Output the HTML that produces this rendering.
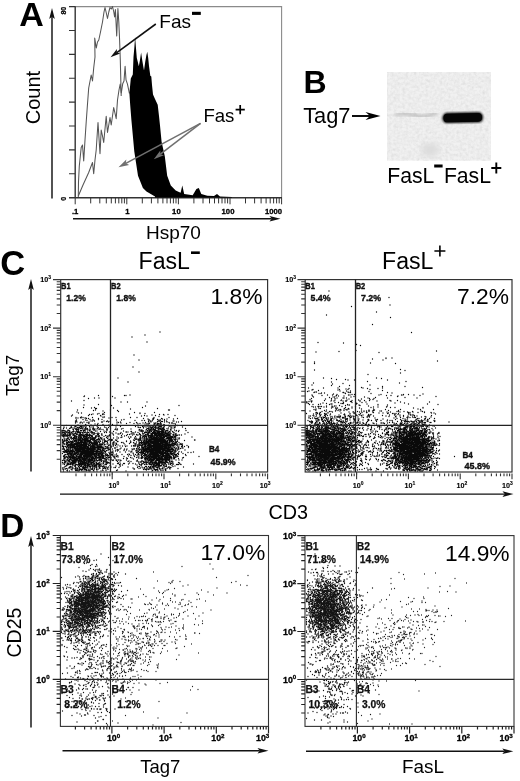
<!DOCTYPE html>
<html><head><meta charset="utf-8"><title>Figure</title>
<style>html,body{margin:0;padding:0;background:#fff;overflow:hidden}svg{display:block}svg,svg text{font-family:"Liberation Sans",Arial,Helvetica,sans-serif}</style></head>
<body>
<svg width="520" height="781" viewBox="0 0 520 781">
<rect width="520" height="781" fill="#fff"/>
<text x="19.2" y="26" font-size="34" font-weight="bold">A</text>
<line x1="52" y1="198.5" x2="52.0" y2="16.8" stroke="#111" stroke-width="1.45"/>
<polygon points="52.00,8.00 54.80,19.00 52.00,16.80 49.20,19.00" fill="#111"/>
<path d="M75 6.6H281.6V197.6" stroke="#8a8a8a" stroke-width="1.1" fill="none"/>
<path d="M75.2 6.2V198.2M69 197.7H282" stroke="#333" stroke-width="1.4" fill="none"/>
<path d="M69 6.6H75M69 30.5H75M69 54.4H75M69 78.2H75M69 102.1H75M69 126.0H75M69 149.9H75M69 173.8H75" stroke="#333" stroke-width="1.1" fill="none"/>
<text x="65.6" y="14.6" font-size="7" font-weight="bold" transform="rotate(-90 65.6 14.6)" stroke="#000" stroke-width=".25">80</text>
<text x="65.6" y="200.8" font-size="7" font-weight="bold" transform="rotate(-90 65.6 200.8)" stroke="#000" stroke-width=".25">0</text>
<path d="M75.2 197.7v6.6M90.7 197.7v5.7M99.8 197.7v5.7M106.3 197.7v5.7M111.3 197.7v5.7M115.4 197.7v5.7M118.8 197.7v5.7M121.8 197.7v5.7M124.4 197.7v5.7M126.8 197.7v6.6M142.3 197.7v5.7M151.4 197.7v5.7M157.9 197.7v5.7M162.9 197.7v5.7M167.0 197.7v5.7M170.4 197.7v5.7M173.4 197.7v5.7M176.0 197.7v5.7M178.4 197.7v6.6M193.9 197.7v5.7M203.0 197.7v5.7M209.5 197.7v5.7M214.5 197.7v5.7M218.6 197.7v5.7M222.0 197.7v5.7M225.0 197.7v5.7M227.6 197.7v5.7M230.0 197.7v6.6M245.5 197.7v5.7M254.6 197.7v5.7M261.1 197.7v5.7M266.1 197.7v5.7M270.2 197.7v5.7M273.6 197.7v5.7M276.6 197.7v5.7M279.2 197.7v5.7M281.6 197.7v6.6" stroke="#333" stroke-width="1" fill="none"/>
<text x="75.2" y="214.2" font-size="7.7" font-weight="bold" text-anchor="middle" stroke="#000" stroke-width=".3">.1</text>
<text x="127.5" y="214.2" font-size="7.7" font-weight="bold" text-anchor="middle" stroke="#000" stroke-width=".3">1</text>
<text x="176.4" y="214.2" font-size="7.7" font-weight="bold" text-anchor="middle" stroke="#000" stroke-width=".3">10</text>
<text x="228.0" y="214.2" font-size="7.7" font-weight="bold" text-anchor="middle" stroke="#000" stroke-width=".3">100</text>
<text x="273.6" y="214.2" font-size="7.7" font-weight="bold" text-anchor="middle" stroke="#000" stroke-width=".3">1000</text>
<line x1="73" y1="218.7" x2="271.7" y2="218.7" stroke="#111" stroke-width="1.45"/>
<polygon points="280.50,218.70 269.50,221.50 271.70,218.70 269.50,215.90" fill="#111"/>
<text x="146" y="239.3" font-size="19">Hsp70</text>
<text x="40.4" y="97.6" font-size="20" text-anchor="middle" transform="rotate(-90 40.4 97.6)">Count</text>
<polyline points="78.3,197 78.5,182 79.3,166 81.2,147.5 82.5,145 83.7,161 85,140 86.2,122 87.5,104 88.7,88 91.2,75 92.5,81 93.7,68 95,57 94.7,38 96.3,48 97.5,42 98.8,40 100.5,32 102.5,22 104,12 105,7.5 106.3,13 107.5,18.5 108.8,12 110,7.5 111.3,9 112.5,6.5 113.8,12 114.6,17 115.4,9.5 116.7,36 117.9,8.5 118.8,22 119.6,40 120.3,60 120.8,80 121.2,96" fill="none" stroke="#555" stroke-width="1.05" stroke-linejoin="round"/>
<polyline points="78.3,196 83,185 88.7,172.5 92.5,162.5 93.7,173.7 95,160 96.2,150 98,122.5 100,153.7 101.2,130 102.5,136 103.7,142.5 106.2,116.2 107.5,132.5 110,117.5 111.2,125 113.7,107.5 116.2,118.7 117.5,100 119,90 120.2,84 121.3,93 122.7,83.8 124,81 125.1,66.3 126,79.8 127.4,83.8 129.4,93.3" fill="none" stroke="#555" stroke-width="1.05" stroke-linejoin="round"/>
<polygon points="129.4,93.3 130.8,78.5 132.8,74.4 133.5,57 134.4,47 135.1,37 135.9,47 136.8,58 137.8,62 138.8,66.3 140,60 141.1,52.5 142.2,60 143.2,66 144,70.4 145.2,62 146.4,55 147.3,51.8 148.2,58 149,66 150.3,75.8 151.3,76.5 152,85 153,94.6 155,99 157.7,104.7 159,116 159.9,124.6 161.6,141.7 164.8,156.3 167.2,175.8 170.8,185.5 175.7,190.4 180.6,192.8 182.3,185.5 184.2,194 192.7,195.2 196.4,189.1 198.8,187.9 201.3,194 207.3,195.7 214,196 217,194 220,196.4 232,197 232,197.6 155,197.6 155,196.4 146.5,191.6 142.9,187.9 138,175.8 134.3,151.4 131.4,120 130.2,105 129.4,93.3" fill="#000"/>
<line x1="155.8" y1="24" x2="116.79" y2="52.59" stroke="#111" stroke-width="1.55"/>
<polygon points="110.50,57.20 116.91,49.03 116.79,52.59 120.22,53.55" fill="#111"/>
<line x1="200.5" y1="123.4" x2="125.82" y2="163.29" stroke="#707070" stroke-width="1.5"/>
<polygon points="118.50,167.20 126.35,159.61 125.82,163.29 129.18,164.90" fill="#707070"/>
<line x1="200.5" y1="123.4" x2="160.39" y2="154.15" stroke="#707070" stroke-width="1.5"/>
<polygon points="153.80,159.20 160.31,150.43 160.39,154.15 163.96,155.19" fill="#707070"/>
<text x="159.3" y="27.5" font-size="19">Fas</text>
<rect x="192" y="11.8" width="8.8" height="3.1" fill="#000"/>
<text x="203.4" y="121.6" font-size="18.6">Fas</text>
<path d="M235.6 109.6h9.2M240.2 105v9.2" stroke="#000" stroke-width="1.7" fill="none"/>
<text x="303.5" y="93" font-size="32" font-weight="bold">B</text>
<text x="303.2" y="122.7" font-size="21.8">Tag7</text>
<line x1="352" y1="116" x2="370.0" y2="116.0" stroke="#000" stroke-width="1.9"/>
<polygon points="380.50,116.00 365.50,120.00 370.00,116.00 365.50,112.00" fill="#000"/>
<defs><filter id="nz" x="0" y="0" width="100%" height="100%"><feTurbulence type="fractalNoise" baseFrequency="0.35" numOctaves="2" seed="3"/><feColorMatrix type="matrix" values="0 0 0 0 0  0 0 0 0 0  0 0 0 0 0  .5 .5 .5 0 -.58"/></filter><filter id="b1"><feGaussianBlur stdDeviation="1.5"/></filter><filter id="b2"><feGaussianBlur stdDeviation="0.9"/></filter><filter id="b3"><feGaussianBlur stdDeviation="3"/></filter></defs>
<rect x="387" y="72" width="104" height="88.6" fill="#f1f1f1"/>
<rect x="387" y="72" width="104" height="88.6" fill="#000" filter="url(#nz)" opacity=".12"/>
<ellipse cx="430" cy="150" rx="9" ry="7" fill="#dcdcdc" filter="url(#b3)"/>
<path d="M397 114.6 C405 112.5 412 114 420 116.5 C426 117.5 432 113.5 436 113.5" stroke="#aaa" stroke-width="4" fill="none" stroke-linecap="round" filter="url(#b1)" opacity=".58"/>
<rect x="442.5" y="112.6" width="40.5" height="10.2" rx="4.6" fill="#000" filter="url(#b2)" transform="rotate(-1.3 463 118)"/>
<rect x="443.5" y="113.4" width="38.5" height="8.6" rx="4" fill="#050505" transform="rotate(-1.3 463 118)"/>
<text x="387.2" y="183.4" font-size="21.2">FasL</text>
<rect x="434.2" y="164.5" width="8.4" height="3" fill="#000"/>
<text x="443.9" y="183.4" font-size="21.2">FasL</text>
<path d="M491.3 168h10M496.3 162.6v10.8" stroke="#000" stroke-width="1.9" fill="none"/>
<text x="0.2" y="275.3" font-size="34.5" font-weight="bold">C</text>
<line x1="31" y1="471.5" x2="31.0" y2="287.8" stroke="#111" stroke-width="1.45"/>
<polygon points="31.00,279.00 33.80,290.00 31.00,287.80 28.20,290.00" fill="#111"/>
<text x="19" y="375.3" font-size="19" text-anchor="middle" transform="rotate(-90 19 375.3)">Tag7</text>
<text x="138.6" y="268.6" font-size="23.1">FasL</text>
<rect x="191" y="251.4" width="8.8" height="2.6" fill="#000"/>
<text x="382.1" y="268.6" font-size="23.1">FasL</text>
<path d="M434.4 251h11M439.9 245.6v10.8" stroke="#000" stroke-width="1.6" fill="none"/>
<path d="M160 332h0M145 335h0M132 337h0M147 342h0M134 355h0M139 360h0M133 367h0M139 372h0M118 378h0M128 382h0M130 395h0M98.5 395.5h0M124.5 395.5h0M126 395.5h0M84.5 396h0M84 396.5h0M112.5 396.5h0M94.5 398h0M99 398h0M115 398h0M88.5 398.5h0M84 400.5h0M71.5 401h0M121 402h0M127.5 402h0M147 402h0M98.5 404.5h0M84 405h0M111.5 405.5h0M179 405.5h0M145.5 406h0M83.5 407.5h0M94.5 407.5h0M142.5 407.5h0M91.5 408h0M113.5 408h0M95.5 408.5h0M96.5 408.5h0M157.5 408.5h0M130.5 409h0M77.5 410h0M95.5 410h0M110.5 410h0M168.5 410h0M169.5 410h0M93.5 410.5h0M117.5 410.5h0M103 411h0M118.5 411.5h0M77 412h0M104.5 412.5h0M134.5 412.5h0M154.5 412.5h0M78.5 413h0M81.5 413h0M140 413h0M99 413.5h0M103 413.5h0M140 413.5h0M145 413.5h0M93 414h0M97.5 414h0M129.5 414h0M89.5 414.5h0M91.5 414.5h0M102.5 414.5h0M104 414.5h0M159.5 414.5h0M163.5 414.5h0M168 414.5h0M72.5 415h0M152 415h0M164 415h0M88.5 415.5h0M100.5 415.5h0M144.5 415.5h0M155.5 415.5h0M175 415.5h0M71.5 416h0M101 416h0M141.5 416h0M147 416h0M159 416.5h0M81.5 417h0M103 417h0M104.5 417h0M76 417.5h0M80.5 417.5h0M83 417.5h0M92.5 417.5h0M103 417.5h0M112 417.5h0M116 417.5h0M130.5 417.5h0M137 417.5h0M154 417.5h0M169 417.5h0M78 418h0M81 418h0M85 418h0M86 418h0M109 418h0M154 418h0M76 418.5h0M86.5 418.5h0M88.5 418.5h0M98.5 418.5h0M143.5 418.5h0M153 418.5h0M161.5 418.5h0M177.5 418.5h0M148 419h0M153.5 419h0M162.5 419h0M167 419h0M173.5 419h0M83 419.5h0M90 419.5h0M93 419.5h0M98.5 419.5h0M102 419.5h0M124 419.5h0M153 419.5h0M157.5 419.5h0M164.5 419.5h0M76.5 420h0M85.5 420h0M116.5 420h0M121.5 420h0M148.5 420h0M149.5 420h0M152.5 420h0M159 420h0M160.5 420h0M87 420.5h0M94 420.5h0M135 420.5h0M142 420.5h0M144.5 420.5h0M164.5 420.5h0M75.5 421h0M76.5 421h0M91 421h0M92.5 421h0M94.5 421h0M104 421h0M107.5 421h0M150.5 421h0M152 421h0M158.5 421h0M159.5 421h0M160 421h0M166.5 421h0M173 421h0M174 421h0M106.5 421.5h0M109 421.5h0M148.5 421.5h0M157.5 421.5h0M161.5 421.5h0M162.5 421.5h0M167 421.5h0M181.5 421.5h0M75.5 422h0M77 422h0M81 422h0M84 422h0M89 422h0M101.5 422h0M102.5 422h0M108.5 422h0M117 422h0M120.5 422h0M149 422h0M151 422h0M164.5 422h0M167 422h0M176.5 422h0M178.5 422h0M81 422.5h0M87 422.5h0M89 422.5h0M118.5 422.5h0M130 422.5h0M136.5 422.5h0M145.5 422.5h0M160.5 422.5h0M169 422.5h0M75.5 423h0M80 423h0M82.5 423h0M88.5 423h0M117 423h0M121 423h0M137 423h0M143 423h0M149 423h0M154 423h0M155.5 423h0M157 423h0M160.5 423h0M169.5 423h0M171.5 423h0M172.5 423h0M89 423.5h0M98 423.5h0M126.5 423.5h0M134 423.5h0M140 423.5h0M147 423.5h0M149.5 423.5h0M155 423.5h0M158 423.5h0M159 423.5h0M174 423.5h0M95 424h0M138 424h0M145 424h0M148.5 424h0M157.5 424h0M158.5 424h0M161 424h0M161.5 424h0M175.5 424h0M85.5 424.5h0M97.5 424.5h0M103 424.5h0M112.5 424.5h0M147 424.5h0M154 424.5h0M157 424.5h0M157.5 424.5h0M160 424.5h0M164 424.5h0M78 425h0M86 425h0M91 425h0M109 425h0M117 425h0M147 425h0M155 425h0M163.5 425h0M164.5 425h0M175.5 425h0M66.5 425.5h0M78.5 425.5h0M81 425.5h0M97.5 425.5h0M151 425.5h0M154.5 425.5h0M156 425.5h0M156.5 425.5h0M159 425.5h0M160 425.5h0M162 425.5h0M164 425.5h0M168.5 425.5h0M177.5 425.5h0M71.5 426h0M74.5 426h0M80 426h0M82 426h0M97 426h0M97.5 426h0M109.5 426h0M146 426h0M149.5 426h0M153.5 426h0M160 426h0M161.5 426h0M164.5 426h0M169 426h0M169.5 426h0M171 426h0M173 426h0M175.5 426h0M75.5 426.5h0M76 426.5h0M80.5 426.5h0M81.5 426.5h0M82 426.5h0M84 426.5h0M86 426.5h0M89.5 426.5h0M120.5 426.5h0M135.5 426.5h0M142.5 426.5h0M144 426.5h0M148 426.5h0M153 426.5h0M155.5 426.5h0M159 426.5h0M160 426.5h0M160.5 426.5h0M161 426.5h0M164 426.5h0M171 426.5h0M64 427h0M71 427h0M81.5 427h0M86 427h0M90 427h0M92 427h0M93.5 427h0M104.5 427h0M116 427h0M138 427h0M146 427h0M150.5 427h0M151 427h0M152.5 427h0M155 427h0M156 427h0M158 427h0M158.5 427h0M161.5 427h0M171 427h0M174.5 427h0M182.5 427h0M64 427.5h0M71.5 427.5h0M77.5 427.5h0M78 427.5h0M79.5 427.5h0M83 427.5h0M85.5 427.5h0M98.5 427.5h0M106 427.5h0M108.5 427.5h0M139 427.5h0M140.5 427.5h0M143.5 427.5h0M150 427.5h0M151.5 427.5h0M152.5 427.5h0M154 427.5h0M163 427.5h0M163.5 427.5h0M164 427.5h0M175 427.5h0M66.5 428h0M70.5 428h0M73 428h0M74.5 428h0M77 428h0M78.5 428h0M81 428h0M85.5 428h0M86 428h0M90 428h0M97.5 428h0M98 428h0M100.5 428h0M143.5 428h0M148.5 428h0M152 428h0M155.5 428h0M156 428h0M156.5 428h0M157.5 428h0M158 428h0M159 428h0M160 428h0M164 428h0M168.5 428h0M171 428h0M172 428h0M174 428h0M63.5 428.5h0M69.5 428.5h0M76 428.5h0M80.5 428.5h0M82 428.5h0M87.5 428.5h0M93 428.5h0M93.5 428.5h0M110.5 428.5h0M123 428.5h0M147 428.5h0M148 428.5h0M149 428.5h0M151 428.5h0M151.5 428.5h0M153.5 428.5h0M158 428.5h0M161 428.5h0M162.5 428.5h0M163 428.5h0M163.5 428.5h0M167 428.5h0M185.5 428.5h0M73 429h0M75.5 429h0M79 429h0M83 429h0M84.5 429h0M85.5 429h0M86.5 429h0M87 429h0M87.5 429h0M90 429h0M92.5 429h0M94 429h0M95 429h0M97 429h0M99.5 429h0M106.5 429h0M107.5 429h0M115.5 429h0M116 429h0M117.5 429h0M121.5 429h0M131 429h0M148.5 429h0M151 429h0M153 429h0M153.5 429h0M154 429h0M155.5 429h0M159.5 429h0M160 429h0M160.5 429h0M161.5 429h0M162 429h0M163.5 429h0M164 429h0M73 429.5h0M73.5 429.5h0M76 429.5h0M76.5 429.5h0M77.5 429.5h0M78.5 429.5h0M99 429.5h0M101 429.5h0M103 429.5h0M115 429.5h0M139.5 429.5h0M146.5 429.5h0M150 429.5h0M150.5 429.5h0M151.5 429.5h0M153.5 429.5h0M154 429.5h0M154.5 429.5h0M158.5 429.5h0M161 429.5h0M161.5 429.5h0M162 429.5h0M163.5 429.5h0M164.5 429.5h0M170.5 429.5h0M171 429.5h0M68 430h0M73.5 430h0M83 430h0M85.5 430h0M87.5 430h0M89 430h0M90.5 430h0M93.5 430h0M94.5 430h0M107 430h0M117 430h0M139 430h0M141 430h0M142 430h0M146 430h0M149 430h0M149.5 430h0M152.5 430h0M154 430h0M154.5 430h0M155.5 430h0M158 430h0M162 430h0M163 430h0M164 430h0M168 430h0M174.5 430h0M63.5 430.5h0M78.5 430.5h0M80.5 430.5h0M81.5 430.5h0M83.5 430.5h0M84.5 430.5h0M89.5 430.5h0M107 430.5h0M141.5 430.5h0M147.5 430.5h0M149.5 430.5h0M150 430.5h0M150.5 430.5h0M154 430.5h0M154.5 430.5h0M155 430.5h0M156.5 430.5h0M158 430.5h0M164 430.5h0M166 430.5h0M167 430.5h0M167.5 430.5h0M171 430.5h0M176.5 430.5h0M179 430.5h0M186 430.5h0M69.5 431h0M76.5 431h0M77 431h0M78.5 431h0M81 431h0M95.5 431h0M97 431h0M104 431h0M123.5 431h0M140 431h0M141 431h0M142.5 431h0M143 431h0M143.5 431h0M147.5 431h0M148 431h0M149.5 431h0M151 431h0M151.5 431h0M154 431h0M155 431h0M155.5 431h0M156.5 431h0M157.5 431h0M158.5 431h0M159.5 431h0M161.5 431h0M162.5 431h0M165.5 431h0M176 431h0M66 431.5h0M73 431.5h0M74 431.5h0M78 431.5h0M78.5 431.5h0M83.5 431.5h0M91.5 431.5h0M92 431.5h0M100.5 431.5h0M106 431.5h0M113.5 431.5h0M131 431.5h0M131.5 431.5h0M142 431.5h0M146 431.5h0M149.5 431.5h0M151.5 431.5h0M153.5 431.5h0M154 431.5h0M154.5 431.5h0M155 431.5h0M157 431.5h0M157.5 431.5h0M159.5 431.5h0M160.5 431.5h0M161 431.5h0M162 431.5h0M162.5 431.5h0M163 431.5h0M163.5 431.5h0M164 431.5h0M165.5 431.5h0M167 431.5h0M169 431.5h0M170 431.5h0M172.5 431.5h0M178.5 431.5h0M66 432h0M72 432h0M73 432h0M75.5 432h0M77 432h0M79.5 432h0M84 432h0M85.5 432h0M87.5 432h0M90 432h0M91 432h0M109.5 432h0M126 432h0M126.5 432h0M128 432h0M135.5 432h0M149 432h0M150 432h0M157 432h0M158 432h0M158.5 432h0M159 432h0M159.5 432h0M160 432h0M161.5 432h0M163.5 432h0M165.5 432h0M173 432h0M67 432.5h0M70 432.5h0M71.5 432.5h0M77.5 432.5h0M78 432.5h0M79 432.5h0M80 432.5h0M81 432.5h0M82.5 432.5h0M84.5 432.5h0M85 432.5h0M88.5 432.5h0M92.5 432.5h0M94 432.5h0M104.5 432.5h0M106.5 432.5h0M121 432.5h0M138 432.5h0M144.5 432.5h0M145 432.5h0M145.5 432.5h0M146.5 432.5h0M148 432.5h0M149 432.5h0M149.5 432.5h0M150 432.5h0M152.5 432.5h0M153 432.5h0M154 432.5h0M154.5 432.5h0M155.5 432.5h0M157.5 432.5h0M158.5 432.5h0M159.5 432.5h0M161.5 432.5h0M162 432.5h0M162.5 432.5h0M163 432.5h0M163.5 432.5h0M165 432.5h0M168.5 432.5h0M174 432.5h0M188 432.5h0M67.5 433h0M69 433h0M77 433h0M83 433h0M86.5 433h0M87 433h0M91.5 433h0M93 433h0M94.5 433h0M98 433h0M112 433h0M116 433h0M132 433h0M133 433h0M134 433h0M142.5 433h0M147.5 433h0M148 433h0M148.5 433h0M150 433h0M153.5 433h0M154.5 433h0M155.5 433h0M156.5 433h0M157 433h0M159 433h0M160 433h0M161.5 433h0M162.5 433h0M163.5 433h0M164.5 433h0M165.5 433h0M166 433h0M166.5 433h0M167.5 433h0M168 433h0M169.5 433h0M170.5 433h0M72 433.5h0M75 433.5h0M75.5 433.5h0M80.5 433.5h0M83 433.5h0M93 433.5h0M95 433.5h0M97 433.5h0M99 433.5h0M120.5 433.5h0M139.5 433.5h0M144 433.5h0M148 433.5h0M151.5 433.5h0M152 433.5h0M152.5 433.5h0M153.5 433.5h0M154 433.5h0M155.5 433.5h0M156 433.5h0M156.5 433.5h0M157.5 433.5h0M158 433.5h0M158.5 433.5h0M159 433.5h0M159.5 433.5h0M160 433.5h0M161 433.5h0M161.5 433.5h0M162.5 433.5h0M165 433.5h0M165.5 433.5h0M166.5 433.5h0M168 433.5h0M171 433.5h0M176 433.5h0M64 434h0M64.5 434h0M65 434h0M70.5 434h0M72 434h0M73 434h0M74 434h0M76.5 434h0M77 434h0M79.5 434h0M80 434h0M87.5 434h0M89.5 434h0M93 434h0M101.5 434h0M102 434h0M113 434h0M118 434h0M119 434h0M122.5 434h0M131 434h0M143 434h0M148 434h0M148.5 434h0M151 434h0M152 434h0M152.5 434h0M154.5 434h0M155 434h0M156 434h0M156.5 434h0M157 434h0M158 434h0M158.5 434h0M159 434h0M160 434h0M161.5 434h0M162 434h0M163 434h0M166.5 434h0M167 434h0M168 434h0M169 434h0M174 434h0M175.5 434h0M185 434h0M63.5 434.5h0M69.5 434.5h0M73.5 434.5h0M74 434.5h0M76.5 434.5h0M78 434.5h0M80.5 434.5h0M81 434.5h0M82 434.5h0M85.5 434.5h0M86 434.5h0M87 434.5h0M87.5 434.5h0M89 434.5h0M90 434.5h0M94 434.5h0M97.5 434.5h0M98.5 434.5h0M110 434.5h0M127.5 434.5h0M129.5 434.5h0M134 434.5h0M136.5 434.5h0M139.5 434.5h0M140.5 434.5h0M145.5 434.5h0M147 434.5h0M151 434.5h0M152.5 434.5h0M154.5 434.5h0M156 434.5h0M157 434.5h0M158.5 434.5h0M159.5 434.5h0M160 434.5h0M160.5 434.5h0M161.5 434.5h0M162 434.5h0M162.5 434.5h0M164 434.5h0M164.5 434.5h0M168 434.5h0M169.5 434.5h0M173 434.5h0M173.5 434.5h0M69 435h0M70.5 435h0M73.5 435h0M74 435h0M79.5 435h0M80 435h0M81 435h0M82.5 435h0M83.5 435h0M84 435h0M85 435h0M86.5 435h0M89 435h0M102 435h0M109.5 435h0M113.5 435h0M132.5 435h0M137 435h0M138 435h0M143 435h0M145.5 435h0M146 435h0M147 435h0M148 435h0M151.5 435h0M152.5 435h0M155 435h0M155.5 435h0M156.5 435h0M157 435h0M158.5 435h0M159 435h0M160 435h0M160.5 435h0M161 435h0M162.5 435h0M163.5 435h0M165 435h0M166 435h0M167.5 435h0M169 435h0M169.5 435h0M170.5 435h0M174 435h0M175.5 435h0M176 435h0M176.5 435h0M178 435h0M179.5 435h0M181.5 435h0M64 435.5h0M66 435.5h0M67 435.5h0M67.5 435.5h0M68.5 435.5h0M70 435.5h0M73 435.5h0M75 435.5h0M79 435.5h0M80.5 435.5h0M81 435.5h0M82.5 435.5h0M84 435.5h0M84.5 435.5h0M85 435.5h0M86.5 435.5h0M87.5 435.5h0M88 435.5h0M89 435.5h0M89.5 435.5h0M90.5 435.5h0M91 435.5h0M91.5 435.5h0M92 435.5h0M97 435.5h0M99 435.5h0M102 435.5h0M105.5 435.5h0M109 435.5h0M121.5 435.5h0M126.5 435.5h0M141 435.5h0M144.5 435.5h0M149 435.5h0M150 435.5h0M150.5 435.5h0M151 435.5h0M151.5 435.5h0M152 435.5h0M153 435.5h0M154.5 435.5h0M155.5 435.5h0M158 435.5h0M158.5 435.5h0M160.5 435.5h0M161 435.5h0M162 435.5h0M163 435.5h0M165 435.5h0M165.5 435.5h0M166 435.5h0M167 435.5h0M167.5 435.5h0M168 435.5h0M169 435.5h0M169.5 435.5h0M170 435.5h0M177 435.5h0M63.5 436h0M67 436h0M67.5 436h0M70 436h0M74.5 436h0M75.5 436h0M76 436h0M78.5 436h0M79 436h0M80 436h0M80.5 436h0M81 436h0M81.5 436h0M83 436h0M83.5 436h0M86.5 436h0M87.5 436h0M91.5 436h0M92.5 436h0M95.5 436h0M96.5 436h0M98.5 436h0M99.5 436h0M107 436h0M110 436h0M124.5 436h0M140.5 436h0M143 436h0M144 436h0M144.5 436h0M148 436h0M148.5 436h0M150.5 436h0M151 436h0M151.5 436h0M152 436h0M154 436h0M154.5 436h0M156 436h0M157 436h0M159 436h0M159.5 436h0M160.5 436h0M161.5 436h0M163.5 436h0M164 436h0M164.5 436h0M166 436h0M166.5 436h0M167.5 436h0M168.5 436h0M173 436h0M174 436h0M176 436h0M63 436.5h0M63.5 436.5h0M65 436.5h0M67 436.5h0M70 436.5h0M74.5 436.5h0M76.5 436.5h0M77 436.5h0M79 436.5h0M81 436.5h0M84 436.5h0M84.5 436.5h0M85.5 436.5h0M86.5 436.5h0M89.5 436.5h0M91.5 436.5h0M92.5 436.5h0M95.5 436.5h0M96 436.5h0M98 436.5h0M98.5 436.5h0M104 436.5h0M108 436.5h0M135.5 436.5h0M143.5 436.5h0M145.5 436.5h0M146.5 436.5h0M148.5 436.5h0M150.5 436.5h0M151.5 436.5h0M153 436.5h0M156.5 436.5h0M157.5 436.5h0M159 436.5h0M159.5 436.5h0M160.5 436.5h0M161.5 436.5h0M163 436.5h0M163.5 436.5h0M164 436.5h0M165 436.5h0M165.5 436.5h0M166.5 436.5h0M167 436.5h0M170 436.5h0M170.5 436.5h0M171.5 436.5h0M172.5 436.5h0M175 436.5h0M175.5 436.5h0M70 437h0M71.5 437h0M75 437h0M76.5 437h0M77 437h0M81 437h0M83.5 437h0M84.5 437h0M86.5 437h0M87 437h0M95.5 437h0M96 437h0M99 437h0M117 437h0M122 437h0M128.5 437h0M130.5 437h0M131 437h0M140 437h0M140.5 437h0M142.5 437h0M146 437h0M146.5 437h0M149.5 437h0M150 437h0M150.5 437h0M151.5 437h0M152 437h0M154.5 437h0M156.5 437h0M159 437h0M160.5 437h0M161 437h0M162 437h0M163 437h0M163.5 437h0M164.5 437h0M168.5 437h0M169.5 437h0M171 437h0M174.5 437h0M192 437h0M68 437.5h0M71.5 437.5h0M73.5 437.5h0M74 437.5h0M74.5 437.5h0M75 437.5h0M76.5 437.5h0M78.5 437.5h0M80 437.5h0M80.5 437.5h0M81 437.5h0M81.5 437.5h0M83.5 437.5h0M86.5 437.5h0M88.5 437.5h0M90.5 437.5h0M93 437.5h0M95 437.5h0M96 437.5h0M100.5 437.5h0M106.5 437.5h0M121 437.5h0M144.5 437.5h0M150 437.5h0M150.5 437.5h0M151 437.5h0M151.5 437.5h0M152 437.5h0M153.5 437.5h0M154 437.5h0M154.5 437.5h0M155.5 437.5h0M156 437.5h0M156.5 437.5h0M157 437.5h0M157.5 437.5h0M158.5 437.5h0M161 437.5h0M162 437.5h0M162.5 437.5h0M163.5 437.5h0M164 437.5h0M164.5 437.5h0M167 437.5h0M167.5 437.5h0M168.5 437.5h0M169.5 437.5h0M170.5 437.5h0M172 437.5h0M173 437.5h0M175.5 437.5h0M64 438h0M68.5 438h0M70.5 438h0M74 438h0M76 438h0M79 438h0M82 438h0M85.5 438h0M86 438h0M87 438h0M87.5 438h0M88.5 438h0M89.5 438h0M91 438h0M92 438h0M93 438h0M94 438h0M95 438h0M95.5 438h0M101 438h0M102 438h0M108 438h0M113.5 438h0M118.5 438h0M134.5 438h0M136 438h0M140 438h0M141 438h0M143 438h0M147 438h0M148.5 438h0M149.5 438h0M151.5 438h0M153 438h0M154 438h0M154.5 438h0M155 438h0M155.5 438h0M156.5 438h0M157.5 438h0M158 438h0M158.5 438h0M159.5 438h0M160 438h0M161.5 438h0M162 438h0M162.5 438h0M163 438h0M163.5 438h0M164 438h0M167 438h0M168 438h0M169 438h0M171 438h0M171.5 438h0M173.5 438h0M175 438h0M175.5 438h0M176 438h0M178 438h0M179.5 438h0M67.5 438.5h0M68 438.5h0M72.5 438.5h0M73.5 438.5h0M74.5 438.5h0M75.5 438.5h0M76.5 438.5h0M78 438.5h0M82.5 438.5h0M83 438.5h0M84.5 438.5h0M86 438.5h0M87.5 438.5h0M88 438.5h0M92 438.5h0M93.5 438.5h0M95 438.5h0M98.5 438.5h0M107.5 438.5h0M129.5 438.5h0M140 438.5h0M143 438.5h0M144.5 438.5h0M146 438.5h0M151.5 438.5h0M152.5 438.5h0M153 438.5h0M154 438.5h0M155 438.5h0M155.5 438.5h0M156.5 438.5h0M159.5 438.5h0M160 438.5h0M160.5 438.5h0M161.5 438.5h0M162 438.5h0M162.5 438.5h0M163.5 438.5h0M164 438.5h0M166 438.5h0M167 438.5h0M168 438.5h0M168.5 438.5h0M169.5 438.5h0M170 438.5h0M170.5 438.5h0M171 438.5h0M65 439h0M66.5 439h0M67 439h0M71.5 439h0M73.5 439h0M74 439h0M76.5 439h0M78 439h0M79.5 439h0M80 439h0M80.5 439h0M81 439h0M82 439h0M82.5 439h0M83 439h0M84.5 439h0M85.5 439h0M86 439h0M87 439h0M87.5 439h0M90.5 439h0M92.5 439h0M93.5 439h0M94.5 439h0M99 439h0M100 439h0M101.5 439h0M104 439h0M104.5 439h0M117 439h0M135 439h0M137 439h0M139 439h0M139.5 439h0M141 439h0M146 439h0M146.5 439h0M147 439h0M147.5 439h0M149.5 439h0M150.5 439h0M151 439h0M152 439h0M153.5 439h0M154 439h0M155 439h0M155.5 439h0M156 439h0M157.5 439h0M158 439h0M159.5 439h0M160 439h0M161 439h0M161.5 439h0M162 439h0M163 439h0M164 439h0M166 439h0M170.5 439h0M172 439h0M179 439h0M62.5 439.5h0M67 439.5h0M69 439.5h0M69.5 439.5h0M73.5 439.5h0M74 439.5h0M78.5 439.5h0M79 439.5h0M84 439.5h0M85 439.5h0M85.5 439.5h0M86 439.5h0M87.5 439.5h0M88 439.5h0M91 439.5h0M92 439.5h0M92.5 439.5h0M93 439.5h0M93.5 439.5h0M94 439.5h0M94.5 439.5h0M97 439.5h0M97.5 439.5h0M98 439.5h0M109.5 439.5h0M111 439.5h0M112 439.5h0M136 439.5h0M138.5 439.5h0M140.5 439.5h0M143 439.5h0M144.5 439.5h0M148 439.5h0M149.5 439.5h0M151.5 439.5h0M152 439.5h0M153 439.5h0M153.5 439.5h0M154 439.5h0M154.5 439.5h0M156 439.5h0M156.5 439.5h0M157 439.5h0M157.5 439.5h0M158 439.5h0M158.5 439.5h0M159.5 439.5h0M160 439.5h0M161.5 439.5h0M162 439.5h0M162.5 439.5h0M163 439.5h0M164 439.5h0M164.5 439.5h0M168 439.5h0M168.5 439.5h0M169.5 439.5h0M170 439.5h0M171 439.5h0M172 439.5h0M174 439.5h0M175 439.5h0M176 439.5h0M63 440h0M64.5 440h0M66.5 440h0M74 440h0M75.5 440h0M77 440h0M77.5 440h0M78.5 440h0M79 440h0M79.5 440h0M80 440h0M80.5 440h0M81 440h0M82.5 440h0M83.5 440h0M84 440h0M84.5 440h0M85 440h0M87 440h0M88 440h0M88.5 440h0M90 440h0M93.5 440h0M96 440h0M98 440h0M99.5 440h0M102.5 440h0M104 440h0M104.5 440h0M108.5 440h0M109 440h0M112.5 440h0M115.5 440h0M133.5 440h0M138 440h0M140 440h0M144.5 440h0M145 440h0M146.5 440h0M148.5 440h0M149.5 440h0M150.5 440h0M151 440h0M155 440h0M155.5 440h0M156 440h0M156.5 440h0M157.5 440h0M158 440h0M158.5 440h0M159.5 440h0M160 440h0M161 440h0M162 440h0M163.5 440h0M165 440h0M166 440h0M169 440h0M170 440h0M171 440h0M172 440h0M172.5 440h0M175.5 440h0M177.5 440h0M194.5 440h0M195 440h0M62.5 440.5h0M65 440.5h0M67.5 440.5h0M74 440.5h0M74.5 440.5h0M76.5 440.5h0M78.5 440.5h0M79 440.5h0M82 440.5h0M84 440.5h0M84.5 440.5h0M85.5 440.5h0M86 440.5h0M86.5 440.5h0M87.5 440.5h0M88 440.5h0M88.5 440.5h0M89 440.5h0M90.5 440.5h0M93 440.5h0M94.5 440.5h0M95.5 440.5h0M96 440.5h0M105 440.5h0M111.5 440.5h0M116.5 440.5h0M134.5 440.5h0M139 440.5h0M141 440.5h0M143 440.5h0M145 440.5h0M148.5 440.5h0M150.5 440.5h0M154 440.5h0M154.5 440.5h0M155 440.5h0M155.5 440.5h0M156 440.5h0M158.5 440.5h0M159 440.5h0M159.5 440.5h0M160.5 440.5h0M161 440.5h0M162 440.5h0M162.5 440.5h0M163 440.5h0M163.5 440.5h0M164 440.5h0M165 440.5h0M165.5 440.5h0M167.5 440.5h0M169 440.5h0M172.5 440.5h0M175 440.5h0M184.5 440.5h0M64 441h0M64.5 441h0M66 441h0M67 441h0M70 441h0M72.5 441h0M75 441h0M75.5 441h0M76.5 441h0M80 441h0M81 441h0M82 441h0M82.5 441h0M85 441h0M86 441h0M86.5 441h0M87.5 441h0M90 441h0M90.5 441h0M95 441h0M96.5 441h0M98 441h0M100.5 441h0M106 441h0M107.5 441h0M126.5 441h0M130.5 441h0M141.5 441h0M144 441h0M144.5 441h0M145 441h0M146 441h0M146.5 441h0M147 441h0M147.5 441h0M148 441h0M148.5 441h0M149 441h0M150 441h0M150.5 441h0M151 441h0M151.5 441h0M152 441h0M152.5 441h0M153.5 441h0M154 441h0M154.5 441h0M155.5 441h0M157 441h0M157.5 441h0M158 441h0M158.5 441h0M159 441h0M161 441h0M161.5 441h0M162.5 441h0M164.5 441h0M165 441h0M167 441h0M167.5 441h0M169.5 441h0M170.5 441h0M171.5 441h0M172 441h0M175 441h0M63.5 441.5h0M64 441.5h0M68.5 441.5h0M70.5 441.5h0M71.5 441.5h0M72.5 441.5h0M74 441.5h0M75 441.5h0M76.5 441.5h0M78.5 441.5h0M80.5 441.5h0M84 441.5h0M85 441.5h0M85.5 441.5h0M86 441.5h0M87.5 441.5h0M88 441.5h0M88.5 441.5h0M89 441.5h0M94 441.5h0M94.5 441.5h0M95 441.5h0M96.5 441.5h0M98 441.5h0M99 441.5h0M100.5 441.5h0M104.5 441.5h0M105.5 441.5h0M106 441.5h0M107 441.5h0M114 441.5h0M117.5 441.5h0M118 441.5h0M126.5 441.5h0M139 441.5h0M141.5 441.5h0M143.5 441.5h0M145 441.5h0M146.5 441.5h0M148 441.5h0M149 441.5h0M150 441.5h0M150.5 441.5h0M151.5 441.5h0M152.5 441.5h0M153.5 441.5h0M154 441.5h0M155 441.5h0M155.5 441.5h0M156 441.5h0M157.5 441.5h0M158 441.5h0M159 441.5h0M160 441.5h0M160.5 441.5h0M161.5 441.5h0M162 441.5h0M162.5 441.5h0M163.5 441.5h0M164.5 441.5h0M166 441.5h0M167.5 441.5h0M169.5 441.5h0M170 441.5h0M171.5 441.5h0M173.5 441.5h0M176 441.5h0M177.5 441.5h0M62.5 442h0M63 442h0M63.5 442h0M69 442h0M71.5 442h0M72 442h0M73.5 442h0M77 442h0M77.5 442h0M80.5 442h0M81 442h0M81.5 442h0M82 442h0M82.5 442h0M83.5 442h0M84.5 442h0M87.5 442h0M89.5 442h0M90.5 442h0M91.5 442h0M96 442h0M102.5 442h0M110.5 442h0M114 442h0M131 442h0M136.5 442h0M139 442h0M146.5 442h0M147.5 442h0M149 442h0M150 442h0M151 442h0M151.5 442h0M152 442h0M153 442h0M153.5 442h0M154.5 442h0M155.5 442h0M156 442h0M156.5 442h0M157 442h0M157.5 442h0M158 442h0M158.5 442h0M160.5 442h0M161 442h0M162 442h0M162.5 442h0M163 442h0M164 442h0M164.5 442h0M165 442h0M165.5 442h0M166.5 442h0M169 442h0M169.5 442h0M170 442h0M172.5 442h0M176.5 442h0M66.5 442.5h0M67.5 442.5h0M68.5 442.5h0M69.5 442.5h0M71.5 442.5h0M72.5 442.5h0M77 442.5h0M78 442.5h0M78.5 442.5h0M79 442.5h0M80 442.5h0M81 442.5h0M82 442.5h0M82.5 442.5h0M85 442.5h0M85.5 442.5h0M86 442.5h0M87 442.5h0M89 442.5h0M90 442.5h0M90.5 442.5h0M91 442.5h0M93 442.5h0M94.5 442.5h0M95.5 442.5h0M96 442.5h0M97 442.5h0M98 442.5h0M99.5 442.5h0M103 442.5h0M104.5 442.5h0M107.5 442.5h0M113 442.5h0M114 442.5h0M121.5 442.5h0M123 442.5h0M130.5 442.5h0M133.5 442.5h0M140 442.5h0M141 442.5h0M142 442.5h0M142.5 442.5h0M143.5 442.5h0M144 442.5h0M144.5 442.5h0M145 442.5h0M146 442.5h0M147.5 442.5h0M148 442.5h0M148.5 442.5h0M150 442.5h0M150.5 442.5h0M151.5 442.5h0M152.5 442.5h0M153 442.5h0M153.5 442.5h0M154 442.5h0M154.5 442.5h0M155 442.5h0M155.5 442.5h0M156.5 442.5h0M157 442.5h0M157.5 442.5h0M158 442.5h0M158.5 442.5h0M160 442.5h0M161.5 442.5h0M162 442.5h0M162.5 442.5h0M163 442.5h0M164 442.5h0M164.5 442.5h0M165.5 442.5h0M166.5 442.5h0M167 442.5h0M167.5 442.5h0M169.5 442.5h0M170 442.5h0M175.5 442.5h0M176.5 442.5h0M179 442.5h0M62.5 443h0M63 443h0M66.5 443h0M68 443h0M70 443h0M71 443h0M71.5 443h0M72 443h0M73 443h0M75.5 443h0M76 443h0M77 443h0M78.5 443h0M79 443h0M80 443h0M81.5 443h0M83.5 443h0M84 443h0M85.5 443h0M86 443h0M87 443h0M89.5 443h0M91 443h0M92 443h0M92.5 443h0M93.5 443h0M94.5 443h0M95.5 443h0M96.5 443h0M97 443h0M99.5 443h0M103 443h0M116 443h0M134 443h0M141.5 443h0M143.5 443h0M145.5 443h0M146 443h0M146.5 443h0M147.5 443h0M148 443h0M148.5 443h0M153 443h0M154 443h0M155 443h0M156.5 443h0M157.5 443h0M158 443h0M158.5 443h0M159 443h0M159.5 443h0M160 443h0M160.5 443h0M161 443h0M161.5 443h0M162 443h0M162.5 443h0M164.5 443h0M165 443h0M165.5 443h0M166 443h0M167 443h0M168.5 443h0M172 443h0M174 443h0M174.5 443h0M64 443.5h0M67.5 443.5h0M71 443.5h0M71.5 443.5h0M74.5 443.5h0M75.5 443.5h0M76.5 443.5h0M77 443.5h0M77.5 443.5h0M78 443.5h0M79 443.5h0M79.5 443.5h0M80 443.5h0M81.5 443.5h0M83.5 443.5h0M85 443.5h0M86.5 443.5h0M89 443.5h0M89.5 443.5h0M91.5 443.5h0M92 443.5h0M93 443.5h0M93.5 443.5h0M95 443.5h0M96 443.5h0M97 443.5h0M97.5 443.5h0M113 443.5h0M116.5 443.5h0M124 443.5h0M129.5 443.5h0M136 443.5h0M139 443.5h0M140 443.5h0M141.5 443.5h0M142 443.5h0M144.5 443.5h0M146.5 443.5h0M148 443.5h0M149 443.5h0M149.5 443.5h0M150.5 443.5h0M151.5 443.5h0M152 443.5h0M153 443.5h0M153.5 443.5h0M154 443.5h0M154.5 443.5h0M155 443.5h0M156 443.5h0M156.5 443.5h0M157 443.5h0M157.5 443.5h0M158.5 443.5h0M159 443.5h0M159.5 443.5h0M160.5 443.5h0M161 443.5h0M161.5 443.5h0M162 443.5h0M163 443.5h0M164 443.5h0M165.5 443.5h0M166 443.5h0M166.5 443.5h0M167 443.5h0M167.5 443.5h0M173 443.5h0M176 443.5h0M181 443.5h0M64.5 444h0M66 444h0M71 444h0M72 444h0M73 444h0M74 444h0M78 444h0M80 444h0M80.5 444h0M81.5 444h0M83 444h0M84.5 444h0M85.5 444h0M86 444h0M87 444h0M87.5 444h0M88.5 444h0M89 444h0M91 444h0M92.5 444h0M94.5 444h0M95 444h0M95.5 444h0M96 444h0M96.5 444h0M100.5 444h0M101.5 444h0M102.5 444h0M104 444h0M107 444h0M108 444h0M112.5 444h0M114 444h0M116 444h0M135 444h0M139.5 444h0M140 444h0M144 444h0M145 444h0M146 444h0M146.5 444h0M148 444h0M148.5 444h0M149 444h0M149.5 444h0M150.5 444h0M151.5 444h0M153.5 444h0M154 444h0M154.5 444h0M155 444h0M155.5 444h0M156 444h0M156.5 444h0M157 444h0M158 444h0M158.5 444h0M159.5 444h0M160 444h0M161 444h0M161.5 444h0M162.5 444h0M163.5 444h0M164 444h0M165.5 444h0M166.5 444h0M167 444h0M169.5 444h0M171 444h0M172 444h0M174 444h0M175 444h0M177.5 444h0M180 444h0M182.5 444h0M64 444.5h0M66.5 444.5h0M68.5 444.5h0M69.5 444.5h0M70.5 444.5h0M71 444.5h0M72 444.5h0M72.5 444.5h0M73 444.5h0M73.5 444.5h0M74 444.5h0M75 444.5h0M76 444.5h0M76.5 444.5h0M77 444.5h0M80 444.5h0M81 444.5h0M81.5 444.5h0M82 444.5h0M82.5 444.5h0M83 444.5h0M83.5 444.5h0M84 444.5h0M85 444.5h0M85.5 444.5h0M86 444.5h0M87 444.5h0M89 444.5h0M90.5 444.5h0M92.5 444.5h0M93 444.5h0M95 444.5h0M96 444.5h0M96.5 444.5h0M97 444.5h0M97.5 444.5h0M99.5 444.5h0M100.5 444.5h0M101 444.5h0M101.5 444.5h0M102.5 444.5h0M104.5 444.5h0M105 444.5h0M116.5 444.5h0M139 444.5h0M142 444.5h0M142.5 444.5h0M143 444.5h0M144.5 444.5h0M145.5 444.5h0M146 444.5h0M148.5 444.5h0M149.5 444.5h0M150.5 444.5h0M151 444.5h0M153 444.5h0M156.5 444.5h0M158 444.5h0M158.5 444.5h0M159 444.5h0M159.5 444.5h0M161 444.5h0M162.5 444.5h0M163 444.5h0M164 444.5h0M164.5 444.5h0M165.5 444.5h0M166 444.5h0M166.5 444.5h0M167.5 444.5h0M168 444.5h0M168.5 444.5h0M169.5 444.5h0M170 444.5h0M170.5 444.5h0M175.5 444.5h0M181 444.5h0M181.5 444.5h0M182 444.5h0M62.5 445h0M67 445h0M67.5 445h0M68 445h0M69 445h0M70.5 445h0M72.5 445h0M74 445h0M74.5 445h0M77 445h0M77.5 445h0M78 445h0M78.5 445h0M79 445h0M84 445h0M84.5 445h0M85.5 445h0M87 445h0M88.5 445h0M89 445h0M93 445h0M93.5 445h0M94 445h0M96 445h0M98.5 445h0M100 445h0M102 445h0M109.5 445h0M113.5 445h0M118 445h0M125 445h0M135 445h0M135.5 445h0M137 445h0M138 445h0M140.5 445h0M144.5 445h0M145.5 445h0M147.5 445h0M148 445h0M149 445h0M149.5 445h0M150.5 445h0M153 445h0M154 445h0M154.5 445h0M155 445h0M155.5 445h0M156.5 445h0M157.5 445h0M158.5 445h0M160 445h0M160.5 445h0M161 445h0M163 445h0M163.5 445h0M164.5 445h0M165 445h0M165.5 445h0M166 445h0M166.5 445h0M167 445h0M167.5 445h0M168 445h0M170.5 445h0M171 445h0M171.5 445h0M172.5 445h0M173 445h0M174 445h0M174.5 445h0M176.5 445h0M177 445h0M179 445h0M68 445.5h0M70.5 445.5h0M71.5 445.5h0M72 445.5h0M73.5 445.5h0M74.5 445.5h0M76 445.5h0M77 445.5h0M77.5 445.5h0M79.5 445.5h0M80 445.5h0M80.5 445.5h0M81 445.5h0M81.5 445.5h0M82 445.5h0M83 445.5h0M83.5 445.5h0M84 445.5h0M84.5 445.5h0M85 445.5h0M86.5 445.5h0M88.5 445.5h0M89.5 445.5h0M90.5 445.5h0M92 445.5h0M92.5 445.5h0M97 445.5h0M97.5 445.5h0M108.5 445.5h0M115.5 445.5h0M133.5 445.5h0M139.5 445.5h0M141 445.5h0M141.5 445.5h0M143 445.5h0M145 445.5h0M145.5 445.5h0M147.5 445.5h0M150 445.5h0M151.5 445.5h0M152.5 445.5h0M153 445.5h0M153.5 445.5h0M154.5 445.5h0M155 445.5h0M155.5 445.5h0M156 445.5h0M157.5 445.5h0M158 445.5h0M158.5 445.5h0M159 445.5h0M159.5 445.5h0M161.5 445.5h0M162 445.5h0M162.5 445.5h0M164 445.5h0M165 445.5h0M166 445.5h0M166.5 445.5h0M167.5 445.5h0M169 445.5h0M169.5 445.5h0M172.5 445.5h0M173 445.5h0M182.5 445.5h0M187 445.5h0M63 446h0M67 446h0M68.5 446h0M69.5 446h0M70.5 446h0M71 446h0M73 446h0M74 446h0M76 446h0M77 446h0M78.5 446h0M79 446h0M79.5 446h0M80 446h0M80.5 446h0M81.5 446h0M82 446h0M84 446h0M85.5 446h0M89 446h0M91 446h0M92.5 446h0M93 446h0M93.5 446h0M94 446h0M94.5 446h0M95 446h0M97 446h0M97.5 446h0M98 446h0M99.5 446h0M100 446h0M101 446h0M104 446h0M112 446h0M113.5 446h0M120 446h0M122.5 446h0M127 446h0M131.5 446h0M133.5 446h0M134.5 446h0M135.5 446h0M138 446h0M139 446h0M141.5 446h0M142.5 446h0M143 446h0M146 446h0M147 446h0M147.5 446h0M148.5 446h0M149 446h0M151 446h0M151.5 446h0M152 446h0M152.5 446h0M153.5 446h0M154 446h0M154.5 446h0M156 446h0M157 446h0M157.5 446h0M158.5 446h0M159 446h0M159.5 446h0M160 446h0M160.5 446h0M161 446h0M161.5 446h0M162 446h0M162.5 446h0M164 446h0M164.5 446h0M165.5 446h0M168 446h0M168.5 446h0M169 446h0M169.5 446h0M170.5 446h0M172 446h0M173 446h0M173.5 446h0M177.5 446h0M62.5 446.5h0M63.5 446.5h0M65 446.5h0M65.5 446.5h0M67 446.5h0M67.5 446.5h0M68 446.5h0M70 446.5h0M71 446.5h0M72.5 446.5h0M75 446.5h0M76 446.5h0M76.5 446.5h0M77 446.5h0M78 446.5h0M79 446.5h0M79.5 446.5h0M80.5 446.5h0M83.5 446.5h0M85 446.5h0M86 446.5h0M86.5 446.5h0M87 446.5h0M88 446.5h0M90.5 446.5h0M91.5 446.5h0M92.5 446.5h0M93.5 446.5h0M95 446.5h0M97.5 446.5h0M98 446.5h0M98.5 446.5h0M99 446.5h0M99.5 446.5h0M100.5 446.5h0M101.5 446.5h0M105.5 446.5h0M107 446.5h0M125.5 446.5h0M137.5 446.5h0M144.5 446.5h0M145 446.5h0M145.5 446.5h0M147 446.5h0M150 446.5h0M150.5 446.5h0M151 446.5h0M151.5 446.5h0M152.5 446.5h0M153 446.5h0M153.5 446.5h0M154 446.5h0M155 446.5h0M155.5 446.5h0M156.5 446.5h0M157 446.5h0M157.5 446.5h0M158 446.5h0M158.5 446.5h0M159 446.5h0M159.5 446.5h0M160 446.5h0M161 446.5h0M162.5 446.5h0M163 446.5h0M163.5 446.5h0M164 446.5h0M165.5 446.5h0M166.5 446.5h0M167 446.5h0M170 446.5h0M181.5 446.5h0M182.5 446.5h0M184.5 446.5h0M188.5 446.5h0M63.5 447h0M70 447h0M71 447h0M72 447h0M73.5 447h0M74 447h0M75 447h0M79 447h0M79.5 447h0M80 447h0M81 447h0M81.5 447h0M82 447h0M82.5 447h0M83 447h0M83.5 447h0M84 447h0M84.5 447h0M85.5 447h0M86 447h0M86.5 447h0M87 447h0M90.5 447h0M92.5 447h0M94.5 447h0M95.5 447h0M96.5 447h0M99 447h0M99.5 447h0M101 447h0M102.5 447h0M108 447h0M111.5 447h0M117 447h0M137.5 447h0M139 447h0M141.5 447h0M145 447h0M145.5 447h0M148.5 447h0M149.5 447h0M150.5 447h0M151.5 447h0M153.5 447h0M154 447h0M154.5 447h0M155 447h0M155.5 447h0M156 447h0M157 447h0M158 447h0M159 447h0M159.5 447h0M160 447h0M161 447h0M161.5 447h0M163 447h0M164.5 447h0M165 447h0M165.5 447h0M166.5 447h0M168.5 447h0M170.5 447h0M171 447h0M175 447h0M178.5 447h0M179 447h0M63.5 447.5h0M66.5 447.5h0M68.5 447.5h0M70 447.5h0M71 447.5h0M72 447.5h0M72.5 447.5h0M73.5 447.5h0M74.5 447.5h0M76 447.5h0M77.5 447.5h0M78 447.5h0M80.5 447.5h0M83.5 447.5h0M85 447.5h0M87.5 447.5h0M88 447.5h0M88.5 447.5h0M90.5 447.5h0M91 447.5h0M93.5 447.5h0M94 447.5h0M95 447.5h0M95.5 447.5h0M97 447.5h0M97.5 447.5h0M98.5 447.5h0M99.5 447.5h0M100.5 447.5h0M101 447.5h0M101.5 447.5h0M103 447.5h0M139.5 447.5h0M142 447.5h0M143 447.5h0M143.5 447.5h0M147.5 447.5h0M149 447.5h0M150 447.5h0M150.5 447.5h0M151.5 447.5h0M153.5 447.5h0M154 447.5h0M155.5 447.5h0M156 447.5h0M156.5 447.5h0M157 447.5h0M157.5 447.5h0M158 447.5h0M158.5 447.5h0M159 447.5h0M159.5 447.5h0M160 447.5h0M160.5 447.5h0M161 447.5h0M162 447.5h0M163 447.5h0M166.5 447.5h0M167 447.5h0M168 447.5h0M168.5 447.5h0M169.5 447.5h0M170 447.5h0M173 447.5h0M174.5 447.5h0M178.5 447.5h0M188.5 447.5h0M63.5 448h0M67 448h0M69 448h0M70.5 448h0M71 448h0M74 448h0M75 448h0M75.5 448h0M76 448h0M76.5 448h0M77 448h0M78 448h0M79.5 448h0M80.5 448h0M81.5 448h0M82 448h0M83 448h0M84 448h0M84.5 448h0M85.5 448h0M87 448h0M89 448h0M90 448h0M91 448h0M91.5 448h0M92 448h0M93 448h0M94 448h0M94.5 448h0M96 448h0M97.5 448h0M98 448h0M102 448h0M103 448h0M104 448h0M106 448h0M106.5 448h0M107 448h0M107.5 448h0M108.5 448h0M110 448h0M114.5 448h0M115.5 448h0M121 448h0M142 448h0M142.5 448h0M144.5 448h0M145.5 448h0M146.5 448h0M147 448h0M147.5 448h0M148 448h0M148.5 448h0M151 448h0M152 448h0M153 448h0M153.5 448h0M154 448h0M154.5 448h0M155 448h0M155.5 448h0M156.5 448h0M158.5 448h0M159.5 448h0M160 448h0M162.5 448h0M163 448h0M164 448h0M165 448h0M165.5 448h0M167 448h0M168 448h0M171.5 448h0M176.5 448h0M178 448h0M182 448h0M183 448h0M67 448.5h0M69 448.5h0M74 448.5h0M74.5 448.5h0M75.5 448.5h0M78 448.5h0M78.5 448.5h0M79 448.5h0M79.5 448.5h0M80 448.5h0M81 448.5h0M83 448.5h0M85 448.5h0M85.5 448.5h0M86.5 448.5h0M88 448.5h0M88.5 448.5h0M89 448.5h0M89.5 448.5h0M90 448.5h0M91 448.5h0M91.5 448.5h0M92.5 448.5h0M93.5 448.5h0M94 448.5h0M94.5 448.5h0M99 448.5h0M103.5 448.5h0M104 448.5h0M105.5 448.5h0M108 448.5h0M134 448.5h0M136.5 448.5h0M138 448.5h0M143 448.5h0M144 448.5h0M145.5 448.5h0M146 448.5h0M146.5 448.5h0M147 448.5h0M148 448.5h0M149 448.5h0M149.5 448.5h0M150 448.5h0M151.5 448.5h0M152 448.5h0M152.5 448.5h0M155.5 448.5h0M156 448.5h0M157 448.5h0M157.5 448.5h0M158.5 448.5h0M159 448.5h0M160 448.5h0M160.5 448.5h0M161 448.5h0M161.5 448.5h0M162 448.5h0M163.5 448.5h0M164 448.5h0M166 448.5h0M167.5 448.5h0M168 448.5h0M169 448.5h0M171.5 448.5h0M172.5 448.5h0M173 448.5h0M176 448.5h0M178.5 448.5h0M180.5 448.5h0M62.5 449h0M63 449h0M63.5 449h0M64.5 449h0M67 449h0M68.5 449h0M70.5 449h0M72.5 449h0M75 449h0M76 449h0M76.5 449h0M77 449h0M78 449h0M79 449h0M79.5 449h0M80.5 449h0M81 449h0M82 449h0M82.5 449h0M83.5 449h0M84 449h0M85 449h0M87 449h0M88 449h0M88.5 449h0M89 449h0M89.5 449h0M92 449h0M93.5 449h0M95 449h0M95.5 449h0M96 449h0M97.5 449h0M98.5 449h0M99.5 449h0M100.5 449h0M102 449h0M103 449h0M104 449h0M105 449h0M108 449h0M112.5 449h0M120 449h0M124.5 449h0M127 449h0M132 449h0M134.5 449h0M138.5 449h0M139 449h0M141 449h0M143.5 449h0M144 449h0M146 449h0M146.5 449h0M147 449h0M148 449h0M149.5 449h0M151.5 449h0M152.5 449h0M153 449h0M153.5 449h0M154 449h0M154.5 449h0M155 449h0M155.5 449h0M156 449h0M157 449h0M157.5 449h0M158 449h0M161 449h0M161.5 449h0M162.5 449h0M163 449h0M163.5 449h0M164 449h0M165 449h0M165.5 449h0M166.5 449h0M167.5 449h0M168 449h0M169 449h0M169.5 449h0M170.5 449h0M171.5 449h0M175 449h0M178 449h0M178.5 449h0M179 449h0M64.5 449.5h0M67 449.5h0M67.5 449.5h0M69 449.5h0M75 449.5h0M75.5 449.5h0M77 449.5h0M77.5 449.5h0M78.5 449.5h0M79 449.5h0M79.5 449.5h0M80.5 449.5h0M81 449.5h0M81.5 449.5h0M82.5 449.5h0M83 449.5h0M83.5 449.5h0M84 449.5h0M84.5 449.5h0M85 449.5h0M86.5 449.5h0M87.5 449.5h0M88 449.5h0M89.5 449.5h0M90.5 449.5h0M91 449.5h0M93 449.5h0M94 449.5h0M94.5 449.5h0M96 449.5h0M98.5 449.5h0M99.5 449.5h0M100.5 449.5h0M102.5 449.5h0M109 449.5h0M110 449.5h0M117.5 449.5h0M133 449.5h0M137 449.5h0M139.5 449.5h0M140 449.5h0M142 449.5h0M143 449.5h0M144 449.5h0M145 449.5h0M145.5 449.5h0M146.5 449.5h0M147 449.5h0M148 449.5h0M148.5 449.5h0M149 449.5h0M149.5 449.5h0M150.5 449.5h0M151 449.5h0M151.5 449.5h0M152 449.5h0M153.5 449.5h0M154 449.5h0M155 449.5h0M155.5 449.5h0M156 449.5h0M158 449.5h0M158.5 449.5h0M159 449.5h0M159.5 449.5h0M160 449.5h0M160.5 449.5h0M161 449.5h0M161.5 449.5h0M162 449.5h0M162.5 449.5h0M163.5 449.5h0M164 449.5h0M164.5 449.5h0M167.5 449.5h0M168 449.5h0M168.5 449.5h0M169 449.5h0M169.5 449.5h0M170.5 449.5h0M171 449.5h0M171.5 449.5h0M172.5 449.5h0M173.5 449.5h0M66.5 450h0M69.5 450h0M72 450h0M72.5 450h0M73.5 450h0M75.5 450h0M76.5 450h0M77 450h0M77.5 450h0M81 450h0M81.5 450h0M83 450h0M83.5 450h0M84 450h0M84.5 450h0M85.5 450h0M86 450h0M86.5 450h0M87.5 450h0M88 450h0M89 450h0M89.5 450h0M90 450h0M92 450h0M94 450h0M94.5 450h0M97.5 450h0M100 450h0M100.5 450h0M116 450h0M118 450h0M118.5 450h0M124 450h0M126.5 450h0M139.5 450h0M143.5 450h0M144.5 450h0M146.5 450h0M147 450h0M147.5 450h0M148 450h0M149.5 450h0M152 450h0M152.5 450h0M153 450h0M153.5 450h0M154.5 450h0M155 450h0M155.5 450h0M156 450h0M156.5 450h0M157 450h0M157.5 450h0M159 450h0M160.5 450h0M162 450h0M163 450h0M164.5 450h0M165 450h0M165.5 450h0M167 450h0M168 450h0M169 450h0M169.5 450h0M170.5 450h0M172 450h0M173 450h0M176 450h0M177.5 450h0M185 450h0M65.5 450.5h0M67 450.5h0M68.5 450.5h0M70.5 450.5h0M71 450.5h0M72 450.5h0M72.5 450.5h0M73 450.5h0M75 450.5h0M76 450.5h0M77 450.5h0M77.5 450.5h0M78 450.5h0M78.5 450.5h0M79 450.5h0M79.5 450.5h0M80 450.5h0M81 450.5h0M82.5 450.5h0M83 450.5h0M84 450.5h0M85 450.5h0M88 450.5h0M89 450.5h0M90.5 450.5h0M91 450.5h0M92 450.5h0M92.5 450.5h0M93 450.5h0M93.5 450.5h0M96.5 450.5h0M97.5 450.5h0M98 450.5h0M102 450.5h0M102.5 450.5h0M103.5 450.5h0M104 450.5h0M106.5 450.5h0M108 450.5h0M124 450.5h0M136 450.5h0M137 450.5h0M139 450.5h0M141.5 450.5h0M142 450.5h0M144 450.5h0M145.5 450.5h0M146.5 450.5h0M148 450.5h0M150 450.5h0M151 450.5h0M152.5 450.5h0M153 450.5h0M153.5 450.5h0M154.5 450.5h0M155 450.5h0M155.5 450.5h0M156.5 450.5h0M157 450.5h0M157.5 450.5h0M158.5 450.5h0M159 450.5h0M160 450.5h0M160.5 450.5h0M162 450.5h0M162.5 450.5h0M163 450.5h0M164 450.5h0M164.5 450.5h0M165 450.5h0M166 450.5h0M167 450.5h0M168 450.5h0M169.5 450.5h0M170 450.5h0M173 450.5h0M175 450.5h0M64.5 451h0M66 451h0M67 451h0M68 451h0M70.5 451h0M71 451h0M71.5 451h0M75 451h0M76.5 451h0M77.5 451h0M78 451h0M78.5 451h0M79 451h0M80.5 451h0M83 451h0M83.5 451h0M84 451h0M84.5 451h0M85.5 451h0M86 451h0M87 451h0M88.5 451h0M91 451h0M91.5 451h0M92 451h0M92.5 451h0M93 451h0M93.5 451h0M95.5 451h0M97 451h0M100 451h0M101 451h0M104.5 451h0M106 451h0M110.5 451h0M113 451h0M115.5 451h0M117.5 451h0M129 451h0M132 451h0M136 451h0M137.5 451h0M141 451h0M142.5 451h0M143 451h0M144 451h0M145 451h0M146.5 451h0M148 451h0M148.5 451h0M149 451h0M150.5 451h0M151 451h0M152 451h0M152.5 451h0M153.5 451h0M155 451h0M155.5 451h0M156 451h0M156.5 451h0M157.5 451h0M158 451h0M159.5 451h0M160 451h0M160.5 451h0M162.5 451h0M163 451h0M164 451h0M165.5 451h0M166 451h0M166.5 451h0M167.5 451h0M168 451h0M168.5 451h0M170 451h0M174 451h0M63 451.5h0M63.5 451.5h0M65.5 451.5h0M66.5 451.5h0M68.5 451.5h0M69 451.5h0M70 451.5h0M72.5 451.5h0M73.5 451.5h0M74 451.5h0M74.5 451.5h0M75 451.5h0M78 451.5h0M78.5 451.5h0M79 451.5h0M79.5 451.5h0M80.5 451.5h0M81 451.5h0M81.5 451.5h0M82 451.5h0M82.5 451.5h0M83.5 451.5h0M84 451.5h0M85 451.5h0M86 451.5h0M86.5 451.5h0M87.5 451.5h0M88 451.5h0M89.5 451.5h0M90 451.5h0M91.5 451.5h0M92.5 451.5h0M93 451.5h0M94.5 451.5h0M95 451.5h0M96 451.5h0M97 451.5h0M97.5 451.5h0M98.5 451.5h0M99.5 451.5h0M100 451.5h0M104.5 451.5h0M105.5 451.5h0M131 451.5h0M138.5 451.5h0M141 451.5h0M141.5 451.5h0M143.5 451.5h0M145 451.5h0M147.5 451.5h0M148.5 451.5h0M149 451.5h0M149.5 451.5h0M150 451.5h0M150.5 451.5h0M151 451.5h0M152 451.5h0M152.5 451.5h0M155 451.5h0M156 451.5h0M157.5 451.5h0M158 451.5h0M158.5 451.5h0M159.5 451.5h0M161 451.5h0M162 451.5h0M162.5 451.5h0M163 451.5h0M163.5 451.5h0M165.5 451.5h0M166 451.5h0M167 451.5h0M168 451.5h0M169 451.5h0M171 451.5h0M171.5 451.5h0M172.5 451.5h0M176 451.5h0M179 451.5h0M63.5 452h0M65.5 452h0M67.5 452h0M69.5 452h0M70.5 452h0M71.5 452h0M72 452h0M73 452h0M74 452h0M76.5 452h0M77 452h0M77.5 452h0M78.5 452h0M79.5 452h0M80 452h0M80.5 452h0M82 452h0M83 452h0M83.5 452h0M84.5 452h0M85 452h0M85.5 452h0M86 452h0M86.5 452h0M87.5 452h0M88 452h0M88.5 452h0M89.5 452h0M90.5 452h0M91 452h0M92 452h0M92.5 452h0M93 452h0M93.5 452h0M94 452h0M96.5 452h0M97 452h0M97.5 452h0M98.5 452h0M100 452h0M101.5 452h0M102 452h0M102.5 452h0M104 452h0M112 452h0M120 452h0M125.5 452h0M141.5 452h0M143 452h0M144 452h0M146 452h0M146.5 452h0M147 452h0M148.5 452h0M151 452h0M151.5 452h0M152 452h0M152.5 452h0M153.5 452h0M154 452h0M154.5 452h0M155 452h0M156.5 452h0M157.5 452h0M158.5 452h0M159.5 452h0M160 452h0M160.5 452h0M161.5 452h0M163 452h0M165.5 452h0M166 452h0M169 452h0M170 452h0M170.5 452h0M171 452h0M175 452h0M175.5 452h0M181.5 452h0M193.5 452h0M64.5 452.5h0M66.5 452.5h0M69 452.5h0M70 452.5h0M72 452.5h0M72.5 452.5h0M76 452.5h0M77 452.5h0M77.5 452.5h0M81.5 452.5h0M82 452.5h0M82.5 452.5h0M83 452.5h0M84.5 452.5h0M85 452.5h0M85.5 452.5h0M86 452.5h0M86.5 452.5h0M87.5 452.5h0M88.5 452.5h0M89 452.5h0M90 452.5h0M90.5 452.5h0M91 452.5h0M92 452.5h0M92.5 452.5h0M93 452.5h0M96 452.5h0M101 452.5h0M101.5 452.5h0M105.5 452.5h0M109 452.5h0M110.5 452.5h0M111 452.5h0M113 452.5h0M131 452.5h0M136.5 452.5h0M137 452.5h0M139.5 452.5h0M140.5 452.5h0M141.5 452.5h0M142.5 452.5h0M143.5 452.5h0M147.5 452.5h0M149 452.5h0M150.5 452.5h0M151 452.5h0M151.5 452.5h0M152.5 452.5h0M153 452.5h0M153.5 452.5h0M154 452.5h0M155 452.5h0M156 452.5h0M156.5 452.5h0M157 452.5h0M158 452.5h0M158.5 452.5h0M159 452.5h0M159.5 452.5h0M160.5 452.5h0M161 452.5h0M161.5 452.5h0M162.5 452.5h0M163 452.5h0M163.5 452.5h0M164.5 452.5h0M165 452.5h0M165.5 452.5h0M167.5 452.5h0M170.5 452.5h0M171 452.5h0M174 452.5h0M188 452.5h0M191 452.5h0M67.5 453h0M69 453h0M70.5 453h0M72 453h0M74.5 453h0M75 453h0M78 453h0M78.5 453h0M81 453h0M81.5 453h0M82 453h0M82.5 453h0M83.5 453h0M84 453h0M84.5 453h0M85.5 453h0M86.5 453h0M88 453h0M89 453h0M90 453h0M91 453h0M91.5 453h0M92 453h0M92.5 453h0M94 453h0M95.5 453h0M96 453h0M96.5 453h0M97.5 453h0M99.5 453h0M102 453h0M103.5 453h0M113 453h0M133 453h0M138 453h0M141.5 453h0M145.5 453h0M147.5 453h0M150.5 453h0M151 453h0M151.5 453h0M152.5 453h0M153.5 453h0M154 453h0M154.5 453h0M155 453h0M155.5 453h0M156 453h0M156.5 453h0M157 453h0M157.5 453h0M159 453h0M159.5 453h0M160 453h0M161 453h0M164 453h0M166.5 453h0M167 453h0M167.5 453h0M170.5 453h0M171 453h0M171.5 453h0M172 453h0M173.5 453h0M174 453h0M178.5 453h0M62.5 453.5h0M68.5 453.5h0M70 453.5h0M70.5 453.5h0M71.5 453.5h0M72.5 453.5h0M74 453.5h0M75 453.5h0M75.5 453.5h0M76 453.5h0M76.5 453.5h0M80.5 453.5h0M81 453.5h0M81.5 453.5h0M82 453.5h0M82.5 453.5h0M84 453.5h0M84.5 453.5h0M85 453.5h0M85.5 453.5h0M87.5 453.5h0M88 453.5h0M89.5 453.5h0M90.5 453.5h0M92.5 453.5h0M93 453.5h0M94 453.5h0M94.5 453.5h0M95 453.5h0M95.5 453.5h0M97 453.5h0M98.5 453.5h0M99 453.5h0M100.5 453.5h0M103 453.5h0M105 453.5h0M109.5 453.5h0M111 453.5h0M113 453.5h0M138.5 453.5h0M141 453.5h0M143 453.5h0M144 453.5h0M145 453.5h0M148 453.5h0M150 453.5h0M150.5 453.5h0M151 453.5h0M152 453.5h0M153 453.5h0M153.5 453.5h0M154 453.5h0M154.5 453.5h0M155 453.5h0M155.5 453.5h0M156 453.5h0M157 453.5h0M157.5 453.5h0M159.5 453.5h0M160.5 453.5h0M162 453.5h0M162.5 453.5h0M163 453.5h0M164 453.5h0M164.5 453.5h0M165 453.5h0M165.5 453.5h0M167 453.5h0M168.5 453.5h0M170 453.5h0M171 453.5h0M172.5 453.5h0M173 453.5h0M177.5 453.5h0M183 453.5h0M67.5 454h0M69 454h0M69.5 454h0M71.5 454h0M72 454h0M73.5 454h0M75 454h0M75.5 454h0M76 454h0M77 454h0M78 454h0M78.5 454h0M79.5 454h0M81.5 454h0M82 454h0M83.5 454h0M84.5 454h0M85.5 454h0M86.5 454h0M87.5 454h0M89 454h0M90.5 454h0M91.5 454h0M92.5 454h0M93.5 454h0M94 454h0M94.5 454h0M96.5 454h0M97 454h0M98.5 454h0M99.5 454h0M100.5 454h0M101 454h0M101.5 454h0M102.5 454h0M106.5 454h0M111 454h0M116.5 454h0M129 454h0M133.5 454h0M142.5 454h0M147.5 454h0M149.5 454h0M151.5 454h0M153.5 454h0M154 454h0M154.5 454h0M155 454h0M156 454h0M157 454h0M158.5 454h0M159 454h0M161.5 454h0M162 454h0M162.5 454h0M163 454h0M163.5 454h0M165.5 454h0M166 454h0M166.5 454h0M167.5 454h0M169 454h0M170.5 454h0M171 454h0M171.5 454h0M174.5 454h0M175 454h0M65.5 454.5h0M67 454.5h0M67.5 454.5h0M70.5 454.5h0M71 454.5h0M72 454.5h0M74 454.5h0M74.5 454.5h0M75 454.5h0M77.5 454.5h0M79 454.5h0M80.5 454.5h0M81 454.5h0M81.5 454.5h0M82.5 454.5h0M85 454.5h0M85.5 454.5h0M86 454.5h0M87 454.5h0M87.5 454.5h0M88 454.5h0M88.5 454.5h0M90 454.5h0M90.5 454.5h0M91.5 454.5h0M92.5 454.5h0M93 454.5h0M93.5 454.5h0M94.5 454.5h0M96.5 454.5h0M97 454.5h0M99 454.5h0M101 454.5h0M102 454.5h0M102.5 454.5h0M105.5 454.5h0M107.5 454.5h0M110 454.5h0M111 454.5h0M111.5 454.5h0M112.5 454.5h0M122 454.5h0M127.5 454.5h0M129.5 454.5h0M135.5 454.5h0M138 454.5h0M139 454.5h0M142 454.5h0M144.5 454.5h0M145 454.5h0M145.5 454.5h0M146 454.5h0M146.5 454.5h0M149.5 454.5h0M150 454.5h0M151 454.5h0M151.5 454.5h0M152.5 454.5h0M153 454.5h0M154 454.5h0M154.5 454.5h0M155 454.5h0M156 454.5h0M156.5 454.5h0M157 454.5h0M157.5 454.5h0M158.5 454.5h0M160.5 454.5h0M161 454.5h0M162 454.5h0M162.5 454.5h0M163.5 454.5h0M166.5 454.5h0M168 454.5h0M169 454.5h0M171.5 454.5h0M174.5 454.5h0M175.5 454.5h0M176.5 454.5h0M178.5 454.5h0M185.5 454.5h0M64.5 455h0M65 455h0M68.5 455h0M73 455h0M73.5 455h0M74 455h0M80.5 455h0M82 455h0M84.5 455h0M85.5 455h0M88 455h0M88.5 455h0M89 455h0M89.5 455h0M90.5 455h0M91 455h0M92.5 455h0M94 455h0M94.5 455h0M95 455h0M95.5 455h0M97.5 455h0M98 455h0M99.5 455h0M102.5 455h0M103 455h0M111.5 455h0M112.5 455h0M113 455h0M115 455h0M141 455h0M141.5 455h0M145.5 455h0M146 455h0M148.5 455h0M149 455h0M149.5 455h0M150 455h0M150.5 455h0M153 455h0M153.5 455h0M154 455h0M154.5 455h0M155 455h0M155.5 455h0M156 455h0M157 455h0M157.5 455h0M159 455h0M166 455h0M166.5 455h0M167 455h0M169 455h0M169.5 455h0M172.5 455h0M173.5 455h0M174 455h0M176.5 455h0M71 455.5h0M71.5 455.5h0M73 455.5h0M73.5 455.5h0M76 455.5h0M77 455.5h0M79 455.5h0M80 455.5h0M80.5 455.5h0M81 455.5h0M83.5 455.5h0M84 455.5h0M84.5 455.5h0M85.5 455.5h0M86.5 455.5h0M87 455.5h0M88 455.5h0M88.5 455.5h0M89 455.5h0M89.5 455.5h0M91.5 455.5h0M92 455.5h0M94 455.5h0M97 455.5h0M98.5 455.5h0M101 455.5h0M101.5 455.5h0M102.5 455.5h0M103 455.5h0M104 455.5h0M106 455.5h0M107 455.5h0M108 455.5h0M109 455.5h0M117 455.5h0M131 455.5h0M134 455.5h0M137 455.5h0M141.5 455.5h0M143.5 455.5h0M144.5 455.5h0M145.5 455.5h0M146.5 455.5h0M148 455.5h0M149 455.5h0M150.5 455.5h0M152.5 455.5h0M153.5 455.5h0M154 455.5h0M154.5 455.5h0M155 455.5h0M155.5 455.5h0M156.5 455.5h0M157 455.5h0M158 455.5h0M158.5 455.5h0M159 455.5h0M159.5 455.5h0M160.5 455.5h0M161 455.5h0M162.5 455.5h0M163 455.5h0M164 455.5h0M164.5 455.5h0M165 455.5h0M166.5 455.5h0M168 455.5h0M168.5 455.5h0M169 455.5h0M170 455.5h0M175.5 455.5h0M177 455.5h0M186 455.5h0M63.5 456h0M64 456h0M64.5 456h0M68.5 456h0M69 456h0M69.5 456h0M70.5 456h0M71.5 456h0M72 456h0M73 456h0M76.5 456h0M77 456h0M79 456h0M79.5 456h0M80 456h0M80.5 456h0M81 456h0M81.5 456h0M82 456h0M83.5 456h0M85 456h0M86 456h0M86.5 456h0M87 456h0M88.5 456h0M89 456h0M89.5 456h0M90.5 456h0M92 456h0M94.5 456h0M96 456h0M96.5 456h0M99 456h0M99.5 456h0M100.5 456h0M102.5 456h0M105.5 456h0M107.5 456h0M108 456h0M113 456h0M118 456h0M128.5 456h0M139 456h0M141.5 456h0M144.5 456h0M145 456h0M147.5 456h0M149 456h0M150.5 456h0M151 456h0M151.5 456h0M152.5 456h0M153 456h0M153.5 456h0M154 456h0M154.5 456h0M155.5 456h0M156 456h0M156.5 456h0M157 456h0M157.5 456h0M158 456h0M158.5 456h0M159 456h0M159.5 456h0M161 456h0M162 456h0M163 456h0M163.5 456h0M164 456h0M165.5 456h0M166 456h0M167 456h0M170 456h0M173.5 456h0M63.5 456.5h0M65 456.5h0M66.5 456.5h0M68 456.5h0M69.5 456.5h0M70 456.5h0M70.5 456.5h0M74 456.5h0M76.5 456.5h0M78 456.5h0M78.5 456.5h0M79.5 456.5h0M80 456.5h0M80.5 456.5h0M81.5 456.5h0M83.5 456.5h0M84 456.5h0M86 456.5h0M86.5 456.5h0M87 456.5h0M88 456.5h0M89 456.5h0M89.5 456.5h0M90.5 456.5h0M91 456.5h0M92.5 456.5h0M95.5 456.5h0M96 456.5h0M96.5 456.5h0M101 456.5h0M103 456.5h0M103.5 456.5h0M104 456.5h0M114 456.5h0M116.5 456.5h0M124 456.5h0M134.5 456.5h0M142 456.5h0M142.5 456.5h0M145 456.5h0M146.5 456.5h0M147 456.5h0M147.5 456.5h0M149.5 456.5h0M150.5 456.5h0M151 456.5h0M152 456.5h0M153 456.5h0M153.5 456.5h0M154 456.5h0M154.5 456.5h0M156 456.5h0M156.5 456.5h0M157 456.5h0M158.5 456.5h0M159 456.5h0M161.5 456.5h0M162 456.5h0M163.5 456.5h0M165 456.5h0M166 456.5h0M168 456.5h0M169.5 456.5h0M170 456.5h0M171 456.5h0M173.5 456.5h0M177 456.5h0M178 456.5h0M199 456.5h0M69.5 457h0M70.5 457h0M72.5 457h0M73 457h0M74.5 457h0M75 457h0M76 457h0M79 457h0M79.5 457h0M80.5 457h0M81 457h0M82 457h0M84 457h0M84.5 457h0M85.5 457h0M86 457h0M86.5 457h0M87.5 457h0M88.5 457h0M90 457h0M90.5 457h0M92.5 457h0M93 457h0M93.5 457h0M95 457h0M95.5 457h0M98 457h0M99 457h0M100 457h0M100.5 457h0M101 457h0M101.5 457h0M102 457h0M109.5 457h0M115 457h0M118 457h0M138 457h0M142 457h0M142.5 457h0M148.5 457h0M149 457h0M149.5 457h0M151 457h0M153 457h0M154 457h0M154.5 457h0M155 457h0M156.5 457h0M158 457h0M159 457h0M159.5 457h0M160.5 457h0M161 457h0M161.5 457h0M162 457h0M163 457h0M165 457h0M166 457h0M166.5 457h0M167 457h0M167.5 457h0M168 457h0M169 457h0M170 457h0M170.5 457h0M171.5 457h0M174.5 457h0M175.5 457h0M176 457h0M64.5 457.5h0M66 457.5h0M67.5 457.5h0M69.5 457.5h0M71.5 457.5h0M72 457.5h0M73.5 457.5h0M75 457.5h0M75.5 457.5h0M76 457.5h0M78.5 457.5h0M79 457.5h0M79.5 457.5h0M80.5 457.5h0M81.5 457.5h0M82.5 457.5h0M84 457.5h0M84.5 457.5h0M85 457.5h0M86.5 457.5h0M87 457.5h0M87.5 457.5h0M91 457.5h0M91.5 457.5h0M92.5 457.5h0M93 457.5h0M93.5 457.5h0M95 457.5h0M95.5 457.5h0M96.5 457.5h0M97.5 457.5h0M98 457.5h0M98.5 457.5h0M99.5 457.5h0M101 457.5h0M102.5 457.5h0M103.5 457.5h0M106 457.5h0M107 457.5h0M108.5 457.5h0M109.5 457.5h0M111 457.5h0M114 457.5h0M130.5 457.5h0M136.5 457.5h0M141.5 457.5h0M142 457.5h0M142.5 457.5h0M143 457.5h0M145.5 457.5h0M149 457.5h0M149.5 457.5h0M151 457.5h0M151.5 457.5h0M152.5 457.5h0M153 457.5h0M153.5 457.5h0M154 457.5h0M154.5 457.5h0M155 457.5h0M156 457.5h0M156.5 457.5h0M158.5 457.5h0M159.5 457.5h0M161.5 457.5h0M162 457.5h0M164.5 457.5h0M165.5 457.5h0M166 457.5h0M166.5 457.5h0M167 457.5h0M167.5 457.5h0M169 457.5h0M170.5 457.5h0M171 457.5h0M171.5 457.5h0M174 457.5h0M175 457.5h0M183.5 457.5h0M64 458h0M64.5 458h0M65 458h0M68 458h0M68.5 458h0M70 458h0M70.5 458h0M71.5 458h0M72.5 458h0M73.5 458h0M74 458h0M75 458h0M75.5 458h0M76 458h0M76.5 458h0M77 458h0M77.5 458h0M79 458h0M79.5 458h0M80 458h0M81.5 458h0M82 458h0M83 458h0M83.5 458h0M85 458h0M86.5 458h0M87 458h0M89 458h0M89.5 458h0M92 458h0M92.5 458h0M93.5 458h0M95.5 458h0M96 458h0M97.5 458h0M98 458h0M98.5 458h0M100.5 458h0M101 458h0M103 458h0M107 458h0M126.5 458h0M132 458h0M138.5 458h0M140 458h0M141.5 458h0M142 458h0M142.5 458h0M144.5 458h0M145.5 458h0M146.5 458h0M147 458h0M148 458h0M148.5 458h0M149.5 458h0M150 458h0M152 458h0M153.5 458h0M155 458h0M155.5 458h0M156 458h0M156.5 458h0M157 458h0M158 458h0M159 458h0M159.5 458h0M160 458h0M161.5 458h0M162 458h0M165 458h0M168 458h0M169.5 458h0M170 458h0M173 458h0M173.5 458h0M182.5 458h0M64 458.5h0M65 458.5h0M68 458.5h0M70.5 458.5h0M72.5 458.5h0M74.5 458.5h0M75 458.5h0M77.5 458.5h0M78 458.5h0M78.5 458.5h0M81 458.5h0M83.5 458.5h0M84 458.5h0M84.5 458.5h0M85.5 458.5h0M86 458.5h0M87.5 458.5h0M89.5 458.5h0M91 458.5h0M92 458.5h0M93.5 458.5h0M94.5 458.5h0M95 458.5h0M100 458.5h0M102.5 458.5h0M103.5 458.5h0M104.5 458.5h0M105 458.5h0M115 458.5h0M123.5 458.5h0M127.5 458.5h0M141.5 458.5h0M145 458.5h0M145.5 458.5h0M146 458.5h0M147 458.5h0M147.5 458.5h0M150.5 458.5h0M154.5 458.5h0M155.5 458.5h0M156 458.5h0M158 458.5h0M158.5 458.5h0M159 458.5h0M159.5 458.5h0M160 458.5h0M161 458.5h0M162 458.5h0M163 458.5h0M164.5 458.5h0M165.5 458.5h0M166.5 458.5h0M167 458.5h0M168 458.5h0M169.5 458.5h0M170 458.5h0M171.5 458.5h0M174.5 458.5h0M178.5 458.5h0M65 459h0M70 459h0M73 459h0M73.5 459h0M75 459h0M76.5 459h0M77 459h0M79.5 459h0M82.5 459h0M83 459h0M83.5 459h0M84.5 459h0M85 459h0M86 459h0M87 459h0M87.5 459h0M88 459h0M89 459h0M90.5 459h0M91 459h0M92 459h0M92.5 459h0M93 459h0M96.5 459h0M99.5 459h0M101.5 459h0M104.5 459h0M105.5 459h0M108 459h0M111 459h0M133.5 459h0M144.5 459h0M146.5 459h0M147 459h0M147.5 459h0M149 459h0M150.5 459h0M151 459h0M151.5 459h0M152 459h0M153 459h0M153.5 459h0M154.5 459h0M156 459h0M156.5 459h0M157.5 459h0M158 459h0M158.5 459h0M159 459h0M159.5 459h0M160 459h0M161.5 459h0M163 459h0M163.5 459h0M164.5 459h0M165 459h0M165.5 459h0M167 459h0M167.5 459h0M168.5 459h0M174 459h0M67 459.5h0M68 459.5h0M69.5 459.5h0M70 459.5h0M71 459.5h0M74.5 459.5h0M76 459.5h0M78 459.5h0M79.5 459.5h0M80 459.5h0M80.5 459.5h0M82 459.5h0M83.5 459.5h0M84 459.5h0M85 459.5h0M87 459.5h0M89 459.5h0M90 459.5h0M90.5 459.5h0M92 459.5h0M99 459.5h0M100.5 459.5h0M101.5 459.5h0M106.5 459.5h0M145.5 459.5h0M147.5 459.5h0M149.5 459.5h0M150 459.5h0M151.5 459.5h0M154 459.5h0M154.5 459.5h0M157 459.5h0M158.5 459.5h0M159 459.5h0M159.5 459.5h0M160 459.5h0M160.5 459.5h0M161.5 459.5h0M162 459.5h0M164 459.5h0M165.5 459.5h0M166 459.5h0M167 459.5h0M169.5 459.5h0M63.5 460h0M71.5 460h0M72 460h0M75.5 460h0M76 460h0M76.5 460h0M77 460h0M80 460h0M81.5 460h0M82 460h0M83 460h0M83.5 460h0M84 460h0M85.5 460h0M88.5 460h0M89 460h0M89.5 460h0M91.5 460h0M92 460h0M92.5 460h0M94 460h0M94.5 460h0M95 460h0M96 460h0M96.5 460h0M99 460h0M100 460h0M101 460h0M101.5 460h0M106 460h0M106.5 460h0M109 460h0M112 460h0M113.5 460h0M116 460h0M117 460h0M118.5 460h0M120 460h0M126.5 460h0M137.5 460h0M148.5 460h0M149 460h0M149.5 460h0M150 460h0M151 460h0M151.5 460h0M152.5 460h0M153.5 460h0M156 460h0M156.5 460h0M157 460h0M158 460h0M159.5 460h0M160 460h0M162.5 460h0M163.5 460h0M164.5 460h0M165 460h0M167 460h0M168 460h0M168.5 460h0M169.5 460h0M170 460h0M172 460h0M176 460h0M179 460h0M182 460h0M62.5 460.5h0M64.5 460.5h0M68 460.5h0M68.5 460.5h0M69.5 460.5h0M72.5 460.5h0M73.5 460.5h0M74 460.5h0M74.5 460.5h0M75.5 460.5h0M78 460.5h0M78.5 460.5h0M79 460.5h0M79.5 460.5h0M80 460.5h0M81 460.5h0M81.5 460.5h0M83.5 460.5h0M84 460.5h0M84.5 460.5h0M86 460.5h0M88 460.5h0M88.5 460.5h0M90.5 460.5h0M91 460.5h0M92.5 460.5h0M94 460.5h0M97 460.5h0M98 460.5h0M100 460.5h0M102 460.5h0M106 460.5h0M113 460.5h0M116.5 460.5h0M121 460.5h0M148 460.5h0M149 460.5h0M150 460.5h0M152 460.5h0M152.5 460.5h0M153 460.5h0M153.5 460.5h0M156 460.5h0M156.5 460.5h0M157 460.5h0M157.5 460.5h0M158 460.5h0M159 460.5h0M159.5 460.5h0M160 460.5h0M162 460.5h0M163 460.5h0M166 460.5h0M169 460.5h0M65 461h0M66 461h0M67 461h0M68.5 461h0M69.5 461h0M70 461h0M72 461h0M74 461h0M75.5 461h0M76.5 461h0M78.5 461h0M79 461h0M80 461h0M80.5 461h0M81 461h0M81.5 461h0M82 461h0M84 461h0M85 461h0M86.5 461h0M87 461h0M88.5 461h0M89.5 461h0M90 461h0M90.5 461h0M91.5 461h0M93 461h0M94 461h0M95 461h0M103.5 461h0M104 461h0M104.5 461h0M105.5 461h0M129 461h0M136.5 461h0M137.5 461h0M141.5 461h0M142.5 461h0M145 461h0M146 461h0M146.5 461h0M148.5 461h0M150 461h0M151.5 461h0M152 461h0M153 461h0M155 461h0M156.5 461h0M158.5 461h0M159 461h0M160 461h0M160.5 461h0M161.5 461h0M162 461h0M165.5 461h0M167 461h0M70 461.5h0M72.5 461.5h0M73 461.5h0M73.5 461.5h0M75 461.5h0M78 461.5h0M79 461.5h0M81.5 461.5h0M82.5 461.5h0M83.5 461.5h0M84 461.5h0M84.5 461.5h0M85 461.5h0M87 461.5h0M89.5 461.5h0M93 461.5h0M93.5 461.5h0M95 461.5h0M97 461.5h0M101.5 461.5h0M103.5 461.5h0M107 461.5h0M117.5 461.5h0M128 461.5h0M131 461.5h0M143.5 461.5h0M148 461.5h0M151 461.5h0M155 461.5h0M156 461.5h0M159 461.5h0M159.5 461.5h0M163 461.5h0M166 461.5h0M167 461.5h0M169.5 461.5h0M171 461.5h0M172 461.5h0M64.5 462h0M65.5 462h0M69 462h0M70 462h0M74 462h0M74.5 462h0M75.5 462h0M76 462h0M78 462h0M81 462h0M83.5 462h0M84 462h0M85 462h0M86.5 462h0M87 462h0M88 462h0M88.5 462h0M89 462h0M89.5 462h0M90 462h0M90.5 462h0M93 462h0M100 462h0M104 462h0M106 462h0M120 462h0M138.5 462h0M140 462h0M140.5 462h0M141.5 462h0M145 462h0M151 462h0M152 462h0M153 462h0M156 462h0M158.5 462h0M160.5 462h0M161 462h0M161.5 462h0M163.5 462h0M164 462h0M165 462h0M173 462h0M62.5 462.5h0M71.5 462.5h0M72.5 462.5h0M73 462.5h0M74 462.5h0M74.5 462.5h0M75.5 462.5h0M76 462.5h0M78.5 462.5h0M80 462.5h0M80.5 462.5h0M82 462.5h0M83 462.5h0M84 462.5h0M85.5 462.5h0M86 462.5h0M89 462.5h0M91.5 462.5h0M92.5 462.5h0M93.5 462.5h0M95 462.5h0M96.5 462.5h0M99 462.5h0M106 462.5h0M107 462.5h0M107.5 462.5h0M108.5 462.5h0M143.5 462.5h0M144.5 462.5h0M146 462.5h0M147 462.5h0M148 462.5h0M150 462.5h0M151 462.5h0M152.5 462.5h0M154 462.5h0M154.5 462.5h0M155 462.5h0M155.5 462.5h0M156 462.5h0M156.5 462.5h0M158 462.5h0M158.5 462.5h0M159.5 462.5h0M160 462.5h0M161 462.5h0M162 462.5h0M162.5 462.5h0M163 462.5h0M166 462.5h0M167 462.5h0M167.5 462.5h0M169 462.5h0M178.5 462.5h0M64 463h0M65 463h0M67 463h0M67.5 463h0M70.5 463h0M71.5 463h0M72 463h0M74 463h0M78.5 463h0M82 463h0M82.5 463h0M83.5 463h0M84 463h0M84.5 463h0M85 463h0M85.5 463h0M86 463h0M88 463h0M91 463h0M91.5 463h0M96.5 463h0M99 463h0M103 463h0M103.5 463h0M107.5 463h0M109 463h0M109.5 463h0M118.5 463h0M129.5 463h0M143.5 463h0M146.5 463h0M149 463h0M150 463h0M151 463h0M152.5 463h0M154.5 463h0M158 463h0M158.5 463h0M161.5 463h0M164 463h0M164.5 463h0M170.5 463h0M172 463h0M179.5 463h0M68.5 463.5h0M71 463.5h0M72.5 463.5h0M73.5 463.5h0M75 463.5h0M79 463.5h0M79.5 463.5h0M80 463.5h0M81 463.5h0M82.5 463.5h0M83.5 463.5h0M84 463.5h0M84.5 463.5h0M87 463.5h0M91 463.5h0M92 463.5h0M93.5 463.5h0M94.5 463.5h0M97 463.5h0M97.5 463.5h0M98.5 463.5h0M101 463.5h0M103.5 463.5h0M106 463.5h0M107 463.5h0M117.5 463.5h0M118.5 463.5h0M123.5 463.5h0M124.5 463.5h0M133 463.5h0M139 463.5h0M143 463.5h0M146 463.5h0M149 463.5h0M149.5 463.5h0M153 463.5h0M155.5 463.5h0M156 463.5h0M157 463.5h0M157.5 463.5h0M159 463.5h0M159.5 463.5h0M161 463.5h0M164 463.5h0M165.5 463.5h0M171 463.5h0M172 463.5h0M63 464h0M68 464h0M68.5 464h0M69.5 464h0M70 464h0M73.5 464h0M78.5 464h0M79 464h0M80 464h0M80.5 464h0M81 464h0M81.5 464h0M82 464h0M82.5 464h0M83 464h0M83.5 464h0M84 464h0M84.5 464h0M85 464h0M88 464h0M88.5 464h0M89 464h0M90 464h0M90.5 464h0M91 464h0M91.5 464h0M94.5 464h0M96 464h0M97.5 464h0M98 464h0M98.5 464h0M99 464h0M99.5 464h0M103 464h0M113 464h0M120.5 464h0M128.5 464h0M135.5 464h0M141.5 464h0M142 464h0M149 464h0M152 464h0M153.5 464h0M154.5 464h0M157 464h0M157.5 464h0M158 464h0M159.5 464h0M162.5 464h0M164 464h0M168.5 464h0M169 464h0M170.5 464h0M172.5 464h0M173.5 464h0M180 464h0M193.5 464h0M64.5 464.5h0M67 464.5h0M67.5 464.5h0M68.5 464.5h0M69 464.5h0M70.5 464.5h0M72 464.5h0M72.5 464.5h0M76 464.5h0M76.5 464.5h0M78 464.5h0M78.5 464.5h0M80 464.5h0M83 464.5h0M86 464.5h0M87.5 464.5h0M88 464.5h0M92 464.5h0M94 464.5h0M96.5 464.5h0M97 464.5h0M99 464.5h0M100 464.5h0M101 464.5h0M105 464.5h0M106 464.5h0M106.5 464.5h0M119.5 464.5h0M139.5 464.5h0M141 464.5h0M144.5 464.5h0M146 464.5h0M147 464.5h0M149.5 464.5h0M150.5 464.5h0M151 464.5h0M152 464.5h0M153.5 464.5h0M156 464.5h0M157 464.5h0M158 464.5h0M159 464.5h0M159.5 464.5h0M162 464.5h0M164 464.5h0M166 464.5h0M170.5 464.5h0M176.5 464.5h0M177.5 464.5h0M178.5 464.5h0M181 464.5h0M75 465h0M75.5 465h0M77.5 465h0M79 465h0M81 465h0M82 465h0M85.5 465h0M87.5 465h0M88.5 465h0M89.5 465h0M93 465h0M94 465h0M95.5 465h0M96.5 465h0M99 465h0M122.5 465h0M137 465h0M141.5 465h0M151.5 465h0M153.5 465h0M154.5 465h0M157.5 465h0M159 465h0M163.5 465h0M164.5 465h0M166.5 465h0M66.5 465.5h0M67 465.5h0M73 465.5h0M75.5 465.5h0M79 465.5h0M79.5 465.5h0M81 465.5h0M81.5 465.5h0M84 465.5h0M84.5 465.5h0M87 465.5h0M88 465.5h0M88.5 465.5h0M91 465.5h0M92.5 465.5h0M95 465.5h0M95.5 465.5h0M99.5 465.5h0M110 465.5h0M141 465.5h0M153.5 465.5h0M155.5 465.5h0M156.5 465.5h0M158 465.5h0M158.5 465.5h0M159.5 465.5h0M160 465.5h0M161 465.5h0M161.5 465.5h0M163.5 465.5h0M172 465.5h0M66 466h0M74.5 466h0M79 466h0M84 466h0M85.5 466h0M86 466h0M87.5 466h0M89 466h0M91 466h0M94 466h0M95.5 466h0M96.5 466h0M97 466h0M98.5 466h0M100.5 466h0M101.5 466h0M103.5 466h0M104 466h0M110.5 466h0M116 466h0M120 466h0M120.5 466h0M153 466h0M154 466h0M160 466h0M161 466h0M166 466h0M175 466h0M65 466.5h0M70.5 466.5h0M72 466.5h0M75.5 466.5h0M78.5 466.5h0M80.5 466.5h0M81.5 466.5h0M83.5 466.5h0M85.5 466.5h0M87.5 466.5h0M89 466.5h0M89.5 466.5h0M90.5 466.5h0M91 466.5h0M92.5 466.5h0M94 466.5h0M95 466.5h0M99 466.5h0M102.5 466.5h0M106 466.5h0M138 466.5h0M139.5 466.5h0M145.5 466.5h0M146.5 466.5h0M148.5 466.5h0M150.5 466.5h0M152 466.5h0M155 466.5h0M155.5 466.5h0M159 466.5h0M165 466.5h0M166.5 466.5h0M169 466.5h0M173 466.5h0M69.5 467h0M70.5 467h0M72 467h0M75.5 467h0M82.5 467h0M83 467h0M84 467h0M85.5 467h0M86 467h0M92.5 467h0M93 467h0M96.5 467h0M100 467h0M103 467h0M104.5 467h0M108.5 467h0M111 467h0M128 467h0M142 467h0M149 467h0M150.5 467h0M152.5 467h0M153.5 467h0M156 467h0M157 467h0M158 467h0M159 467h0M163 467h0M164.5 467h0M169 467h0M183.5 467h0M64 467.5h0M69 467.5h0M70 467.5h0M72 467.5h0M77 467.5h0M79.5 467.5h0M83 467.5h0M84.5 467.5h0M85.5 467.5h0M87 467.5h0M96 467.5h0M96.5 467.5h0M99.5 467.5h0M104.5 467.5h0M107 467.5h0M114 467.5h0M115.5 467.5h0M119 467.5h0M137.5 467.5h0M144.5 467.5h0M147 467.5h0M149.5 467.5h0M150.5 467.5h0M152 467.5h0M154 467.5h0M157 467.5h0M163 467.5h0M168 467.5h0M170.5 467.5h0M171 467.5h0M62.5 468h0M72.5 468h0M73 468h0M75.5 468h0M79 468h0M82.5 468h0M84 468h0M85.5 468h0M87 468h0M88 468h0M90 468h0M90.5 468h0M94.5 468h0M96.5 468h0M97 468h0M99 468h0M103 468h0M105.5 468h0M107.5 468h0M110.5 468h0M133 468h0M140.5 468h0M143 468h0M144.5 468h0M150 468h0M150.5 468h0M152 468h0M153.5 468h0M154 468h0M157.5 468h0M159 468h0M159.5 468h0M163 468h0M169.5 468h0M170 468h0M66 468.5h0M67 468.5h0M69 468.5h0M73 468.5h0M75 468.5h0M76 468.5h0M77.5 468.5h0M83 468.5h0M85 468.5h0M92.5 468.5h0M100 468.5h0M103 468.5h0M104 468.5h0M105.5 468.5h0M139 468.5h0M154 468.5h0M159.5 468.5h0M160 468.5h0M162 468.5h0M167 468.5h0M178 468.5h0M64 469h0M65.5 469h0M71 469h0M75 469h0M76 469h0M79.5 469h0M80 469h0M81 469h0M84 469h0M85 469h0M91.5 469h0M94 469h0M94.5 469h0M106 469h0M108 469h0M134 469h0M134.5 469h0M145 469h0M146.5 469h0M147 469h0M148 469h0M149 469h0M150 469h0M151.5 469h0M154.5 469h0M163 469h0M165 469h0M165.5 469h0M170 469h0M63 469.5h0M72 469.5h0M76 469.5h0M79 469.5h0M79.5 469.5h0M80.5 469.5h0M81.5 469.5h0M82.5 469.5h0M84.5 469.5h0M85.5 469.5h0M86.5 469.5h0M89 469.5h0M91 469.5h0M92.5 469.5h0M96.5 469.5h0M98 469.5h0M108 469.5h0M143.5 469.5h0M145 469.5h0M146 469.5h0M146.5 469.5h0M148.5 469.5h0M154.5 469.5h0M155 469.5h0M156 469.5h0M156.5 469.5h0M157.5 469.5h0M160 469.5h0M67.5 470h0M72 470h0M77 470h0M77.5 470h0M79 470h0M79.5 470h0M81.5 470h0M86 470h0M87 470h0M88.5 470h0M102.5 470h0M117.5 470h0M146.5 470h0M153 470h0M157 470h0M158 470h0M161 470h0M165.5 470h0M166 470h0M67 470.5h0M75.5 470.5h0M76.5 470.5h0M87 470.5h0M90 470.5h0M93.5 470.5h0M103 470.5h0M106 470.5h0M116.5 470.5h0M152.5 470.5h0M155.5 470.5h0M161 470.5h0M163 470.5h0M165.5 470.5h0M63.5 471h0M67.5 471h0M69.5 471h0M78 471h0M79 471h0M82 471h0M84 471h0M86 471h0M89 471h0M90 471h0M94 471h0M97 471h0M101 471h0M126 471h0M152 471h0M158 471h0" stroke="#0a0a0a" stroke-width="1.32" stroke-linecap="round" fill="none"/>
<rect x="60.7" y="279.6" width="206.9" height="192.4" fill="none" stroke="#333" stroke-width="1.2"/>
<path d="M110.5 279.6V472M60.7 425.4H267.6" stroke="#222" stroke-width="1.3" fill="none"/>
<path d="M76.0 473.6v2.7M85.1 473.6v2.7M91.6 473.6v2.7M96.6 473.6v2.7M100.7 473.6v2.7M104.2 473.6v2.7M107.2 473.6v2.7M109.8 473.6v2.7M112.2 473.6v5.7M127.8 473.6v2.7M136.9 473.6v2.7M143.4 473.6v2.7M148.4 473.6v2.7M152.5 473.6v2.7M156.0 473.6v2.7M159.0 473.6v2.7M161.6 473.6v2.7M164.0 473.6v5.7M179.6 473.6v2.7M188.7 473.6v2.7M195.2 473.6v2.7M200.2 473.6v2.7M204.3 473.6v2.7M207.8 473.6v2.7M210.8 473.6v2.7M213.4 473.6v2.7M215.8 473.6v5.7M231.4 473.6v2.7M240.5 473.6v2.7M247.0 473.6v2.7M252.0 473.6v2.7M256.1 473.6v2.7M259.6 473.6v2.7M262.6 473.6v2.7M265.2 473.6v2.7M267.6 473.6v5.7" stroke="#333" stroke-width="1.1" fill="none"/>
<path d="M112.2 472v2.6" stroke="#333" stroke-width="1.1"/>
<path d="M60.7 459.2h-4.0M60.7 450.6h-4.0M60.7 444.6h-4.0M60.7 439.9h-4.0M60.7 436.0h-4.0M60.7 432.8h-4.0M60.7 430.0h-4.0M60.7 427.5h-4.0M60.7 425.2h-7.7M60.7 410.6h-4.0M60.7 402.1h-4.0M60.7 396.0h-4.0M60.7 391.3h-4.0M60.7 387.5h-4.0M60.7 384.2h-4.0M60.7 381.4h-4.0M60.7 378.9h-4.0M60.7 376.7h-7.7M60.7 362.1h-4.0M60.7 353.5h-4.0M60.7 347.5h-4.0M60.7 342.8h-4.0M60.7 338.9h-4.0M60.7 335.7h-4.0M60.7 332.9h-4.0M60.7 330.4h-4.0M60.7 328.1h-7.7M60.7 313.5h-4.0M60.7 305.0h-4.0M60.7 298.9h-4.0M60.7 294.2h-4.0M60.7 290.4h-4.0M60.7 287.1h-4.0M60.7 284.3h-4.0M60.7 281.8h-4.0M60.7 279.6h-7.7" stroke="#333" stroke-width="1.1" fill="none"/>
<text x="113.8" y="487.6" font-size="7.2" font-weight="bold" text-anchor="middle" fill="#000" stroke="#000" stroke-width="0.1">10<tspan font-size="5.0" dy="-3.0">0</tspan></text>
<text x="165.6" y="487.6" font-size="7.2" font-weight="bold" text-anchor="middle" fill="#000" stroke="#000" stroke-width="0.1">10<tspan font-size="5.0" dy="-3.0">1</tspan></text>
<text x="217.4" y="487.6" font-size="7.2" font-weight="bold" text-anchor="middle" fill="#000" stroke="#000" stroke-width="0.1">10<tspan font-size="5.0" dy="-3.0">2</tspan></text>
<text x="265.2" y="487.6" font-size="7.2" font-weight="bold" text-anchor="middle" fill="#000" stroke="#000" stroke-width="0.1">10<tspan font-size="5.0" dy="-3.0">3</tspan></text>
<text x="51" y="427.6" font-size="7.2" font-weight="bold" text-anchor="end" fill="#000" stroke="#000" stroke-width="0.1">10<tspan font-size="5.0" dy="-3.0">0</tspan></text>
<text x="51" y="379.1" font-size="7.2" font-weight="bold" text-anchor="end" fill="#000" stroke="#000" stroke-width="0.1">10<tspan font-size="5.0" dy="-3.0">1</tspan></text>
<text x="51" y="330.5" font-size="7.2" font-weight="bold" text-anchor="end" fill="#000" stroke="#000" stroke-width="0.1">10<tspan font-size="5.0" dy="-3.0">2</tspan></text>
<text x="51" y="282.0" font-size="7.2" font-weight="bold" text-anchor="end" fill="#000" stroke="#000" stroke-width="0.1">10<tspan font-size="5.0" dy="-3.0">3</tspan></text>
<text x="61.1" y="289.1" font-size="9.5" font-weight="bold" textLength="9.6" lengthAdjust="spacingAndGlyphs" fill="#111" stroke="#111" stroke-width=".4">B1</text>
<text x="66.3" y="300.7" font-size="9.5" font-weight="bold" textLength="19.5" lengthAdjust="spacingAndGlyphs" fill="#111" stroke="#111" stroke-width=".4">1.2%</text>
<text x="111.1" y="289.1" font-size="9.5" font-weight="bold" textLength="9.6" lengthAdjust="spacingAndGlyphs" fill="#111" stroke="#111" stroke-width=".4">B2</text>
<text x="116.3" y="300.7" font-size="9.5" font-weight="bold" textLength="19.5" lengthAdjust="spacingAndGlyphs" fill="#111" stroke="#111" stroke-width=".4">1.8%</text>
<rect x="61.6" y="428" width="12" height="9" fill="#fff" opacity=".0"/>
<text x="61.1" y="435.5" font-size="9.5" font-weight="bold" textLength="9.6" lengthAdjust="spacingAndGlyphs" fill="#111" stroke="#111" stroke-width=".4">B3</text>
<text x="209" y="451.9" font-size="9.5" font-weight="bold" textLength="10.4" lengthAdjust="spacingAndGlyphs" fill="#111" stroke="#111" stroke-width=".4">B4</text>
<text x="210.6" y="464.5" font-size="9.5" font-weight="bold" textLength="25" lengthAdjust="spacingAndGlyphs" fill="#111" stroke="#111" stroke-width=".4">45.9%</text>
<text x="210.6" y="303.6" font-size="22.8">1.8%</text>
<path d="M329 291h0M389 297.5h0M390 305h0M351.5 306.5h0M376.5 312h0M326.5 315h0M390.5 317.5h0M372.5 324.5h0M411.5 332.5h0M318 342.5h0M343.5 343h0M356.5 344.5h0M360.5 345.5h0M356 350.5h0M436.5 351h0M339 351.5h0M316 352h0M379 352.5h0M386 358h0M392 358h0M386 358.5h0M372.5 359h0M383 360h0M437.5 361h0M314.5 362h0M370.5 363h0M314.5 363.5h0M395.5 363.5h0M400.5 369.5h0M314.5 370h0M405 370.5h0M400.5 373h0M368 374.5h0M323.5 378h0M376.5 378h0M331.5 378.5h0M381.5 378.5h0M336.5 379.5h0M345.5 379.5h0M348 380h0M354.5 380h0M387.5 380h0M367.5 381.5h0M406 381.5h0M331.5 382h0M313.5 383h0M399.5 383h0M343 383.5h0M332.5 384h0M312 385h0M370 385h0M331.5 385.5h0M349.5 385.5h0M339.5 386.5h0M382.5 386.5h0M405 386.5h0M361.5 387.5h0M422.5 387.5h0M308.5 388h0M323.5 388h0M338 388h0M363 388h0M382.5 388h0M349 388.5h0M367.5 388.5h0M378 388.5h0M346 389h0M313 389.5h0M339.5 389.5h0M348 389.5h0M370 389.5h0M312 390h0M338 390h0M318.5 390.5h0M382.5 390.5h0M309 391h0M340 391h0M346.5 391h0M350.5 391h0M307.5 391.5h0M369 391.5h0M315 392h0M316.5 392h0M348 392h0M314 392.5h0M343 392.5h0M343.5 392.5h0M349 392.5h0M350.5 392.5h0M387.5 392.5h0M321.5 393h0M324.5 393h0M345 393h0M392 393h0M319 393.5h0M321 393.5h0M345.5 393.5h0M371 393.5h0M333.5 394h0M423 394h0M337 394.5h0M352 394.5h0M354.5 394.5h0M381 394.5h0M403.5 394.5h0M408.5 394.5h0M312 395h0M327.5 395h0M332.5 395h0M348.5 395h0M350 395h0M379 395h0M401.5 395h0M403 395h0M414 395h0M322 395.5h0M336.5 395.5h0M386.5 395.5h0M391 395.5h0M420 395.5h0M312.5 396h0M336 396h0M338.5 396h0M344 396h0M398 396h0M354 396.5h0M397.5 396.5h0M436 396.5h0M313.5 397h0M333 397h0M334.5 397h0M351 397h0M364.5 397h0M329.5 397.5h0M375.5 397.5h0M405 397.5h0M337 398h0M343 398h0M344 398h0M346.5 398h0M368 398h0M387.5 398h0M417 398h0M311.5 398.5h0M331.5 398.5h0M335 398.5h0M369.5 398.5h0M374 398.5h0M325.5 399h0M349 399h0M361.5 399h0M310 399.5h0M370 399.5h0M373 399.5h0M331.5 400h0M335 400h0M341.5 400h0M347 400h0M358.5 400h0M324.5 400.5h0M341 400.5h0M352 400.5h0M360 400.5h0M364.5 400.5h0M369.5 400.5h0M390 400.5h0M397.5 400.5h0M311 401h0M312 401h0M331 401h0M334 401h0M343 401h0M345.5 401h0M346.5 401h0M377 401h0M391 401h0M309 401.5h0M350.5 401.5h0M351.5 401.5h0M360 401.5h0M306.5 402h0M307 402h0M311.5 402h0M366 402h0M400.5 402h0M429.5 402h0M335 402.5h0M338.5 402.5h0M343.5 402.5h0M352 402.5h0M362 402.5h0M307 403h0M323 403h0M356 403h0M395 403h0M404.5 403h0M308.5 403.5h0M326.5 403.5h0M341 403.5h0M342.5 403.5h0M343.5 403.5h0M357 403.5h0M320.5 404h0M331 404h0M332 404h0M356.5 404h0M367 404h0M408.5 404h0M427.5 404h0M309.5 404.5h0M313 404.5h0M318.5 404.5h0M329.5 404.5h0M347.5 404.5h0M378 404.5h0M438 404.5h0M348 405h0M349.5 405h0M359 405h0M378 405h0M387.5 405h0M339.5 405.5h0M345.5 405.5h0M360 405.5h0M326.5 406h0M332 406h0M334.5 406h0M336 406h0M368.5 406h0M312 406.5h0M318 406.5h0M318.5 406.5h0M320 406.5h0M321.5 406.5h0M332 406.5h0M342 406.5h0M355.5 406.5h0M387 406.5h0M313.5 407h0M315.5 407h0M318.5 407h0M324 407h0M326.5 407h0M332.5 407h0M333 407h0M352 407h0M373.5 407h0M378 407h0M386.5 407h0M345.5 407.5h0M371 407.5h0M390.5 407.5h0M395 407.5h0M423 407.5h0M331.5 408h0M335.5 408h0M336 408h0M337.5 408h0M352 408h0M359.5 408h0M413.5 408h0M423 408h0M319 408.5h0M320.5 408.5h0M344.5 408.5h0M348.5 408.5h0M316 409h0M336.5 409h0M344 409h0M348 409h0M349 409h0M361.5 409h0M373.5 409h0M418 409h0M314 409.5h0M339 409.5h0M340.5 409.5h0M346 409.5h0M385.5 409.5h0M400.5 409.5h0M420.5 409.5h0M433.5 409.5h0M315.5 410h0M316 410h0M326.5 410h0M336 410h0M341 410h0M347 410h0M369 410h0M374.5 410h0M324.5 410.5h0M338 410.5h0M344 410.5h0M373.5 410.5h0M388.5 410.5h0M398.5 410.5h0M310 411h0M335.5 411h0M340 411h0M361.5 411h0M364 411h0M366.5 411h0M368.5 411h0M369.5 411h0M372.5 411h0M380 411h0M381.5 411h0M421 411h0M322 411.5h0M326 411.5h0M329.5 411.5h0M331 411.5h0M357.5 411.5h0M364 411.5h0M397 411.5h0M398.5 411.5h0M404 411.5h0M412.5 411.5h0M422.5 411.5h0M332.5 412h0M349 412h0M353 412h0M353.5 412h0M359.5 412h0M387 412h0M390.5 412h0M400 412h0M407.5 412h0M413 412h0M424.5 412h0M316 412.5h0M316.5 412.5h0M320 412.5h0M320.5 412.5h0M328 412.5h0M355.5 412.5h0M362 412.5h0M366.5 412.5h0M367 412.5h0M373 412.5h0M373.5 412.5h0M408.5 412.5h0M410 412.5h0M418 412.5h0M424.5 412.5h0M431 412.5h0M317.5 413h0M328 413h0M341 413h0M354.5 413h0M379 413h0M383 413h0M388.5 413h0M408.5 413h0M431.5 413h0M434 413h0M306.5 413.5h0M317.5 413.5h0M319.5 413.5h0M324.5 413.5h0M350 413.5h0M354 413.5h0M360.5 413.5h0M387.5 413.5h0M392.5 413.5h0M394 413.5h0M396 413.5h0M398.5 413.5h0M313.5 414h0M316 414h0M325.5 414h0M326.5 414h0M330.5 414h0M344.5 414h0M408.5 414h0M410 414h0M435.5 414h0M319.5 414.5h0M321 414.5h0M325 414.5h0M326 414.5h0M344 414.5h0M344.5 414.5h0M356 414.5h0M359 414.5h0M368.5 414.5h0M371 414.5h0M395 414.5h0M398 414.5h0M413 414.5h0M316.5 415h0M330 415h0M339 415h0M345 415h0M350 415h0M356 415h0M360 415h0M363 415h0M370 415h0M389.5 415h0M394.5 415h0M400 415h0M410.5 415h0M411 415h0M413 415h0M313 415.5h0M320.5 415.5h0M324.5 415.5h0M327.5 415.5h0M345 415.5h0M348.5 415.5h0M357 415.5h0M361.5 415.5h0M368 415.5h0M368.5 415.5h0M382.5 415.5h0M403.5 415.5h0M413 415.5h0M414.5 415.5h0M431.5 415.5h0M309 416h0M310.5 416h0M314 416h0M320 416h0M325.5 416h0M335 416h0M340.5 416h0M348 416h0M351 416h0M353 416h0M369.5 416h0M373.5 416h0M386 416h0M396 416h0M400 416h0M408 416h0M417 416h0M316 416.5h0M325.5 416.5h0M332 416.5h0M337 416.5h0M339 416.5h0M340.5 416.5h0M345 416.5h0M345.5 416.5h0M349.5 416.5h0M354 416.5h0M368 416.5h0M389 416.5h0M395.5 416.5h0M403.5 416.5h0M408 416.5h0M425 416.5h0M320 417h0M323 417h0M330.5 417h0M334.5 417h0M337.5 417h0M338 417h0M338.5 417h0M339.5 417h0M351.5 417h0M358 417h0M362 417h0M367 417h0M367.5 417h0M369.5 417h0M396 417h0M412.5 417h0M414.5 417h0M421.5 417h0M426 417h0M431 417h0M309 417.5h0M318 417.5h0M321.5 417.5h0M324 417.5h0M325 417.5h0M342.5 417.5h0M343 417.5h0M344 417.5h0M350.5 417.5h0M363.5 417.5h0M400.5 417.5h0M407 417.5h0M408 417.5h0M410 417.5h0M414 417.5h0M415.5 417.5h0M309 418h0M312.5 418h0M314.5 418h0M323.5 418h0M326.5 418h0M327 418h0M328.5 418h0M332.5 418h0M336 418h0M340 418h0M342.5 418h0M345.5 418h0M350 418h0M353.5 418h0M375 418h0M394 418h0M310.5 418.5h0M315.5 418.5h0M316.5 418.5h0M317.5 418.5h0M321.5 418.5h0M322 418.5h0M326 418.5h0M326.5 418.5h0M331.5 418.5h0M344 418.5h0M346 418.5h0M347.5 418.5h0M355 418.5h0M397 418.5h0M403 418.5h0M417.5 418.5h0M419 418.5h0M425.5 418.5h0M429.5 418.5h0M434.5 418.5h0M318 419h0M326.5 419h0M330.5 419h0M331.5 419h0M334 419h0M347 419h0M353.5 419h0M355 419h0M358 419h0M359 419h0M383 419h0M405 419h0M407.5 419h0M417 419h0M424.5 419h0M318 419.5h0M319 419.5h0M321.5 419.5h0M322.5 419.5h0M328 419.5h0M331.5 419.5h0M337 419.5h0M341 419.5h0M345.5 419.5h0M346 419.5h0M354.5 419.5h0M368 419.5h0M368.5 419.5h0M377.5 419.5h0M395.5 419.5h0M400.5 419.5h0M416 419.5h0M427.5 419.5h0M428 419.5h0M316 420h0M321.5 420h0M324.5 420h0M327 420h0M331 420h0M331.5 420h0M336.5 420h0M347.5 420h0M350 420h0M354.5 420h0M363 420h0M369 420h0M375.5 420h0M376.5 420h0M387.5 420h0M406 420h0M421.5 420h0M425 420h0M308 420.5h0M319 420.5h0M323 420.5h0M325.5 420.5h0M328 420.5h0M330 420.5h0M337 420.5h0M337.5 420.5h0M339.5 420.5h0M358.5 420.5h0M368 420.5h0M368.5 420.5h0M371.5 420.5h0M381 420.5h0M390 420.5h0M392 420.5h0M401.5 420.5h0M402 420.5h0M404 420.5h0M405.5 420.5h0M416 420.5h0M418 420.5h0M418.5 420.5h0M421 420.5h0M423 420.5h0M434 420.5h0M311.5 421h0M317 421h0M318 421h0M325.5 421h0M328 421h0M331.5 421h0M333 421h0M338.5 421h0M342 421h0M343.5 421h0M345.5 421h0M354 421h0M358 421h0M387 421h0M392.5 421h0M407.5 421h0M411 421h0M415 421h0M419 421h0M419.5 421h0M422 421h0M427 421h0M428 421h0M435 421h0M309.5 421.5h0M310 421.5h0M312.5 421.5h0M316.5 421.5h0M322.5 421.5h0M323.5 421.5h0M327.5 421.5h0M328.5 421.5h0M329.5 421.5h0M339 421.5h0M340.5 421.5h0M341 421.5h0M342 421.5h0M347 421.5h0M367.5 421.5h0M376.5 421.5h0M397.5 421.5h0M401.5 421.5h0M404.5 421.5h0M405.5 421.5h0M406.5 421.5h0M407.5 421.5h0M408.5 421.5h0M411 421.5h0M411.5 421.5h0M412 421.5h0M414 421.5h0M416.5 421.5h0M422.5 421.5h0M428 421.5h0M434.5 421.5h0M310.5 422h0M311.5 422h0M329 422h0M340.5 422h0M341.5 422h0M342 422h0M343.5 422h0M346 422h0M354 422h0M360 422h0M407.5 422h0M409.5 422h0M413 422h0M413.5 422h0M420 422h0M420.5 422h0M421.5 422h0M449 422h0M312.5 422.5h0M315.5 422.5h0M317 422.5h0M319.5 422.5h0M326.5 422.5h0M328.5 422.5h0M329.5 422.5h0M331 422.5h0M331.5 422.5h0M342 422.5h0M342.5 422.5h0M344.5 422.5h0M350.5 422.5h0M351 422.5h0M357.5 422.5h0M358 422.5h0M363 422.5h0M366.5 422.5h0M389.5 422.5h0M392.5 422.5h0M402 422.5h0M413 422.5h0M417 422.5h0M419 422.5h0M420 422.5h0M423 422.5h0M424.5 422.5h0M425.5 422.5h0M430 422.5h0M431 422.5h0M311.5 423h0M312 423h0M320 423h0M323.5 423h0M324.5 423h0M333.5 423h0M334 423h0M337 423h0M337.5 423h0M350 423h0M350.5 423h0M353 423h0M356.5 423h0M357.5 423h0M360 423h0M363 423h0M373 423h0M381 423h0M382 423h0M383.5 423h0M387.5 423h0M394 423h0M400.5 423h0M405 423h0M414.5 423h0M425 423h0M315.5 423.5h0M320 423.5h0M323 423.5h0M328 423.5h0M329.5 423.5h0M330 423.5h0M331.5 423.5h0M333 423.5h0M334 423.5h0M335 423.5h0M345.5 423.5h0M348.5 423.5h0M350.5 423.5h0M351 423.5h0M360 423.5h0M363.5 423.5h0M374 423.5h0M384.5 423.5h0M396.5 423.5h0M401 423.5h0M401.5 423.5h0M404.5 423.5h0M407 423.5h0M412 423.5h0M416 423.5h0M418.5 423.5h0M422 423.5h0M314.5 424h0M315 424h0M317 424h0M319 424h0M324.5 424h0M326 424h0M327 424h0M330 424h0M331.5 424h0M332.5 424h0M341 424h0M343 424h0M365 424h0M366.5 424h0M376.5 424h0M395 424h0M400 424h0M400.5 424h0M402 424h0M408 424h0M411 424h0M411.5 424h0M413.5 424h0M415 424h0M418 424h0M419.5 424h0M425 424h0M310 424.5h0M318 424.5h0M318.5 424.5h0M326.5 424.5h0M330.5 424.5h0M332 424.5h0M336.5 424.5h0M337 424.5h0M338.5 424.5h0M341.5 424.5h0M345 424.5h0M347 424.5h0M349.5 424.5h0M358.5 424.5h0M362 424.5h0M365.5 424.5h0M368.5 424.5h0M369 424.5h0M403 424.5h0M403.5 424.5h0M406 424.5h0M410.5 424.5h0M414 424.5h0M415 424.5h0M417.5 424.5h0M422.5 424.5h0M423 424.5h0M423.5 424.5h0M424 424.5h0M316 425h0M316.5 425h0M317 425h0M318.5 425h0M321 425h0M322.5 425h0M324.5 425h0M325 425h0M326.5 425h0M330 425h0M332.5 425h0M334.5 425h0M340 425h0M341 425h0M346.5 425h0M354 425h0M354.5 425h0M386.5 425h0M391 425h0M393.5 425h0M394.5 425h0M396 425h0M397.5 425h0M400 425h0M401 425h0M401.5 425h0M406 425h0M409.5 425h0M412 425h0M416.5 425h0M422 425h0M422.5 425h0M426 425h0M429.5 425h0M315 425.5h0M317 425.5h0M325 425.5h0M325.5 425.5h0M326 425.5h0M329.5 425.5h0M337.5 425.5h0M343.5 425.5h0M353.5 425.5h0M362 425.5h0M367 425.5h0M370 425.5h0M374.5 425.5h0M378 425.5h0M384.5 425.5h0M388 425.5h0M389 425.5h0M395.5 425.5h0M400.5 425.5h0M401 425.5h0M401.5 425.5h0M403.5 425.5h0M407 425.5h0M411 425.5h0M412 425.5h0M413 425.5h0M415 425.5h0M418.5 425.5h0M420.5 425.5h0M423.5 425.5h0M307.5 426h0M311 426h0M313.5 426h0M321.5 426h0M323.5 426h0M324.5 426h0M326.5 426h0M331 426h0M331.5 426h0M333.5 426h0M335 426h0M336.5 426h0M337 426h0M342 426h0M343 426h0M346.5 426h0M347.5 426h0M371.5 426h0M378.5 426h0M387.5 426h0M393 426h0M407.5 426h0M408 426h0M410.5 426h0M411 426h0M412 426h0M412.5 426h0M421.5 426h0M422 426h0M422.5 426h0M426 426h0M433 426h0M434.5 426h0M307 426.5h0M310.5 426.5h0M315 426.5h0M317.5 426.5h0M319.5 426.5h0M328 426.5h0M333.5 426.5h0M337 426.5h0M338 426.5h0M343.5 426.5h0M345.5 426.5h0M347 426.5h0M349.5 426.5h0M352 426.5h0M368 426.5h0M379.5 426.5h0M387.5 426.5h0M391.5 426.5h0M392.5 426.5h0M400 426.5h0M406 426.5h0M407 426.5h0M407.5 426.5h0M410.5 426.5h0M411.5 426.5h0M413.5 426.5h0M414 426.5h0M414.5 426.5h0M419 426.5h0M421 426.5h0M423 426.5h0M423.5 426.5h0M426 426.5h0M427.5 426.5h0M310.5 427h0M311.5 427h0M313 427h0M318.5 427h0M321.5 427h0M322.5 427h0M325.5 427h0M326.5 427h0M327 427h0M328.5 427h0M331.5 427h0M332.5 427h0M334 427h0M335.5 427h0M338 427h0M340 427h0M345 427h0M346.5 427h0M352 427h0M353.5 427h0M377.5 427h0M381 427h0M398 427h0M399 427h0M405 427h0M406.5 427h0M407 427h0M409 427h0M409.5 427h0M410 427h0M410.5 427h0M411.5 427h0M416 427h0M417 427h0M417.5 427h0M426.5 427h0M427 427h0M429 427h0M312 427.5h0M312.5 427.5h0M313 427.5h0M313.5 427.5h0M317 427.5h0M322.5 427.5h0M325 427.5h0M325.5 427.5h0M326 427.5h0M328 427.5h0M328.5 427.5h0M330 427.5h0M333 427.5h0M334.5 427.5h0M335 427.5h0M337 427.5h0M337.5 427.5h0M346.5 427.5h0M350 427.5h0M353 427.5h0M354.5 427.5h0M358 427.5h0M363 427.5h0M371.5 427.5h0M379.5 427.5h0M396 427.5h0M404.5 427.5h0M406 427.5h0M411 427.5h0M416 427.5h0M416.5 427.5h0M419.5 427.5h0M307.5 428h0M313 428h0M313.5 428h0M316 428h0M318.5 428h0M319.5 428h0M321 428h0M325 428h0M325.5 428h0M326 428h0M326.5 428h0M327.5 428h0M330 428h0M330.5 428h0M338 428h0M339 428h0M340.5 428h0M343 428h0M344 428h0M344.5 428h0M348.5 428h0M350.5 428h0M360 428h0M386 428h0M386.5 428h0M387 428h0M389 428h0M394.5 428h0M398 428h0M400.5 428h0M403.5 428h0M404 428h0M405.5 428h0M407.5 428h0M413.5 428h0M414 428h0M415 428h0M416 428h0M416.5 428h0M419.5 428h0M421.5 428h0M435.5 428h0M306.5 428.5h0M310.5 428.5h0M314 428.5h0M317.5 428.5h0M322 428.5h0M324 428.5h0M328.5 428.5h0M329.5 428.5h0M334 428.5h0M335.5 428.5h0M338.5 428.5h0M341 428.5h0M342 428.5h0M345 428.5h0M350.5 428.5h0M354.5 428.5h0M357 428.5h0M359.5 428.5h0M362.5 428.5h0M368 428.5h0M388.5 428.5h0M390 428.5h0M396 428.5h0M397 428.5h0M400 428.5h0M400.5 428.5h0M404.5 428.5h0M406 428.5h0M410 428.5h0M410.5 428.5h0M412.5 428.5h0M414.5 428.5h0M415 428.5h0M417.5 428.5h0M418 428.5h0M424.5 428.5h0M426.5 428.5h0M432 428.5h0M307 429h0M307.5 429h0M313.5 429h0M317.5 429h0M319 429h0M321.5 429h0M322 429h0M323.5 429h0M325.5 429h0M326 429h0M326.5 429h0M327 429h0M330.5 429h0M331 429h0M331.5 429h0M332.5 429h0M335 429h0M336.5 429h0M337 429h0M339 429h0M340 429h0M341.5 429h0M343 429h0M347.5 429h0M353.5 429h0M371.5 429h0M374.5 429h0M379.5 429h0M386 429h0M388.5 429h0M391 429h0M396.5 429h0M398.5 429h0M401 429h0M402 429h0M403 429h0M405 429h0M405.5 429h0M409.5 429h0M410.5 429h0M411 429h0M411.5 429h0M412.5 429h0M414.5 429h0M415.5 429h0M416.5 429h0M417 429h0M418.5 429h0M422.5 429h0M423.5 429h0M425.5 429h0M316 429.5h0M316.5 429.5h0M320 429.5h0M321 429.5h0M325.5 429.5h0M326.5 429.5h0M327 429.5h0M328 429.5h0M333.5 429.5h0M334.5 429.5h0M338.5 429.5h0M344 429.5h0M344.5 429.5h0M345 429.5h0M346 429.5h0M351.5 429.5h0M353 429.5h0M354.5 429.5h0M355.5 429.5h0M357 429.5h0M370.5 429.5h0M382 429.5h0M385 429.5h0M392.5 429.5h0M394.5 429.5h0M399.5 429.5h0M400 429.5h0M401.5 429.5h0M404 429.5h0M406.5 429.5h0M411.5 429.5h0M419 429.5h0M425 429.5h0M425.5 429.5h0M428 429.5h0M429.5 429.5h0M310 430h0M312.5 430h0M315.5 430h0M317 430h0M318 430h0M319 430h0M320 430h0M322.5 430h0M323.5 430h0M324 430h0M324.5 430h0M326 430h0M326.5 430h0M327 430h0M328 430h0M332 430h0M333 430h0M333.5 430h0M335 430h0M341 430h0M342.5 430h0M343 430h0M343.5 430h0M346 430h0M350 430h0M354.5 430h0M357.5 430h0M363.5 430h0M367 430h0M387 430h0M398.5 430h0M400 430h0M400.5 430h0M403 430h0M404.5 430h0M406 430h0M406.5 430h0M407 430h0M409.5 430h0M411 430h0M412.5 430h0M413 430h0M417.5 430h0M418 430h0M419 430h0M424.5 430h0M433 430h0M308 430.5h0M310 430.5h0M316 430.5h0M319 430.5h0M322 430.5h0M324.5 430.5h0M325 430.5h0M325.5 430.5h0M326.5 430.5h0M327.5 430.5h0M328 430.5h0M328.5 430.5h0M329 430.5h0M335.5 430.5h0M336 430.5h0M337 430.5h0M337.5 430.5h0M338.5 430.5h0M340.5 430.5h0M344 430.5h0M345 430.5h0M345.5 430.5h0M346 430.5h0M348.5 430.5h0M349.5 430.5h0M350 430.5h0M384.5 430.5h0M397.5 430.5h0M398 430.5h0M404 430.5h0M404.5 430.5h0M409.5 430.5h0M410.5 430.5h0M411 430.5h0M412.5 430.5h0M413 430.5h0M415 430.5h0M416.5 430.5h0M418 430.5h0M419 430.5h0M420.5 430.5h0M421.5 430.5h0M422.5 430.5h0M426 430.5h0M427 430.5h0M307.5 431h0M308.5 431h0M313.5 431h0M315.5 431h0M316.5 431h0M321 431h0M323.5 431h0M324 431h0M325.5 431h0M327.5 431h0M329.5 431h0M333 431h0M334.5 431h0M335 431h0M337 431h0M337.5 431h0M338 431h0M339 431h0M342 431h0M343.5 431h0M344 431h0M344.5 431h0M349 431h0M350 431h0M350.5 431h0M351.5 431h0M356 431h0M371 431h0M373 431h0M376 431h0M384.5 431h0M392.5 431h0M395.5 431h0M399 431h0M405 431h0M406.5 431h0M407 431h0M410.5 431h0M411 431h0M411.5 431h0M414.5 431h0M415 431h0M416 431h0M417 431h0M419 431h0M420.5 431h0M421 431h0M422.5 431h0M424 431h0M426 431h0M430 431h0M307 431.5h0M310.5 431.5h0M312 431.5h0M316 431.5h0M316.5 431.5h0M318 431.5h0M318.5 431.5h0M319.5 431.5h0M320 431.5h0M321 431.5h0M322 431.5h0M323 431.5h0M325 431.5h0M326.5 431.5h0M327 431.5h0M329.5 431.5h0M330 431.5h0M331.5 431.5h0M333 431.5h0M333.5 431.5h0M334 431.5h0M334.5 431.5h0M335 431.5h0M338.5 431.5h0M339 431.5h0M340 431.5h0M341.5 431.5h0M342.5 431.5h0M347 431.5h0M353 431.5h0M359.5 431.5h0M377.5 431.5h0M388 431.5h0M388.5 431.5h0M400 431.5h0M403 431.5h0M404 431.5h0M404.5 431.5h0M405 431.5h0M407 431.5h0M407.5 431.5h0M408 431.5h0M408.5 431.5h0M411 431.5h0M413 431.5h0M413.5 431.5h0M414.5 431.5h0M416 431.5h0M416.5 431.5h0M419.5 431.5h0M422 431.5h0M425 431.5h0M425.5 431.5h0M427 431.5h0M306.5 432h0M307 432h0M307.5 432h0M311.5 432h0M313 432h0M314 432h0M315.5 432h0M316.5 432h0M320 432h0M321.5 432h0M322 432h0M322.5 432h0M323 432h0M323.5 432h0M324.5 432h0M325 432h0M325.5 432h0M326.5 432h0M327 432h0M328 432h0M328.5 432h0M330 432h0M330.5 432h0M332 432h0M333.5 432h0M334 432h0M334.5 432h0M339.5 432h0M343 432h0M352 432h0M358.5 432h0M375.5 432h0M388.5 432h0M394 432h0M395 432h0M395.5 432h0M397.5 432h0M399 432h0M399.5 432h0M400.5 432h0M401 432h0M402 432h0M402.5 432h0M403 432h0M403.5 432h0M405.5 432h0M409 432h0M410 432h0M411 432h0M411.5 432h0M412 432h0M412.5 432h0M413 432h0M419 432h0M419.5 432h0M421.5 432h0M424.5 432h0M431 432h0M314 432.5h0M316 432.5h0M316.5 432.5h0M321.5 432.5h0M322.5 432.5h0M327 432.5h0M330.5 432.5h0M332 432.5h0M333.5 432.5h0M334 432.5h0M334.5 432.5h0M336.5 432.5h0M337 432.5h0M338.5 432.5h0M339.5 432.5h0M340.5 432.5h0M343.5 432.5h0M346 432.5h0M347.5 432.5h0M348 432.5h0M349.5 432.5h0M352.5 432.5h0M354 432.5h0M355 432.5h0M356 432.5h0M360.5 432.5h0M362 432.5h0M372 432.5h0M386.5 432.5h0M387.5 432.5h0M388.5 432.5h0M395.5 432.5h0M396.5 432.5h0M399 432.5h0M400 432.5h0M403 432.5h0M404.5 432.5h0M405 432.5h0M406 432.5h0M406.5 432.5h0M407 432.5h0M409.5 432.5h0M410.5 432.5h0M413 432.5h0M413.5 432.5h0M414 432.5h0M414.5 432.5h0M415.5 432.5h0M418 432.5h0M419.5 432.5h0M421 432.5h0M422 432.5h0M424 432.5h0M424.5 432.5h0M425 432.5h0M425.5 432.5h0M426 432.5h0M426.5 432.5h0M429 432.5h0M439 432.5h0M306.5 433h0M307.5 433h0M308 433h0M308.5 433h0M310 433h0M311.5 433h0M313 433h0M314.5 433h0M316.5 433h0M317 433h0M320 433h0M320.5 433h0M321.5 433h0M322 433h0M323 433h0M325 433h0M326 433h0M328.5 433h0M330 433h0M331.5 433h0M332 433h0M332.5 433h0M334 433h0M336 433h0M338 433h0M339.5 433h0M340 433h0M341 433h0M341.5 433h0M342.5 433h0M343.5 433h0M345.5 433h0M351.5 433h0M361.5 433h0M382.5 433h0M392 433h0M393.5 433h0M397 433h0M399 433h0M401 433h0M403.5 433h0M404 433h0M404.5 433h0M405.5 433h0M406 433h0M408.5 433h0M410 433h0M410.5 433h0M411.5 433h0M412 433h0M413 433h0M414.5 433h0M415 433h0M415.5 433h0M417 433h0M420 433h0M420.5 433h0M422 433h0M423 433h0M430 433h0M432.5 433h0M433.5 433h0M438.5 433h0M306.5 433.5h0M307 433.5h0M307.5 433.5h0M308 433.5h0M311 433.5h0M313.5 433.5h0M314 433.5h0M314.5 433.5h0M316 433.5h0M317 433.5h0M318 433.5h0M318.5 433.5h0M319 433.5h0M319.5 433.5h0M320 433.5h0M320.5 433.5h0M321.5 433.5h0M323 433.5h0M323.5 433.5h0M325 433.5h0M327.5 433.5h0M328 433.5h0M328.5 433.5h0M329 433.5h0M329.5 433.5h0M330 433.5h0M333.5 433.5h0M334.5 433.5h0M337 433.5h0M338.5 433.5h0M341 433.5h0M342 433.5h0M342.5 433.5h0M344 433.5h0M346.5 433.5h0M348.5 433.5h0M350.5 433.5h0M351.5 433.5h0M352.5 433.5h0M354 433.5h0M358 433.5h0M370.5 433.5h0M382.5 433.5h0M386.5 433.5h0M392 433.5h0M395 433.5h0M395.5 433.5h0M397 433.5h0M400 433.5h0M400.5 433.5h0M402 433.5h0M404 433.5h0M406 433.5h0M406.5 433.5h0M407 433.5h0M408.5 433.5h0M409.5 433.5h0M410 433.5h0M411 433.5h0M412 433.5h0M412.5 433.5h0M415 433.5h0M415.5 433.5h0M416 433.5h0M417 433.5h0M417.5 433.5h0M418 433.5h0M418.5 433.5h0M419.5 433.5h0M420.5 433.5h0M421 433.5h0M421.5 433.5h0M423 433.5h0M424 433.5h0M424.5 433.5h0M425 433.5h0M429 433.5h0M439 433.5h0M309.5 434h0M310.5 434h0M314.5 434h0M315 434h0M315.5 434h0M317.5 434h0M319 434h0M319.5 434h0M322.5 434h0M323 434h0M323.5 434h0M324 434h0M324.5 434h0M326 434h0M326.5 434h0M327 434h0M330 434h0M331 434h0M332 434h0M332.5 434h0M333.5 434h0M334 434h0M335.5 434h0M336 434h0M337 434h0M338 434h0M339.5 434h0M340 434h0M341 434h0M343 434h0M348 434h0M348.5 434h0M350 434h0M350.5 434h0M351 434h0M351.5 434h0M354 434h0M354.5 434h0M355 434h0M359.5 434h0M368.5 434h0M373.5 434h0M375 434h0M385 434h0M387.5 434h0M392 434h0M396 434h0M397 434h0M399 434h0M399.5 434h0M402 434h0M404.5 434h0M406 434h0M407.5 434h0M408.5 434h0M409 434h0M409.5 434h0M410 434h0M411 434h0M412 434h0M412.5 434h0M413.5 434h0M414 434h0M414.5 434h0M415.5 434h0M416 434h0M416.5 434h0M417 434h0M418 434h0M418.5 434h0M419 434h0M419.5 434h0M421 434h0M423 434h0M423.5 434h0M424.5 434h0M425 434h0M427 434h0M433 434h0M437.5 434h0M306.5 434.5h0M307.5 434.5h0M308 434.5h0M309 434.5h0M310 434.5h0M310.5 434.5h0M311 434.5h0M311.5 434.5h0M315.5 434.5h0M317 434.5h0M317.5 434.5h0M320 434.5h0M322 434.5h0M322.5 434.5h0M323 434.5h0M323.5 434.5h0M324 434.5h0M325.5 434.5h0M326.5 434.5h0M327 434.5h0M328 434.5h0M328.5 434.5h0M329 434.5h0M329.5 434.5h0M333 434.5h0M334.5 434.5h0M335 434.5h0M336 434.5h0M338 434.5h0M341.5 434.5h0M342.5 434.5h0M343 434.5h0M344 434.5h0M351 434.5h0M351.5 434.5h0M355.5 434.5h0M365 434.5h0M366 434.5h0M378.5 434.5h0M385.5 434.5h0M387 434.5h0M388.5 434.5h0M391 434.5h0M399.5 434.5h0M401.5 434.5h0M402.5 434.5h0M403.5 434.5h0M406.5 434.5h0M410 434.5h0M410.5 434.5h0M411 434.5h0M411.5 434.5h0M412.5 434.5h0M413.5 434.5h0M414 434.5h0M415.5 434.5h0M416 434.5h0M417 434.5h0M418 434.5h0M419 434.5h0M419.5 434.5h0M420 434.5h0M420.5 434.5h0M422.5 434.5h0M424.5 434.5h0M425.5 434.5h0M427 434.5h0M306.5 435h0M309 435h0M309.5 435h0M310 435h0M310.5 435h0M312.5 435h0M313 435h0M317.5 435h0M318 435h0M319.5 435h0M322 435h0M324 435h0M325 435h0M325.5 435h0M326 435h0M327.5 435h0M329 435h0M329.5 435h0M330.5 435h0M333.5 435h0M336 435h0M340 435h0M341.5 435h0M342.5 435h0M343 435h0M344 435h0M352 435h0M358 435h0M358.5 435h0M360 435h0M369 435h0M375.5 435h0M389 435h0M391 435h0M392.5 435h0M393.5 435h0M395 435h0M397 435h0M399.5 435h0M401 435h0M402 435h0M404 435h0M406 435h0M407 435h0M407.5 435h0M408.5 435h0M409 435h0M410 435h0M411 435h0M413 435h0M414.5 435h0M415.5 435h0M416 435h0M416.5 435h0M417 435h0M417.5 435h0M418 435h0M418.5 435h0M419 435h0M421 435h0M423 435h0M424 435h0M425.5 435h0M433.5 435h0M307 435.5h0M309 435.5h0M311 435.5h0M312.5 435.5h0M313 435.5h0M313.5 435.5h0M315 435.5h0M322 435.5h0M322.5 435.5h0M323.5 435.5h0M325 435.5h0M325.5 435.5h0M326 435.5h0M326.5 435.5h0M329 435.5h0M329.5 435.5h0M330 435.5h0M330.5 435.5h0M331.5 435.5h0M333 435.5h0M333.5 435.5h0M335.5 435.5h0M336.5 435.5h0M337 435.5h0M340 435.5h0M340.5 435.5h0M341.5 435.5h0M342 435.5h0M343.5 435.5h0M344 435.5h0M346 435.5h0M347 435.5h0M347.5 435.5h0M357.5 435.5h0M359 435.5h0M361.5 435.5h0M380.5 435.5h0M388.5 435.5h0M391 435.5h0M393.5 435.5h0M396 435.5h0M399 435.5h0M400 435.5h0M400.5 435.5h0M401 435.5h0M402.5 435.5h0M403.5 435.5h0M404 435.5h0M407.5 435.5h0M408 435.5h0M408.5 435.5h0M409 435.5h0M409.5 435.5h0M410.5 435.5h0M411 435.5h0M412 435.5h0M413.5 435.5h0M414 435.5h0M416 435.5h0M416.5 435.5h0M418.5 435.5h0M419 435.5h0M421.5 435.5h0M422 435.5h0M422.5 435.5h0M423 435.5h0M424 435.5h0M425.5 435.5h0M426.5 435.5h0M307 436h0M309 436h0M311.5 436h0M312 436h0M313 436h0M314 436h0M317.5 436h0M318.5 436h0M320.5 436h0M321.5 436h0M322 436h0M322.5 436h0M323 436h0M323.5 436h0M324 436h0M324.5 436h0M325.5 436h0M328 436h0M329.5 436h0M330 436h0M331 436h0M331.5 436h0M332.5 436h0M334 436h0M334.5 436h0M335.5 436h0M337 436h0M338.5 436h0M339 436h0M340 436h0M340.5 436h0M341 436h0M342 436h0M343.5 436h0M347 436h0M349 436h0M350 436h0M352 436h0M353.5 436h0M356 436h0M360 436h0M363.5 436h0M385 436h0M391 436h0M394 436h0M399.5 436h0M400 436h0M400.5 436h0M403 436h0M403.5 436h0M406 436h0M406.5 436h0M407.5 436h0M408 436h0M409 436h0M409.5 436h0M410 436h0M410.5 436h0M412.5 436h0M414 436h0M414.5 436h0M417 436h0M418.5 436h0M419 436h0M420.5 436h0M421 436h0M421.5 436h0M422.5 436h0M423 436h0M424 436h0M426 436h0M438 436h0M307 436.5h0M310 436.5h0M314 436.5h0M315.5 436.5h0M316 436.5h0M317 436.5h0M318 436.5h0M318.5 436.5h0M322.5 436.5h0M324 436.5h0M326.5 436.5h0M328 436.5h0M328.5 436.5h0M329 436.5h0M330 436.5h0M331 436.5h0M332.5 436.5h0M333.5 436.5h0M334 436.5h0M334.5 436.5h0M335 436.5h0M336.5 436.5h0M339 436.5h0M340.5 436.5h0M342.5 436.5h0M343.5 436.5h0M349 436.5h0M349.5 436.5h0M350.5 436.5h0M362.5 436.5h0M363.5 436.5h0M366 436.5h0M370.5 436.5h0M378.5 436.5h0M381.5 436.5h0M396.5 436.5h0M397 436.5h0M397.5 436.5h0M401 436.5h0M401.5 436.5h0M404 436.5h0M405.5 436.5h0M406.5 436.5h0M407.5 436.5h0M408.5 436.5h0M409.5 436.5h0M410.5 436.5h0M411 436.5h0M412 436.5h0M412.5 436.5h0M416.5 436.5h0M418 436.5h0M421 436.5h0M422 436.5h0M424.5 436.5h0M426.5 436.5h0M429 436.5h0M433.5 436.5h0M440 436.5h0M308 437h0M308.5 437h0M309.5 437h0M310.5 437h0M312.5 437h0M313 437h0M315 437h0M315.5 437h0M316 437h0M317 437h0M318 437h0M321 437h0M321.5 437h0M322 437h0M322.5 437h0M323.5 437h0M325 437h0M325.5 437h0M326 437h0M326.5 437h0M327 437h0M327.5 437h0M330 437h0M331 437h0M331.5 437h0M336 437h0M337.5 437h0M339 437h0M341.5 437h0M343 437h0M344 437h0M345 437h0M345.5 437h0M347.5 437h0M348 437h0M349 437h0M351.5 437h0M352 437h0M354 437h0M355 437h0M369.5 437h0M374.5 437h0M379 437h0M383 437h0M394.5 437h0M395.5 437h0M398.5 437h0M399 437h0M400 437h0M405 437h0M405.5 437h0M406 437h0M408 437h0M410 437h0M411 437h0M411.5 437h0M412 437h0M413.5 437h0M415 437h0M415.5 437h0M416 437h0M416.5 437h0M417 437h0M417.5 437h0M418 437h0M418.5 437h0M419 437h0M420 437h0M421 437h0M421.5 437h0M422.5 437h0M425 437h0M428.5 437h0M429.5 437h0M430 437h0M431.5 437h0M433.5 437h0M306.5 437.5h0M307 437.5h0M310.5 437.5h0M311 437.5h0M311.5 437.5h0M317.5 437.5h0M318.5 437.5h0M320 437.5h0M320.5 437.5h0M321 437.5h0M321.5 437.5h0M322.5 437.5h0M323 437.5h0M323.5 437.5h0M325 437.5h0M326.5 437.5h0M327.5 437.5h0M330 437.5h0M331.5 437.5h0M333.5 437.5h0M335.5 437.5h0M336.5 437.5h0M337 437.5h0M337.5 437.5h0M338.5 437.5h0M340 437.5h0M341 437.5h0M342 437.5h0M347 437.5h0M348 437.5h0M348.5 437.5h0M350 437.5h0M353 437.5h0M355 437.5h0M355.5 437.5h0M357.5 437.5h0M375 437.5h0M380.5 437.5h0M387 437.5h0M390 437.5h0M390.5 437.5h0M394.5 437.5h0M397 437.5h0M399 437.5h0M399.5 437.5h0M400 437.5h0M401.5 437.5h0M402.5 437.5h0M403 437.5h0M403.5 437.5h0M404.5 437.5h0M405 437.5h0M406 437.5h0M407 437.5h0M409.5 437.5h0M410 437.5h0M410.5 437.5h0M413 437.5h0M413.5 437.5h0M414 437.5h0M414.5 437.5h0M415.5 437.5h0M416.5 437.5h0M417.5 437.5h0M419.5 437.5h0M422.5 437.5h0M424.5 437.5h0M428 437.5h0M428.5 437.5h0M429 437.5h0M433 437.5h0M438 437.5h0M306.5 438h0M308.5 438h0M310 438h0M310.5 438h0M312 438h0M313.5 438h0M315 438h0M315.5 438h0M317 438h0M317.5 438h0M319 438h0M319.5 438h0M320 438h0M322.5 438h0M323 438h0M323.5 438h0M324 438h0M326 438h0M326.5 438h0M327.5 438h0M328 438h0M329 438h0M329.5 438h0M330.5 438h0M331.5 438h0M332.5 438h0M335 438h0M335.5 438h0M336 438h0M336.5 438h0M338 438h0M338.5 438h0M341 438h0M341.5 438h0M342 438h0M342.5 438h0M343.5 438h0M344 438h0M346 438h0M347 438h0M348.5 438h0M354.5 438h0M355.5 438h0M374.5 438h0M382 438h0M388.5 438h0M392 438h0M394.5 438h0M396 438h0M399 438h0M400.5 438h0M401 438h0M402 438h0M402.5 438h0M403 438h0M403.5 438h0M404 438h0M404.5 438h0M405.5 438h0M407 438h0M408 438h0M410.5 438h0M412 438h0M412.5 438h0M413 438h0M413.5 438h0M414 438h0M414.5 438h0M415 438h0M415.5 438h0M416 438h0M416.5 438h0M418 438h0M418.5 438h0M419 438h0M420 438h0M422.5 438h0M424 438h0M428.5 438h0M432.5 438h0M433 438h0M309 438.5h0M312 438.5h0M315 438.5h0M317 438.5h0M318 438.5h0M319.5 438.5h0M320 438.5h0M320.5 438.5h0M321 438.5h0M321.5 438.5h0M322 438.5h0M322.5 438.5h0M323 438.5h0M325 438.5h0M325.5 438.5h0M326 438.5h0M326.5 438.5h0M327.5 438.5h0M328.5 438.5h0M332.5 438.5h0M334 438.5h0M334.5 438.5h0M336 438.5h0M337.5 438.5h0M338.5 438.5h0M339 438.5h0M339.5 438.5h0M341 438.5h0M342 438.5h0M342.5 438.5h0M344 438.5h0M344.5 438.5h0M345 438.5h0M348.5 438.5h0M349 438.5h0M350.5 438.5h0M352.5 438.5h0M354 438.5h0M373.5 438.5h0M385 438.5h0M391.5 438.5h0M393.5 438.5h0M395 438.5h0M395.5 438.5h0M397 438.5h0M399.5 438.5h0M405 438.5h0M405.5 438.5h0M406.5 438.5h0M407.5 438.5h0M408.5 438.5h0M409 438.5h0M409.5 438.5h0M410 438.5h0M410.5 438.5h0M411 438.5h0M411.5 438.5h0M412 438.5h0M413 438.5h0M414.5 438.5h0M416.5 438.5h0M417 438.5h0M417.5 438.5h0M418.5 438.5h0M419.5 438.5h0M422 438.5h0M423.5 438.5h0M424.5 438.5h0M426 438.5h0M427.5 438.5h0M428.5 438.5h0M429 438.5h0M431.5 438.5h0M434 438.5h0M306.5 439h0M307 439h0M312.5 439h0M314.5 439h0M315.5 439h0M316.5 439h0M317.5 439h0M319 439h0M319.5 439h0M320 439h0M321.5 439h0M322.5 439h0M323.5 439h0M324 439h0M324.5 439h0M325 439h0M325.5 439h0M326.5 439h0M328.5 439h0M329 439h0M330 439h0M330.5 439h0M331.5 439h0M332 439h0M332.5 439h0M333.5 439h0M334 439h0M334.5 439h0M336 439h0M337 439h0M338 439h0M338.5 439h0M339.5 439h0M340.5 439h0M344 439h0M348.5 439h0M349.5 439h0M351.5 439h0M352 439h0M357 439h0M363 439h0M394.5 439h0M396 439h0M398.5 439h0M399.5 439h0M400.5 439h0M401.5 439h0M402 439h0M403.5 439h0M404.5 439h0M405 439h0M405.5 439h0M406 439h0M406.5 439h0M407 439h0M407.5 439h0M408 439h0M408.5 439h0M409 439h0M410.5 439h0M411 439h0M411.5 439h0M412 439h0M412.5 439h0M413 439h0M413.5 439h0M415 439h0M416 439h0M417 439h0M417.5 439h0M419 439h0M420 439h0M422 439h0M423.5 439h0M424 439h0M425 439h0M425.5 439h0M426.5 439h0M427 439h0M436 439h0M439 439h0M309 439.5h0M309.5 439.5h0M310 439.5h0M310.5 439.5h0M311.5 439.5h0M313.5 439.5h0M314 439.5h0M314.5 439.5h0M315 439.5h0M315.5 439.5h0M316 439.5h0M316.5 439.5h0M317 439.5h0M317.5 439.5h0M319 439.5h0M320 439.5h0M321.5 439.5h0M322 439.5h0M323 439.5h0M324.5 439.5h0M326 439.5h0M328.5 439.5h0M329.5 439.5h0M333 439.5h0M334 439.5h0M335 439.5h0M336 439.5h0M336.5 439.5h0M337.5 439.5h0M339 439.5h0M340.5 439.5h0M341 439.5h0M341.5 439.5h0M342 439.5h0M346.5 439.5h0M347 439.5h0M349.5 439.5h0M350 439.5h0M351.5 439.5h0M357 439.5h0M387.5 439.5h0M389.5 439.5h0M390.5 439.5h0M393.5 439.5h0M401.5 439.5h0M403 439.5h0M404 439.5h0M405 439.5h0M406 439.5h0M406.5 439.5h0M407.5 439.5h0M408 439.5h0M409 439.5h0M409.5 439.5h0M410.5 439.5h0M411.5 439.5h0M412 439.5h0M413.5 439.5h0M414 439.5h0M414.5 439.5h0M415 439.5h0M415.5 439.5h0M416 439.5h0M416.5 439.5h0M417 439.5h0M417.5 439.5h0M418 439.5h0M420.5 439.5h0M421 439.5h0M421.5 439.5h0M422.5 439.5h0M423 439.5h0M424 439.5h0M425.5 439.5h0M426 439.5h0M428.5 439.5h0M429 439.5h0M431.5 439.5h0M310.5 440h0M312 440h0M312.5 440h0M313 440h0M313.5 440h0M314 440h0M315.5 440h0M316 440h0M316.5 440h0M317 440h0M317.5 440h0M318 440h0M318.5 440h0M319 440h0M319.5 440h0M320 440h0M320.5 440h0M322 440h0M324.5 440h0M325 440h0M325.5 440h0M326 440h0M326.5 440h0M327 440h0M327.5 440h0M328 440h0M328.5 440h0M329.5 440h0M330 440h0M331 440h0M331.5 440h0M332.5 440h0M333 440h0M333.5 440h0M334.5 440h0M335 440h0M336.5 440h0M337 440h0M337.5 440h0M338 440h0M338.5 440h0M339.5 440h0M340 440h0M343 440h0M344 440h0M347 440h0M348 440h0M349 440h0M352 440h0M354 440h0M355 440h0M371.5 440h0M393 440h0M393.5 440h0M396 440h0M397 440h0M397.5 440h0M398 440h0M398.5 440h0M399 440h0M401 440h0M402.5 440h0M403 440h0M403.5 440h0M404 440h0M405.5 440h0M407 440h0M408 440h0M409.5 440h0M411 440h0M412.5 440h0M413 440h0M414 440h0M415 440h0M415.5 440h0M416.5 440h0M417 440h0M417.5 440h0M419 440h0M419.5 440h0M420 440h0M420.5 440h0M421.5 440h0M422.5 440h0M425 440h0M426 440h0M426.5 440h0M427.5 440h0M429 440h0M431 440h0M433 440h0M307.5 440.5h0M308.5 440.5h0M309.5 440.5h0M310 440.5h0M310.5 440.5h0M313.5 440.5h0M314.5 440.5h0M316.5 440.5h0M317.5 440.5h0M318 440.5h0M318.5 440.5h0M320 440.5h0M321 440.5h0M322.5 440.5h0M323 440.5h0M323.5 440.5h0M324 440.5h0M324.5 440.5h0M327 440.5h0M328.5 440.5h0M329.5 440.5h0M330.5 440.5h0M332 440.5h0M333 440.5h0M335.5 440.5h0M337 440.5h0M338 440.5h0M338.5 440.5h0M339 440.5h0M339.5 440.5h0M341 440.5h0M341.5 440.5h0M343.5 440.5h0M348.5 440.5h0M349.5 440.5h0M350.5 440.5h0M353 440.5h0M354.5 440.5h0M355.5 440.5h0M358.5 440.5h0M359.5 440.5h0M367.5 440.5h0M383 440.5h0M387 440.5h0M393.5 440.5h0M395 440.5h0M397.5 440.5h0M399.5 440.5h0M403.5 440.5h0M404 440.5h0M404.5 440.5h0M405 440.5h0M406.5 440.5h0M407 440.5h0M407.5 440.5h0M409.5 440.5h0M410.5 440.5h0M411 440.5h0M412.5 440.5h0M413 440.5h0M414 440.5h0M415 440.5h0M416.5 440.5h0M417 440.5h0M417.5 440.5h0M418 440.5h0M418.5 440.5h0M419 440.5h0M419.5 440.5h0M423.5 440.5h0M424 440.5h0M427 440.5h0M428.5 440.5h0M429 440.5h0M429.5 440.5h0M430.5 440.5h0M438 440.5h0M439.5 440.5h0M306.5 441h0M309.5 441h0M312 441h0M313 441h0M314 441h0M316 441h0M317.5 441h0M318.5 441h0M319 441h0M320 441h0M320.5 441h0M322.5 441h0M323.5 441h0M324 441h0M324.5 441h0M325 441h0M326 441h0M326.5 441h0M327.5 441h0M328.5 441h0M329 441h0M330 441h0M330.5 441h0M332 441h0M332.5 441h0M334 441h0M334.5 441h0M335 441h0M335.5 441h0M336 441h0M337 441h0M337.5 441h0M338 441h0M341 441h0M341.5 441h0M342 441h0M343 441h0M343.5 441h0M344 441h0M344.5 441h0M346 441h0M348 441h0M352 441h0M353.5 441h0M354 441h0M356.5 441h0M359 441h0M362 441h0M367.5 441h0M376 441h0M384 441h0M387 441h0M391 441h0M392.5 441h0M394.5 441h0M395.5 441h0M400 441h0M401.5 441h0M402.5 441h0M404.5 441h0M405 441h0M405.5 441h0M406 441h0M406.5 441h0M407.5 441h0M408 441h0M408.5 441h0M409 441h0M409.5 441h0M411 441h0M411.5 441h0M413 441h0M414 441h0M414.5 441h0M415 441h0M415.5 441h0M416 441h0M416.5 441h0M417 441h0M417.5 441h0M418.5 441h0M422 441h0M422.5 441h0M423 441h0M423.5 441h0M424.5 441h0M425 441h0M426 441h0M426.5 441h0M428 441h0M429 441h0M429.5 441h0M434.5 441h0M438 441h0M306.5 441.5h0M308 441.5h0M310.5 441.5h0M311.5 441.5h0M312 441.5h0M313.5 441.5h0M314.5 441.5h0M316 441.5h0M316.5 441.5h0M317 441.5h0M317.5 441.5h0M319.5 441.5h0M321.5 441.5h0M323 441.5h0M323.5 441.5h0M324 441.5h0M325 441.5h0M325.5 441.5h0M326 441.5h0M326.5 441.5h0M327.5 441.5h0M328.5 441.5h0M329 441.5h0M330.5 441.5h0M331.5 441.5h0M332 441.5h0M332.5 441.5h0M334 441.5h0M334.5 441.5h0M335 441.5h0M335.5 441.5h0M336 441.5h0M336.5 441.5h0M337 441.5h0M338 441.5h0M339 441.5h0M340.5 441.5h0M342 441.5h0M342.5 441.5h0M343 441.5h0M344 441.5h0M344.5 441.5h0M345 441.5h0M350.5 441.5h0M352.5 441.5h0M353.5 441.5h0M357.5 441.5h0M358 441.5h0M360.5 441.5h0M368.5 441.5h0M383.5 441.5h0M384 441.5h0M389 441.5h0M391 441.5h0M391.5 441.5h0M396.5 441.5h0M397.5 441.5h0M400 441.5h0M401 441.5h0M401.5 441.5h0M402 441.5h0M402.5 441.5h0M403 441.5h0M403.5 441.5h0M406 441.5h0M406.5 441.5h0M407 441.5h0M407.5 441.5h0M408 441.5h0M408.5 441.5h0M409 441.5h0M409.5 441.5h0M411 441.5h0M411.5 441.5h0M412 441.5h0M412.5 441.5h0M414.5 441.5h0M415 441.5h0M415.5 441.5h0M417.5 441.5h0M418 441.5h0M419 441.5h0M420 441.5h0M420.5 441.5h0M424 441.5h0M425.5 441.5h0M426 441.5h0M429 441.5h0M307 442h0M309 442h0M310.5 442h0M311 442h0M311.5 442h0M314.5 442h0M316 442h0M317.5 442h0M318 442h0M318.5 442h0M319 442h0M320 442h0M321.5 442h0M322 442h0M322.5 442h0M323 442h0M324.5 442h0M325.5 442h0M326.5 442h0M328 442h0M328.5 442h0M329.5 442h0M330 442h0M331 442h0M331.5 442h0M333 442h0M333.5 442h0M334 442h0M335 442h0M335.5 442h0M336.5 442h0M338 442h0M338.5 442h0M341.5 442h0M344.5 442h0M346 442h0M347.5 442h0M348 442h0M350 442h0M351 442h0M352 442h0M354 442h0M356 442h0M358.5 442h0M359 442h0M361 442h0M361.5 442h0M367 442h0M379.5 442h0M382.5 442h0M386.5 442h0M387 442h0M388 442h0M389.5 442h0M391 442h0M392.5 442h0M395.5 442h0M396 442h0M396.5 442h0M398 442h0M398.5 442h0M400 442h0M401 442h0M402 442h0M403.5 442h0M404 442h0M404.5 442h0M405 442h0M405.5 442h0M406 442h0M407 442h0M407.5 442h0M408 442h0M408.5 442h0M409.5 442h0M410 442h0M410.5 442h0M411 442h0M411.5 442h0M412 442h0M412.5 442h0M413 442h0M415 442h0M415.5 442h0M416.5 442h0M417 442h0M417.5 442h0M418.5 442h0M419 442h0M419.5 442h0M420.5 442h0M421.5 442h0M422.5 442h0M423 442h0M423.5 442h0M424.5 442h0M425.5 442h0M427.5 442h0M428 442h0M428.5 442h0M432 442h0M434 442h0M435 442h0M307.5 442.5h0M308 442.5h0M309.5 442.5h0M310.5 442.5h0M311 442.5h0M311.5 442.5h0M315.5 442.5h0M316.5 442.5h0M317.5 442.5h0M319 442.5h0M319.5 442.5h0M320 442.5h0M321 442.5h0M321.5 442.5h0M323 442.5h0M324.5 442.5h0M325 442.5h0M326.5 442.5h0M327 442.5h0M328 442.5h0M329.5 442.5h0M331.5 442.5h0M332 442.5h0M334 442.5h0M337 442.5h0M338.5 442.5h0M339 442.5h0M339.5 442.5h0M341 442.5h0M343 442.5h0M345 442.5h0M348.5 442.5h0M349 442.5h0M356.5 442.5h0M360 442.5h0M368.5 442.5h0M374.5 442.5h0M391.5 442.5h0M395 442.5h0M397 442.5h0M400 442.5h0M401.5 442.5h0M403.5 442.5h0M404 442.5h0M404.5 442.5h0M405 442.5h0M406 442.5h0M407 442.5h0M408 442.5h0M408.5 442.5h0M409 442.5h0M409.5 442.5h0M410 442.5h0M410.5 442.5h0M411 442.5h0M411.5 442.5h0M413.5 442.5h0M414 442.5h0M414.5 442.5h0M415 442.5h0M415.5 442.5h0M416 442.5h0M416.5 442.5h0M417 442.5h0M418 442.5h0M418.5 442.5h0M419 442.5h0M419.5 442.5h0M420 442.5h0M420.5 442.5h0M421 442.5h0M421.5 442.5h0M422.5 442.5h0M424 442.5h0M424.5 442.5h0M426.5 442.5h0M430.5 442.5h0M433 442.5h0M308.5 443h0M310 443h0M311.5 443h0M312 443h0M313.5 443h0M314 443h0M314.5 443h0M317 443h0M318 443h0M318.5 443h0M319 443h0M321 443h0M321.5 443h0M323.5 443h0M325 443h0M325.5 443h0M326 443h0M326.5 443h0M327.5 443h0M331 443h0M332 443h0M333 443h0M333.5 443h0M334 443h0M336 443h0M336.5 443h0M339.5 443h0M340 443h0M340.5 443h0M343.5 443h0M345 443h0M346 443h0M347.5 443h0M352 443h0M366 443h0M375.5 443h0M381.5 443h0M384 443h0M386 443h0M390.5 443h0M393.5 443h0M396 443h0M396.5 443h0M402 443h0M403.5 443h0M405.5 443h0M406 443h0M406.5 443h0M410.5 443h0M412 443h0M412.5 443h0M413 443h0M414 443h0M414.5 443h0M416 443h0M416.5 443h0M417 443h0M417.5 443h0M418.5 443h0M419 443h0M419.5 443h0M420 443h0M420.5 443h0M421 443h0M421.5 443h0M422 443h0M423.5 443h0M424 443h0M424.5 443h0M425 443h0M426 443h0M431 443h0M433 443h0M434.5 443h0M307 443.5h0M308.5 443.5h0M310.5 443.5h0M311.5 443.5h0M312.5 443.5h0M313 443.5h0M313.5 443.5h0M314 443.5h0M315 443.5h0M315.5 443.5h0M317 443.5h0M318 443.5h0M318.5 443.5h0M319 443.5h0M320 443.5h0M321 443.5h0M321.5 443.5h0M322 443.5h0M322.5 443.5h0M323 443.5h0M323.5 443.5h0M324 443.5h0M324.5 443.5h0M325.5 443.5h0M326 443.5h0M327 443.5h0M327.5 443.5h0M328 443.5h0M329.5 443.5h0M330.5 443.5h0M331 443.5h0M331.5 443.5h0M332.5 443.5h0M333 443.5h0M333.5 443.5h0M334 443.5h0M336 443.5h0M337 443.5h0M338 443.5h0M338.5 443.5h0M339 443.5h0M339.5 443.5h0M340.5 443.5h0M342 443.5h0M342.5 443.5h0M345.5 443.5h0M346 443.5h0M346.5 443.5h0M348 443.5h0M351 443.5h0M377.5 443.5h0M383 443.5h0M383.5 443.5h0M393 443.5h0M394.5 443.5h0M395.5 443.5h0M397.5 443.5h0M398 443.5h0M398.5 443.5h0M399.5 443.5h0M403 443.5h0M404.5 443.5h0M405 443.5h0M406 443.5h0M406.5 443.5h0M407.5 443.5h0M408 443.5h0M409 443.5h0M409.5 443.5h0M410.5 443.5h0M411 443.5h0M411.5 443.5h0M412 443.5h0M413 443.5h0M413.5 443.5h0M415 443.5h0M417 443.5h0M417.5 443.5h0M418 443.5h0M418.5 443.5h0M419 443.5h0M419.5 443.5h0M420.5 443.5h0M422 443.5h0M422.5 443.5h0M423 443.5h0M423.5 443.5h0M424 443.5h0M425 443.5h0M425.5 443.5h0M426 443.5h0M427.5 443.5h0M429 443.5h0M430 443.5h0M430.5 443.5h0M431.5 443.5h0M434.5 443.5h0M436 443.5h0M439.5 443.5h0M307 444h0M311.5 444h0M312 444h0M314 444h0M314.5 444h0M315.5 444h0M316.5 444h0M317.5 444h0M318 444h0M319 444h0M319.5 444h0M321.5 444h0M322.5 444h0M323 444h0M324.5 444h0M325 444h0M325.5 444h0M327 444h0M327.5 444h0M328 444h0M329 444h0M330.5 444h0M331 444h0M331.5 444h0M332 444h0M332.5 444h0M333 444h0M334 444h0M334.5 444h0M335 444h0M335.5 444h0M336 444h0M337.5 444h0M339 444h0M339.5 444h0M340.5 444h0M341.5 444h0M342.5 444h0M344.5 444h0M352 444h0M357.5 444h0M359 444h0M362 444h0M373 444h0M385.5 444h0M392.5 444h0M393.5 444h0M394.5 444h0M395 444h0M396 444h0M396.5 444h0M398.5 444h0M399 444h0M401.5 444h0M402.5 444h0M404 444h0M404.5 444h0M405.5 444h0M406 444h0M406.5 444h0M408.5 444h0M409 444h0M411.5 444h0M412 444h0M413 444h0M415.5 444h0M416 444h0M417.5 444h0M418 444h0M418.5 444h0M420 444h0M420.5 444h0M421 444h0M421.5 444h0M422 444h0M428 444h0M428.5 444h0M429.5 444h0M431.5 444h0M432 444h0M433.5 444h0M306.5 444.5h0M307 444.5h0M311.5 444.5h0M312.5 444.5h0M313 444.5h0M313.5 444.5h0M314.5 444.5h0M315 444.5h0M315.5 444.5h0M316.5 444.5h0M319 444.5h0M320 444.5h0M320.5 444.5h0M321.5 444.5h0M322 444.5h0M322.5 444.5h0M323 444.5h0M323.5 444.5h0M324 444.5h0M324.5 444.5h0M325 444.5h0M325.5 444.5h0M326.5 444.5h0M327 444.5h0M327.5 444.5h0M328 444.5h0M330 444.5h0M331 444.5h0M331.5 444.5h0M332 444.5h0M332.5 444.5h0M333.5 444.5h0M334 444.5h0M334.5 444.5h0M336 444.5h0M338.5 444.5h0M341.5 444.5h0M342.5 444.5h0M343.5 444.5h0M344 444.5h0M346 444.5h0M346.5 444.5h0M347 444.5h0M347.5 444.5h0M348 444.5h0M349 444.5h0M350 444.5h0M351 444.5h0M351.5 444.5h0M354.5 444.5h0M356.5 444.5h0M365 444.5h0M381.5 444.5h0M383 444.5h0M384 444.5h0M387.5 444.5h0M390.5 444.5h0M394.5 444.5h0M396 444.5h0M398.5 444.5h0M399 444.5h0M400 444.5h0M400.5 444.5h0M401 444.5h0M402.5 444.5h0M403 444.5h0M404.5 444.5h0M405.5 444.5h0M407 444.5h0M408.5 444.5h0M409 444.5h0M409.5 444.5h0M410.5 444.5h0M411 444.5h0M412.5 444.5h0M413.5 444.5h0M414 444.5h0M414.5 444.5h0M415 444.5h0M416 444.5h0M416.5 444.5h0M417 444.5h0M418 444.5h0M418.5 444.5h0M421 444.5h0M421.5 444.5h0M422 444.5h0M422.5 444.5h0M423 444.5h0M423.5 444.5h0M424 444.5h0M425 444.5h0M426.5 444.5h0M427 444.5h0M427.5 444.5h0M428 444.5h0M428.5 444.5h0M429.5 444.5h0M434.5 444.5h0M437 444.5h0M307 445h0M310 445h0M310.5 445h0M312.5 445h0M314 445h0M315 445h0M316 445h0M316.5 445h0M319 445h0M320 445h0M321.5 445h0M322 445h0M322.5 445h0M323 445h0M323.5 445h0M324 445h0M324.5 445h0M325 445h0M325.5 445h0M327 445h0M328 445h0M328.5 445h0M329 445h0M331 445h0M331.5 445h0M332 445h0M333 445h0M334 445h0M334.5 445h0M335 445h0M336.5 445h0M338 445h0M339 445h0M339.5 445h0M340.5 445h0M341.5 445h0M342 445h0M342.5 445h0M343 445h0M343.5 445h0M344.5 445h0M345 445h0M348.5 445h0M351 445h0M352.5 445h0M353.5 445h0M359 445h0M364.5 445h0M366 445h0M368.5 445h0M372.5 445h0M378.5 445h0M380.5 445h0M385.5 445h0M388 445h0M390 445h0M390.5 445h0M393 445h0M395 445h0M396.5 445h0M397 445h0M397.5 445h0M399 445h0M399.5 445h0M400 445h0M401.5 445h0M402.5 445h0M403 445h0M403.5 445h0M404 445h0M404.5 445h0M405.5 445h0M407 445h0M407.5 445h0M408 445h0M409.5 445h0M410 445h0M410.5 445h0M411 445h0M411.5 445h0M412 445h0M413.5 445h0M414.5 445h0M416.5 445h0M417.5 445h0M418 445h0M419 445h0M419.5 445h0M420 445h0M420.5 445h0M421.5 445h0M423 445h0M423.5 445h0M424.5 445h0M426 445h0M426.5 445h0M427 445h0M428 445h0M430 445h0M433 445h0M435 445h0M436 445h0M437 445h0M439.5 445h0M306.5 445.5h0M309 445.5h0M311 445.5h0M312 445.5h0M313.5 445.5h0M314 445.5h0M314.5 445.5h0M316 445.5h0M316.5 445.5h0M317.5 445.5h0M319.5 445.5h0M320 445.5h0M320.5 445.5h0M321 445.5h0M321.5 445.5h0M322.5 445.5h0M323 445.5h0M324 445.5h0M326.5 445.5h0M327 445.5h0M327.5 445.5h0M328 445.5h0M328.5 445.5h0M329.5 445.5h0M331 445.5h0M332 445.5h0M332.5 445.5h0M333 445.5h0M335 445.5h0M337.5 445.5h0M342 445.5h0M342.5 445.5h0M344.5 445.5h0M345 445.5h0M347 445.5h0M348.5 445.5h0M349 445.5h0M350 445.5h0M350.5 445.5h0M352.5 445.5h0M354 445.5h0M360 445.5h0M366.5 445.5h0M385.5 445.5h0M388 445.5h0M395.5 445.5h0M397.5 445.5h0M398.5 445.5h0M400 445.5h0M400.5 445.5h0M402 445.5h0M403 445.5h0M403.5 445.5h0M404 445.5h0M404.5 445.5h0M405 445.5h0M405.5 445.5h0M406 445.5h0M406.5 445.5h0M407.5 445.5h0M409.5 445.5h0M410 445.5h0M411 445.5h0M414.5 445.5h0M415 445.5h0M415.5 445.5h0M416 445.5h0M416.5 445.5h0M417 445.5h0M419.5 445.5h0M420 445.5h0M420.5 445.5h0M422 445.5h0M422.5 445.5h0M430 445.5h0M432 445.5h0M434 445.5h0M435.5 445.5h0M439 445.5h0M307 446h0M307.5 446h0M309.5 446h0M311.5 446h0M313 446h0M313.5 446h0M314 446h0M314.5 446h0M315 446h0M315.5 446h0M316 446h0M316.5 446h0M318 446h0M318.5 446h0M319.5 446h0M321 446h0M321.5 446h0M322.5 446h0M323 446h0M323.5 446h0M324 446h0M324.5 446h0M325.5 446h0M326 446h0M326.5 446h0M327 446h0M327.5 446h0M328 446h0M328.5 446h0M329 446h0M330 446h0M330.5 446h0M331.5 446h0M332 446h0M332.5 446h0M333 446h0M333.5 446h0M334.5 446h0M335 446h0M335.5 446h0M340 446h0M340.5 446h0M341.5 446h0M344 446h0M347 446h0M347.5 446h0M349 446h0M353.5 446h0M354.5 446h0M356.5 446h0M360.5 446h0M363.5 446h0M374.5 446h0M388.5 446h0M392 446h0M393 446h0M395 446h0M396.5 446h0M397 446h0M397.5 446h0M398.5 446h0M399 446h0M399.5 446h0M401 446h0M401.5 446h0M402 446h0M402.5 446h0M403.5 446h0M404.5 446h0M405.5 446h0M406.5 446h0M407.5 446h0M408.5 446h0M409 446h0M410 446h0M412 446h0M413 446h0M413.5 446h0M414 446h0M414.5 446h0M415 446h0M415.5 446h0M416 446h0M416.5 446h0M417 446h0M418 446h0M419 446h0M419.5 446h0M420.5 446h0M421 446h0M422 446h0M422.5 446h0M423 446h0M423.5 446h0M425.5 446h0M426 446h0M429 446h0M431.5 446h0M309 446.5h0M309.5 446.5h0M310.5 446.5h0M311.5 446.5h0M313.5 446.5h0M314 446.5h0M314.5 446.5h0M315 446.5h0M316 446.5h0M317.5 446.5h0M320.5 446.5h0M321 446.5h0M321.5 446.5h0M322 446.5h0M323.5 446.5h0M324.5 446.5h0M325 446.5h0M325.5 446.5h0M326 446.5h0M326.5 446.5h0M327 446.5h0M328 446.5h0M329 446.5h0M329.5 446.5h0M330 446.5h0M330.5 446.5h0M331 446.5h0M332 446.5h0M332.5 446.5h0M333 446.5h0M333.5 446.5h0M334 446.5h0M334.5 446.5h0M335 446.5h0M335.5 446.5h0M336.5 446.5h0M339.5 446.5h0M340 446.5h0M341 446.5h0M341.5 446.5h0M344.5 446.5h0M350 446.5h0M351.5 446.5h0M372.5 446.5h0M374 446.5h0M386.5 446.5h0M397.5 446.5h0M399.5 446.5h0M400 446.5h0M402 446.5h0M403 446.5h0M403.5 446.5h0M404.5 446.5h0M405.5 446.5h0M406 446.5h0M406.5 446.5h0M407.5 446.5h0M408 446.5h0M408.5 446.5h0M409 446.5h0M409.5 446.5h0M410 446.5h0M412 446.5h0M413 446.5h0M413.5 446.5h0M415 446.5h0M416 446.5h0M416.5 446.5h0M417 446.5h0M417.5 446.5h0M418 446.5h0M418.5 446.5h0M419 446.5h0M419.5 446.5h0M420 446.5h0M420.5 446.5h0M421 446.5h0M421.5 446.5h0M422 446.5h0M425 446.5h0M427 446.5h0M306.5 447h0M307.5 447h0M309.5 447h0M310.5 447h0M311 447h0M311.5 447h0M312 447h0M314 447h0M315 447h0M316.5 447h0M317 447h0M318 447h0M318.5 447h0M319 447h0M319.5 447h0M320 447h0M321.5 447h0M323 447h0M323.5 447h0M324.5 447h0M325 447h0M326 447h0M326.5 447h0M327 447h0M328 447h0M329 447h0M331 447h0M332 447h0M333 447h0M333.5 447h0M334.5 447h0M335.5 447h0M337.5 447h0M338 447h0M338.5 447h0M339.5 447h0M340 447h0M341.5 447h0M343 447h0M344 447h0M344.5 447h0M345 447h0M349.5 447h0M350 447h0M351.5 447h0M352.5 447h0M357 447h0M360.5 447h0M363.5 447h0M381 447h0M393.5 447h0M395.5 447h0M397 447h0M398 447h0M399.5 447h0M401 447h0M401.5 447h0M402 447h0M402.5 447h0M403 447h0M404 447h0M405.5 447h0M406 447h0M406.5 447h0M407 447h0M407.5 447h0M408 447h0M408.5 447h0M409 447h0M409.5 447h0M410 447h0M411 447h0M411.5 447h0M412 447h0M412.5 447h0M413 447h0M413.5 447h0M414 447h0M415 447h0M417 447h0M417.5 447h0M418 447h0M420.5 447h0M421 447h0M421.5 447h0M422 447h0M423 447h0M423.5 447h0M425 447h0M425.5 447h0M426.5 447h0M427.5 447h0M428.5 447h0M430 447h0M431 447h0M433.5 447h0M309.5 447.5h0M310 447.5h0M312 447.5h0M313 447.5h0M314.5 447.5h0M316 447.5h0M319 447.5h0M319.5 447.5h0M320 447.5h0M320.5 447.5h0M321 447.5h0M321.5 447.5h0M322.5 447.5h0M323.5 447.5h0M324 447.5h0M325 447.5h0M326 447.5h0M326.5 447.5h0M328 447.5h0M328.5 447.5h0M329 447.5h0M329.5 447.5h0M330 447.5h0M330.5 447.5h0M331 447.5h0M331.5 447.5h0M332 447.5h0M332.5 447.5h0M333 447.5h0M334.5 447.5h0M335 447.5h0M335.5 447.5h0M336 447.5h0M336.5 447.5h0M337.5 447.5h0M338 447.5h0M339 447.5h0M339.5 447.5h0M342 447.5h0M342.5 447.5h0M343 447.5h0M344.5 447.5h0M346.5 447.5h0M349.5 447.5h0M356.5 447.5h0M362 447.5h0M366 447.5h0M367.5 447.5h0M386 447.5h0M390.5 447.5h0M391 447.5h0M394.5 447.5h0M396.5 447.5h0M397 447.5h0M400 447.5h0M400.5 447.5h0M401.5 447.5h0M402 447.5h0M402.5 447.5h0M403 447.5h0M404 447.5h0M405 447.5h0M406 447.5h0M406.5 447.5h0M407 447.5h0M407.5 447.5h0M408 447.5h0M408.5 447.5h0M409 447.5h0M409.5 447.5h0M410 447.5h0M410.5 447.5h0M411 447.5h0M411.5 447.5h0M412 447.5h0M412.5 447.5h0M413 447.5h0M413.5 447.5h0M414 447.5h0M414.5 447.5h0M415 447.5h0M417 447.5h0M418 447.5h0M418.5 447.5h0M419 447.5h0M419.5 447.5h0M420 447.5h0M420.5 447.5h0M423 447.5h0M423.5 447.5h0M424.5 447.5h0M425 447.5h0M427 447.5h0M430 447.5h0M432 447.5h0M433 447.5h0M433.5 447.5h0M309 448h0M309.5 448h0M311 448h0M312.5 448h0M315 448h0M316.5 448h0M317 448h0M319.5 448h0M320 448h0M320.5 448h0M321 448h0M321.5 448h0M322.5 448h0M323.5 448h0M324 448h0M327.5 448h0M328.5 448h0M329.5 448h0M330.5 448h0M331 448h0M331.5 448h0M333 448h0M333.5 448h0M334 448h0M335 448h0M335.5 448h0M336 448h0M336.5 448h0M338.5 448h0M339 448h0M340 448h0M342.5 448h0M343.5 448h0M345 448h0M346 448h0M349 448h0M349.5 448h0M351 448h0M351.5 448h0M355.5 448h0M356 448h0M356.5 448h0M369 448h0M375 448h0M385.5 448h0M387 448h0M388.5 448h0M393.5 448h0M395 448h0M395.5 448h0M396.5 448h0M399 448h0M400 448h0M400.5 448h0M401.5 448h0M402 448h0M402.5 448h0M403 448h0M404 448h0M405 448h0M405.5 448h0M406 448h0M406.5 448h0M407 448h0M408.5 448h0M409.5 448h0M410 448h0M410.5 448h0M411 448h0M411.5 448h0M412 448h0M413 448h0M413.5 448h0M414.5 448h0M415 448h0M415.5 448h0M416.5 448h0M417 448h0M417.5 448h0M418.5 448h0M420.5 448h0M422 448h0M422.5 448h0M423 448h0M423.5 448h0M424.5 448h0M426 448h0M432 448h0M307 448.5h0M308.5 448.5h0M309 448.5h0M309.5 448.5h0M311.5 448.5h0M312 448.5h0M313 448.5h0M314.5 448.5h0M315.5 448.5h0M316.5 448.5h0M317 448.5h0M317.5 448.5h0M318.5 448.5h0M319.5 448.5h0M320 448.5h0M320.5 448.5h0M321 448.5h0M322.5 448.5h0M323.5 448.5h0M324.5 448.5h0M325 448.5h0M325.5 448.5h0M327 448.5h0M327.5 448.5h0M328.5 448.5h0M329 448.5h0M329.5 448.5h0M330 448.5h0M331 448.5h0M331.5 448.5h0M332 448.5h0M334.5 448.5h0M335 448.5h0M336 448.5h0M337 448.5h0M337.5 448.5h0M338 448.5h0M339.5 448.5h0M340 448.5h0M341.5 448.5h0M342 448.5h0M342.5 448.5h0M343 448.5h0M344 448.5h0M345 448.5h0M346 448.5h0M346.5 448.5h0M347.5 448.5h0M348.5 448.5h0M349.5 448.5h0M353 448.5h0M357 448.5h0M363 448.5h0M373.5 448.5h0M376.5 448.5h0M378.5 448.5h0M381 448.5h0M391 448.5h0M394 448.5h0M394.5 448.5h0M396 448.5h0M397.5 448.5h0M398 448.5h0M398.5 448.5h0M399.5 448.5h0M401 448.5h0M402.5 448.5h0M403.5 448.5h0M404.5 448.5h0M405 448.5h0M405.5 448.5h0M406 448.5h0M406.5 448.5h0M407 448.5h0M408 448.5h0M408.5 448.5h0M409 448.5h0M409.5 448.5h0M410 448.5h0M411 448.5h0M414.5 448.5h0M415 448.5h0M415.5 448.5h0M416 448.5h0M417 448.5h0M417.5 448.5h0M418.5 448.5h0M419 448.5h0M419.5 448.5h0M420.5 448.5h0M421 448.5h0M421.5 448.5h0M422 448.5h0M423 448.5h0M423.5 448.5h0M427 448.5h0M427.5 448.5h0M433 448.5h0M436.5 448.5h0M308 449h0M309 449h0M313 449h0M313.5 449h0M314 449h0M316.5 449h0M317.5 449h0M318 449h0M319.5 449h0M322.5 449h0M323 449h0M323.5 449h0M324 449h0M324.5 449h0M325.5 449h0M326 449h0M326.5 449h0M327.5 449h0M328.5 449h0M329 449h0M329.5 449h0M330.5 449h0M332 449h0M333.5 449h0M334 449h0M334.5 449h0M336 449h0M336.5 449h0M338 449h0M338.5 449h0M339 449h0M340 449h0M342 449h0M343 449h0M344 449h0M344.5 449h0M345 449h0M346.5 449h0M347.5 449h0M350 449h0M354.5 449h0M360.5 449h0M364 449h0M380 449h0M394.5 449h0M395 449h0M397.5 449h0M400 449h0M400.5 449h0M401.5 449h0M402 449h0M403.5 449h0M404.5 449h0M405 449h0M405.5 449h0M406 449h0M406.5 449h0M407.5 449h0M408.5 449h0M409 449h0M409.5 449h0M410 449h0M410.5 449h0M411 449h0M411.5 449h0M412 449h0M413 449h0M413.5 449h0M414 449h0M414.5 449h0M415 449h0M415.5 449h0M416 449h0M417 449h0M417.5 449h0M418 449h0M418.5 449h0M419.5 449h0M421.5 449h0M423.5 449h0M424 449h0M424.5 449h0M425.5 449h0M426.5 449h0M427.5 449h0M428 449h0M429 449h0M431 449h0M432.5 449h0M433 449h0M308.5 449.5h0M309.5 449.5h0M310 449.5h0M310.5 449.5h0M311 449.5h0M312.5 449.5h0M314 449.5h0M314.5 449.5h0M315 449.5h0M315.5 449.5h0M318 449.5h0M319 449.5h0M319.5 449.5h0M320 449.5h0M321 449.5h0M321.5 449.5h0M322 449.5h0M323 449.5h0M323.5 449.5h0M325 449.5h0M325.5 449.5h0M326 449.5h0M326.5 449.5h0M327 449.5h0M327.5 449.5h0M329 449.5h0M330 449.5h0M330.5 449.5h0M332 449.5h0M332.5 449.5h0M333.5 449.5h0M334.5 449.5h0M335 449.5h0M337 449.5h0M338.5 449.5h0M340 449.5h0M341 449.5h0M342.5 449.5h0M344 449.5h0M346.5 449.5h0M347 449.5h0M349.5 449.5h0M352 449.5h0M353.5 449.5h0M391.5 449.5h0M393 449.5h0M394 449.5h0M395.5 449.5h0M396 449.5h0M396.5 449.5h0M397 449.5h0M399.5 449.5h0M400 449.5h0M400.5 449.5h0M401.5 449.5h0M402.5 449.5h0M403.5 449.5h0M404 449.5h0M404.5 449.5h0M405 449.5h0M405.5 449.5h0M406 449.5h0M407.5 449.5h0M408 449.5h0M408.5 449.5h0M409 449.5h0M411.5 449.5h0M412 449.5h0M412.5 449.5h0M413 449.5h0M413.5 449.5h0M414 449.5h0M414.5 449.5h0M415 449.5h0M415.5 449.5h0M416 449.5h0M417 449.5h0M419.5 449.5h0M420 449.5h0M420.5 449.5h0M422.5 449.5h0M424 449.5h0M424.5 449.5h0M426 449.5h0M426.5 449.5h0M428.5 449.5h0M430 449.5h0M430.5 449.5h0M432 449.5h0M432.5 449.5h0M433 449.5h0M306.5 450h0M309 450h0M309.5 450h0M312.5 450h0M313.5 450h0M315 450h0M315.5 450h0M316.5 450h0M317.5 450h0M319.5 450h0M320 450h0M320.5 450h0M321.5 450h0M323 450h0M323.5 450h0M324.5 450h0M325 450h0M325.5 450h0M326 450h0M327 450h0M328 450h0M328.5 450h0M329 450h0M330 450h0M331.5 450h0M333 450h0M334.5 450h0M335 450h0M335.5 450h0M337 450h0M339 450h0M339.5 450h0M341.5 450h0M343 450h0M344 450h0M344.5 450h0M345.5 450h0M346 450h0M347.5 450h0M348.5 450h0M349.5 450h0M350 450h0M352 450h0M358.5 450h0M362 450h0M373 450h0M378 450h0M381 450h0M389.5 450h0M394 450h0M394.5 450h0M400 450h0M401 450h0M401.5 450h0M402 450h0M403 450h0M403.5 450h0M404.5 450h0M405 450h0M407 450h0M407.5 450h0M409 450h0M410.5 450h0M411 450h0M411.5 450h0M412 450h0M412.5 450h0M413 450h0M413.5 450h0M414 450h0M414.5 450h0M415 450h0M415.5 450h0M417.5 450h0M419 450h0M419.5 450h0M420.5 450h0M422.5 450h0M423 450h0M424.5 450h0M425.5 450h0M428 450h0M430.5 450h0M439.5 450h0M307.5 450.5h0M308 450.5h0M310.5 450.5h0M312 450.5h0M312.5 450.5h0M313 450.5h0M314 450.5h0M314.5 450.5h0M316.5 450.5h0M317 450.5h0M318 450.5h0M321 450.5h0M321.5 450.5h0M322 450.5h0M322.5 450.5h0M323.5 450.5h0M324 450.5h0M324.5 450.5h0M325 450.5h0M326 450.5h0M326.5 450.5h0M327.5 450.5h0M328 450.5h0M328.5 450.5h0M329 450.5h0M329.5 450.5h0M330 450.5h0M331.5 450.5h0M332 450.5h0M332.5 450.5h0M333 450.5h0M334 450.5h0M334.5 450.5h0M335 450.5h0M335.5 450.5h0M336 450.5h0M336.5 450.5h0M337 450.5h0M337.5 450.5h0M339 450.5h0M340 450.5h0M340.5 450.5h0M341 450.5h0M341.5 450.5h0M342.5 450.5h0M343 450.5h0M345.5 450.5h0M346 450.5h0M346.5 450.5h0M347 450.5h0M352 450.5h0M353 450.5h0M356 450.5h0M362 450.5h0M367 450.5h0M384.5 450.5h0M386 450.5h0M386.5 450.5h0M388 450.5h0M388.5 450.5h0M391 450.5h0M395 450.5h0M395.5 450.5h0M396.5 450.5h0M397.5 450.5h0M398 450.5h0M398.5 450.5h0M400 450.5h0M400.5 450.5h0M401 450.5h0M402 450.5h0M402.5 450.5h0M404.5 450.5h0M407.5 450.5h0M408 450.5h0M408.5 450.5h0M409 450.5h0M409.5 450.5h0M410 450.5h0M411 450.5h0M411.5 450.5h0M412 450.5h0M412.5 450.5h0M413.5 450.5h0M416 450.5h0M416.5 450.5h0M417 450.5h0M418.5 450.5h0M419.5 450.5h0M420 450.5h0M421 450.5h0M422 450.5h0M423 450.5h0M423.5 450.5h0M424 450.5h0M425 450.5h0M426.5 450.5h0M427 450.5h0M429.5 450.5h0M434 450.5h0M436.5 450.5h0M439 450.5h0M308.5 451h0M310 451h0M312.5 451h0M313.5 451h0M314 451h0M314.5 451h0M315 451h0M316.5 451h0M318 451h0M318.5 451h0M319 451h0M319.5 451h0M321 451h0M321.5 451h0M322 451h0M322.5 451h0M323.5 451h0M324 451h0M325 451h0M325.5 451h0M326 451h0M326.5 451h0M327 451h0M328.5 451h0M329 451h0M329.5 451h0M330 451h0M332 451h0M333 451h0M336 451h0M336.5 451h0M337 451h0M337.5 451h0M338.5 451h0M339 451h0M339.5 451h0M341.5 451h0M342 451h0M343 451h0M343.5 451h0M344.5 451h0M346.5 451h0M347 451h0M347.5 451h0M348.5 451h0M349 451h0M357 451h0M360 451h0M370.5 451h0M380 451h0M381.5 451h0M390 451h0M391 451h0M391.5 451h0M392.5 451h0M396 451h0M397 451h0M399 451h0M400.5 451h0M403.5 451h0M404 451h0M406.5 451h0M408 451h0M409 451h0M410 451h0M410.5 451h0M411 451h0M412.5 451h0M413 451h0M414.5 451h0M415 451h0M416 451h0M417 451h0M417.5 451h0M418 451h0M419 451h0M420 451h0M422.5 451h0M423.5 451h0M425.5 451h0M429.5 451h0M430 451h0M431 451h0M438.5 451h0M307 451.5h0M308 451.5h0M309 451.5h0M310.5 451.5h0M311.5 451.5h0M312 451.5h0M313.5 451.5h0M314 451.5h0M315 451.5h0M315.5 451.5h0M316 451.5h0M316.5 451.5h0M317.5 451.5h0M318.5 451.5h0M319 451.5h0M320 451.5h0M320.5 451.5h0M321 451.5h0M322.5 451.5h0M323 451.5h0M323.5 451.5h0M324 451.5h0M325 451.5h0M326.5 451.5h0M327 451.5h0M327.5 451.5h0M328 451.5h0M329 451.5h0M329.5 451.5h0M330 451.5h0M330.5 451.5h0M332 451.5h0M332.5 451.5h0M333 451.5h0M334 451.5h0M334.5 451.5h0M335.5 451.5h0M336.5 451.5h0M337 451.5h0M337.5 451.5h0M339 451.5h0M340.5 451.5h0M341 451.5h0M342 451.5h0M343 451.5h0M345 451.5h0M346 451.5h0M347.5 451.5h0M349 451.5h0M350.5 451.5h0M352.5 451.5h0M355.5 451.5h0M359.5 451.5h0M364 451.5h0M369.5 451.5h0M373.5 451.5h0M383.5 451.5h0M386.5 451.5h0M390 451.5h0M391.5 451.5h0M395 451.5h0M397 451.5h0M398 451.5h0M401.5 451.5h0M403 451.5h0M403.5 451.5h0M404 451.5h0M405 451.5h0M405.5 451.5h0M406 451.5h0M406.5 451.5h0M407 451.5h0M408 451.5h0M408.5 451.5h0M409 451.5h0M409.5 451.5h0M411.5 451.5h0M413 451.5h0M413.5 451.5h0M414.5 451.5h0M416 451.5h0M417 451.5h0M419 451.5h0M420.5 451.5h0M421 451.5h0M422.5 451.5h0M423 451.5h0M424.5 451.5h0M425.5 451.5h0M426.5 451.5h0M427 451.5h0M428 451.5h0M428.5 451.5h0M432.5 451.5h0M433 451.5h0M311 452h0M311.5 452h0M312 452h0M312.5 452h0M313.5 452h0M314.5 452h0M315 452h0M315.5 452h0M316 452h0M316.5 452h0M317 452h0M319 452h0M320.5 452h0M321 452h0M321.5 452h0M322.5 452h0M323.5 452h0M324 452h0M324.5 452h0M325 452h0M325.5 452h0M326 452h0M327 452h0M327.5 452h0M328 452h0M328.5 452h0M329 452h0M330 452h0M330.5 452h0M331 452h0M331.5 452h0M332.5 452h0M333 452h0M334.5 452h0M335 452h0M337 452h0M337.5 452h0M338 452h0M339.5 452h0M340 452h0M342 452h0M342.5 452h0M343 452h0M343.5 452h0M345 452h0M345.5 452h0M346.5 452h0M352.5 452h0M358.5 452h0M363 452h0M368.5 452h0M371 452h0M383.5 452h0M393.5 452h0M394.5 452h0M398 452h0M399 452h0M399.5 452h0M400 452h0M401 452h0M401.5 452h0M402.5 452h0M403 452h0M403.5 452h0M404.5 452h0M405 452h0M405.5 452h0M406 452h0M406.5 452h0M408 452h0M408.5 452h0M409.5 452h0M410 452h0M410.5 452h0M411 452h0M411.5 452h0M412 452h0M412.5 452h0M413 452h0M413.5 452h0M414 452h0M414.5 452h0M415.5 452h0M416 452h0M416.5 452h0M418 452h0M418.5 452h0M419.5 452h0M420 452h0M421 452h0M421.5 452h0M422.5 452h0M423 452h0M424 452h0M425 452h0M425.5 452h0M426 452h0M427.5 452h0M430 452h0M431 452h0M431.5 452h0M436 452h0M307.5 452.5h0M311 452.5h0M312 452.5h0M313 452.5h0M314 452.5h0M314.5 452.5h0M315 452.5h0M317.5 452.5h0M319 452.5h0M320.5 452.5h0M321 452.5h0M321.5 452.5h0M322 452.5h0M323 452.5h0M324 452.5h0M324.5 452.5h0M326 452.5h0M326.5 452.5h0M327.5 452.5h0M328 452.5h0M328.5 452.5h0M329.5 452.5h0M330 452.5h0M331 452.5h0M332 452.5h0M332.5 452.5h0M333.5 452.5h0M334 452.5h0M335.5 452.5h0M336 452.5h0M337.5 452.5h0M339 452.5h0M340.5 452.5h0M342.5 452.5h0M344 452.5h0M346 452.5h0M347 452.5h0M348.5 452.5h0M350.5 452.5h0M352.5 452.5h0M353.5 452.5h0M356 452.5h0M356.5 452.5h0M362.5 452.5h0M363 452.5h0M372.5 452.5h0M377.5 452.5h0M382.5 452.5h0M387.5 452.5h0M394.5 452.5h0M395 452.5h0M400.5 452.5h0M401 452.5h0M403 452.5h0M403.5 452.5h0M404 452.5h0M404.5 452.5h0M405 452.5h0M406.5 452.5h0M407 452.5h0M407.5 452.5h0M408.5 452.5h0M409.5 452.5h0M410 452.5h0M410.5 452.5h0M411.5 452.5h0M412 452.5h0M414 452.5h0M415 452.5h0M417.5 452.5h0M420.5 452.5h0M421 452.5h0M422 452.5h0M422.5 452.5h0M424 452.5h0M425.5 452.5h0M426.5 452.5h0M430 452.5h0M430.5 452.5h0M431.5 452.5h0M432 452.5h0M435.5 452.5h0M436 452.5h0M306.5 453h0M311 453h0M311.5 453h0M314 453h0M314.5 453h0M315.5 453h0M316.5 453h0M317 453h0M319 453h0M319.5 453h0M320 453h0M320.5 453h0M321.5 453h0M324.5 453h0M325 453h0M327.5 453h0M328 453h0M328.5 453h0M329.5 453h0M330 453h0M331.5 453h0M332 453h0M332.5 453h0M333 453h0M333.5 453h0M335 453h0M335.5 453h0M336 453h0M339 453h0M340 453h0M340.5 453h0M341 453h0M341.5 453h0M342.5 453h0M343.5 453h0M350 453h0M353.5 453h0M356.5 453h0M361.5 453h0M372.5 453h0M388.5 453h0M389 453h0M396 453h0M399 453h0M400.5 453h0M402.5 453h0M403 453h0M403.5 453h0M404 453h0M404.5 453h0M405.5 453h0M406 453h0M406.5 453h0M408 453h0M409 453h0M410 453h0M414 453h0M414.5 453h0M415.5 453h0M416 453h0M417.5 453h0M418 453h0M418.5 453h0M419 453h0M419.5 453h0M420 453h0M421.5 453h0M422.5 453h0M423.5 453h0M424 453h0M425.5 453h0M428 453h0M428.5 453h0M430 453h0M430.5 453h0M308 453.5h0M309.5 453.5h0M310.5 453.5h0M312 453.5h0M315 453.5h0M316 453.5h0M316.5 453.5h0M317.5 453.5h0M318.5 453.5h0M320.5 453.5h0M322.5 453.5h0M324.5 453.5h0M325.5 453.5h0M326 453.5h0M326.5 453.5h0M327.5 453.5h0M328.5 453.5h0M329 453.5h0M329.5 453.5h0M331.5 453.5h0M332 453.5h0M335 453.5h0M335.5 453.5h0M336 453.5h0M336.5 453.5h0M337 453.5h0M337.5 453.5h0M338.5 453.5h0M339 453.5h0M339.5 453.5h0M340 453.5h0M342.5 453.5h0M344 453.5h0M344.5 453.5h0M345 453.5h0M347 453.5h0M348.5 453.5h0M349 453.5h0M354 453.5h0M361 453.5h0M362 453.5h0M363 453.5h0M386.5 453.5h0M388.5 453.5h0M389.5 453.5h0M393 453.5h0M394 453.5h0M397.5 453.5h0M399 453.5h0M400 453.5h0M401 453.5h0M401.5 453.5h0M402.5 453.5h0M403.5 453.5h0M404.5 453.5h0M405 453.5h0M405.5 453.5h0M407.5 453.5h0M408.5 453.5h0M409 453.5h0M409.5 453.5h0M410 453.5h0M410.5 453.5h0M411 453.5h0M411.5 453.5h0M415 453.5h0M415.5 453.5h0M416.5 453.5h0M417 453.5h0M418.5 453.5h0M419 453.5h0M419.5 453.5h0M420 453.5h0M421 453.5h0M422 453.5h0M422.5 453.5h0M423.5 453.5h0M424.5 453.5h0M427 453.5h0M429 453.5h0M433 453.5h0M434 453.5h0M437 453.5h0M309.5 454h0M310 454h0M311.5 454h0M312 454h0M313.5 454h0M315 454h0M316.5 454h0M317 454h0M318 454h0M318.5 454h0M319 454h0M319.5 454h0M321 454h0M322.5 454h0M323 454h0M323.5 454h0M324.5 454h0M325 454h0M328 454h0M329 454h0M329.5 454h0M330 454h0M330.5 454h0M331 454h0M331.5 454h0M332 454h0M332.5 454h0M333 454h0M335 454h0M336 454h0M336.5 454h0M337 454h0M338.5 454h0M339.5 454h0M340.5 454h0M341.5 454h0M342.5 454h0M345 454h0M349 454h0M350 454h0M351 454h0M352 454h0M361 454h0M377.5 454h0M381.5 454h0M382 454h0M395 454h0M397.5 454h0M399 454h0M400.5 454h0M401.5 454h0M402.5 454h0M405 454h0M406 454h0M407 454h0M407.5 454h0M408 454h0M408.5 454h0M409 454h0M409.5 454h0M410 454h0M410.5 454h0M411.5 454h0M412 454h0M412.5 454h0M414 454h0M415 454h0M415.5 454h0M416.5 454h0M417 454h0M417.5 454h0M418.5 454h0M419 454h0M419.5 454h0M421 454h0M421.5 454h0M422 454h0M422.5 454h0M423.5 454h0M424 454h0M424.5 454h0M426.5 454h0M427.5 454h0M429 454h0M432.5 454h0M439.5 454h0M306.5 454.5h0M307.5 454.5h0M308.5 454.5h0M309 454.5h0M309.5 454.5h0M310 454.5h0M310.5 454.5h0M311 454.5h0M315 454.5h0M315.5 454.5h0M316 454.5h0M316.5 454.5h0M317 454.5h0M317.5 454.5h0M319 454.5h0M319.5 454.5h0M320 454.5h0M320.5 454.5h0M321.5 454.5h0M322.5 454.5h0M323.5 454.5h0M324 454.5h0M325 454.5h0M326 454.5h0M327 454.5h0M328 454.5h0M328.5 454.5h0M330 454.5h0M330.5 454.5h0M331 454.5h0M331.5 454.5h0M332 454.5h0M332.5 454.5h0M334 454.5h0M335 454.5h0M335.5 454.5h0M336.5 454.5h0M337 454.5h0M337.5 454.5h0M338 454.5h0M339 454.5h0M339.5 454.5h0M341 454.5h0M341.5 454.5h0M342.5 454.5h0M343 454.5h0M344 454.5h0M345.5 454.5h0M346 454.5h0M347 454.5h0M348 454.5h0M349 454.5h0M353 454.5h0M361.5 454.5h0M370.5 454.5h0M385 454.5h0M396 454.5h0M397.5 454.5h0M399.5 454.5h0M401 454.5h0M401.5 454.5h0M403 454.5h0M405 454.5h0M405.5 454.5h0M406 454.5h0M406.5 454.5h0M407 454.5h0M410 454.5h0M410.5 454.5h0M411.5 454.5h0M412 454.5h0M413 454.5h0M414 454.5h0M414.5 454.5h0M415 454.5h0M415.5 454.5h0M417.5 454.5h0M418 454.5h0M419 454.5h0M420 454.5h0M423 454.5h0M425 454.5h0M425.5 454.5h0M435 454.5h0M309 455h0M312 455h0M312.5 455h0M313 455h0M313.5 455h0M314.5 455h0M315 455h0M318 455h0M318.5 455h0M319.5 455h0M320 455h0M321.5 455h0M322 455h0M323 455h0M324 455h0M324.5 455h0M325 455h0M325.5 455h0M326 455h0M327 455h0M327.5 455h0M328 455h0M328.5 455h0M329 455h0M329.5 455h0M330 455h0M331 455h0M332.5 455h0M333 455h0M333.5 455h0M334 455h0M334.5 455h0M335.5 455h0M336.5 455h0M337 455h0M337.5 455h0M339 455h0M339.5 455h0M340 455h0M340.5 455h0M341.5 455h0M343 455h0M343.5 455h0M344 455h0M345 455h0M347 455h0M349.5 455h0M358.5 455h0M362.5 455h0M366 455h0M372.5 455h0M379.5 455h0M384.5 455h0M387 455h0M391.5 455h0M394 455h0M395.5 455h0M397.5 455h0M399 455h0M400 455h0M402.5 455h0M403 455h0M403.5 455h0M404.5 455h0M405 455h0M406.5 455h0M407 455h0M407.5 455h0M409 455h0M409.5 455h0M410.5 455h0M411 455h0M412.5 455h0M413 455h0M413.5 455h0M414 455h0M415.5 455h0M416.5 455h0M419 455h0M419.5 455h0M420 455h0M421 455h0M421.5 455h0M422.5 455h0M423 455h0M424 455h0M424.5 455h0M425.5 455h0M427.5 455h0M428 455h0M313.5 455.5h0M315.5 455.5h0M316.5 455.5h0M317 455.5h0M318 455.5h0M320 455.5h0M320.5 455.5h0M322 455.5h0M323.5 455.5h0M324 455.5h0M324.5 455.5h0M325 455.5h0M325.5 455.5h0M326 455.5h0M326.5 455.5h0M327.5 455.5h0M328 455.5h0M329 455.5h0M329.5 455.5h0M330.5 455.5h0M331 455.5h0M331.5 455.5h0M332 455.5h0M332.5 455.5h0M333.5 455.5h0M335 455.5h0M335.5 455.5h0M336 455.5h0M336.5 455.5h0M339 455.5h0M340.5 455.5h0M341 455.5h0M341.5 455.5h0M343 455.5h0M343.5 455.5h0M345.5 455.5h0M348.5 455.5h0M351.5 455.5h0M352 455.5h0M356 455.5h0M360 455.5h0M360.5 455.5h0M386 455.5h0M387 455.5h0M388 455.5h0M391 455.5h0M394.5 455.5h0M396 455.5h0M397.5 455.5h0M399 455.5h0M399.5 455.5h0M400 455.5h0M404.5 455.5h0M405 455.5h0M406.5 455.5h0M408 455.5h0M408.5 455.5h0M409.5 455.5h0M410.5 455.5h0M411.5 455.5h0M412 455.5h0M412.5 455.5h0M413 455.5h0M413.5 455.5h0M414 455.5h0M414.5 455.5h0M415.5 455.5h0M416 455.5h0M417 455.5h0M417.5 455.5h0M419 455.5h0M420 455.5h0M421 455.5h0M422.5 455.5h0M423 455.5h0M423.5 455.5h0M424.5 455.5h0M425.5 455.5h0M426.5 455.5h0M427.5 455.5h0M429 455.5h0M430 455.5h0M431.5 455.5h0M307.5 456h0M311.5 456h0M312 456h0M313 456h0M313.5 456h0M316 456h0M317 456h0M317.5 456h0M318 456h0M318.5 456h0M319 456h0M319.5 456h0M321 456h0M322 456h0M322.5 456h0M323.5 456h0M324 456h0M324.5 456h0M325.5 456h0M326.5 456h0M327.5 456h0M328 456h0M328.5 456h0M329.5 456h0M330 456h0M330.5 456h0M331.5 456h0M332 456h0M333 456h0M334 456h0M339.5 456h0M340 456h0M340.5 456h0M343 456h0M343.5 456h0M345 456h0M346 456h0M353 456h0M357.5 456h0M374 456h0M376.5 456h0M377.5 456h0M379 456h0M386 456h0M394.5 456h0M395.5 456h0M398.5 456h0M399 456h0M399.5 456h0M400 456h0M401.5 456h0M402.5 456h0M403.5 456h0M404 456h0M404.5 456h0M405 456h0M405.5 456h0M409.5 456h0M410.5 456h0M411.5 456h0M412 456h0M412.5 456h0M413 456h0M413.5 456h0M414 456h0M415.5 456h0M416 456h0M416.5 456h0M417.5 456h0M418.5 456h0M420 456h0M422 456h0M424.5 456h0M306.5 456.5h0M309.5 456.5h0M310 456.5h0M311.5 456.5h0M313 456.5h0M315 456.5h0M315.5 456.5h0M316.5 456.5h0M318 456.5h0M319.5 456.5h0M320.5 456.5h0M321.5 456.5h0M324 456.5h0M324.5 456.5h0M326 456.5h0M329 456.5h0M332.5 456.5h0M333 456.5h0M333.5 456.5h0M337.5 456.5h0M338.5 456.5h0M339 456.5h0M340.5 456.5h0M341 456.5h0M342.5 456.5h0M343 456.5h0M344 456.5h0M346 456.5h0M348 456.5h0M349 456.5h0M350 456.5h0M350.5 456.5h0M351.5 456.5h0M355 456.5h0M358.5 456.5h0M359.5 456.5h0M365.5 456.5h0M366.5 456.5h0M371 456.5h0M375 456.5h0M382 456.5h0M384 456.5h0M386.5 456.5h0M393 456.5h0M395 456.5h0M395.5 456.5h0M396.5 456.5h0M397 456.5h0M399 456.5h0M400 456.5h0M401.5 456.5h0M403 456.5h0M403.5 456.5h0M405 456.5h0M405.5 456.5h0M406 456.5h0M407 456.5h0M408 456.5h0M409 456.5h0M410 456.5h0M410.5 456.5h0M411 456.5h0M413 456.5h0M414.5 456.5h0M415 456.5h0M415.5 456.5h0M417 456.5h0M417.5 456.5h0M418 456.5h0M418.5 456.5h0M419 456.5h0M419.5 456.5h0M420.5 456.5h0M421.5 456.5h0M422 456.5h0M422.5 456.5h0M423 456.5h0M426 456.5h0M430 456.5h0M433.5 456.5h0M454.5 456.5h0M307.5 457h0M308 457h0M308.5 457h0M311 457h0M312.5 457h0M313 457h0M319 457h0M319.5 457h0M320 457h0M321 457h0M321.5 457h0M322 457h0M322.5 457h0M323 457h0M323.5 457h0M324.5 457h0M325.5 457h0M326 457h0M326.5 457h0M327 457h0M328.5 457h0M329 457h0M329.5 457h0M330.5 457h0M332 457h0M333 457h0M334 457h0M334.5 457h0M335 457h0M337 457h0M337.5 457h0M339.5 457h0M340 457h0M341 457h0M341.5 457h0M343.5 457h0M346.5 457h0M347 457h0M347.5 457h0M348.5 457h0M350 457h0M350.5 457h0M366 457h0M382.5 457h0M390 457h0M391 457h0M394 457h0M395.5 457h0M399 457h0M401 457h0M403 457h0M403.5 457h0M405 457h0M405.5 457h0M406.5 457h0M407 457h0M407.5 457h0M409 457h0M409.5 457h0M410 457h0M410.5 457h0M411 457h0M412 457h0M412.5 457h0M413 457h0M413.5 457h0M414 457h0M414.5 457h0M415 457h0M415.5 457h0M416 457h0M416.5 457h0M418.5 457h0M419 457h0M420 457h0M420.5 457h0M421 457h0M422 457h0M422.5 457h0M425 457h0M427 457h0M427.5 457h0M428.5 457h0M429 457h0M431 457h0M309.5 457.5h0M310 457.5h0M312 457.5h0M313.5 457.5h0M314 457.5h0M315 457.5h0M315.5 457.5h0M316.5 457.5h0M317 457.5h0M318 457.5h0M318.5 457.5h0M320 457.5h0M321 457.5h0M321.5 457.5h0M323.5 457.5h0M324 457.5h0M325 457.5h0M325.5 457.5h0M327 457.5h0M328 457.5h0M328.5 457.5h0M331.5 457.5h0M334 457.5h0M334.5 457.5h0M335.5 457.5h0M336 457.5h0M337 457.5h0M337.5 457.5h0M338.5 457.5h0M339 457.5h0M339.5 457.5h0M341 457.5h0M341.5 457.5h0M342.5 457.5h0M343 457.5h0M344.5 457.5h0M345 457.5h0M347.5 457.5h0M350 457.5h0M351 457.5h0M353.5 457.5h0M354.5 457.5h0M357.5 457.5h0M385 457.5h0M386 457.5h0M392.5 457.5h0M393.5 457.5h0M395 457.5h0M396 457.5h0M397 457.5h0M398.5 457.5h0M401 457.5h0M402 457.5h0M403.5 457.5h0M404.5 457.5h0M405.5 457.5h0M406.5 457.5h0M407.5 457.5h0M408 457.5h0M409 457.5h0M409.5 457.5h0M410 457.5h0M410.5 457.5h0M411 457.5h0M411.5 457.5h0M412.5 457.5h0M413.5 457.5h0M414 457.5h0M414.5 457.5h0M415 457.5h0M415.5 457.5h0M416 457.5h0M417 457.5h0M418 457.5h0M422.5 457.5h0M426 457.5h0M428 457.5h0M428.5 457.5h0M430.5 457.5h0M307.5 458h0M308.5 458h0M310.5 458h0M311 458h0M312.5 458h0M313 458h0M315.5 458h0M316.5 458h0M317 458h0M318.5 458h0M322.5 458h0M323.5 458h0M324.5 458h0M325 458h0M325.5 458h0M326 458h0M326.5 458h0M328 458h0M329.5 458h0M331 458h0M331.5 458h0M332.5 458h0M333 458h0M333.5 458h0M334 458h0M334.5 458h0M336.5 458h0M337 458h0M338 458h0M338.5 458h0M339.5 458h0M341.5 458h0M342 458h0M343 458h0M344 458h0M348 458h0M349 458h0M351 458h0M352.5 458h0M353.5 458h0M391.5 458h0M392.5 458h0M393 458h0M393.5 458h0M395 458h0M399.5 458h0M402 458h0M402.5 458h0M403 458h0M404.5 458h0M405 458h0M406 458h0M406.5 458h0M407.5 458h0M408.5 458h0M409.5 458h0M410 458h0M411 458h0M411.5 458h0M413.5 458h0M414.5 458h0M415.5 458h0M416 458h0M416.5 458h0M417 458h0M418.5 458h0M420 458h0M420.5 458h0M421 458h0M424.5 458h0M425 458h0M425.5 458h0M426 458h0M431 458h0M435 458h0M437.5 458h0M438 458h0M309.5 458.5h0M311 458.5h0M313.5 458.5h0M314.5 458.5h0M316.5 458.5h0M319 458.5h0M319.5 458.5h0M320 458.5h0M320.5 458.5h0M321.5 458.5h0M322 458.5h0M325 458.5h0M326 458.5h0M326.5 458.5h0M327.5 458.5h0M328.5 458.5h0M329 458.5h0M330.5 458.5h0M331.5 458.5h0M332 458.5h0M332.5 458.5h0M334.5 458.5h0M335 458.5h0M336 458.5h0M337.5 458.5h0M338 458.5h0M339 458.5h0M340.5 458.5h0M341 458.5h0M342 458.5h0M348 458.5h0M361 458.5h0M376 458.5h0M387.5 458.5h0M388.5 458.5h0M390 458.5h0M391.5 458.5h0M394 458.5h0M396 458.5h0M397 458.5h0M397.5 458.5h0M398.5 458.5h0M401.5 458.5h0M402.5 458.5h0M404 458.5h0M404.5 458.5h0M405 458.5h0M405.5 458.5h0M407 458.5h0M408 458.5h0M408.5 458.5h0M410 458.5h0M410.5 458.5h0M411.5 458.5h0M414 458.5h0M414.5 458.5h0M415.5 458.5h0M416 458.5h0M416.5 458.5h0M417 458.5h0M417.5 458.5h0M418 458.5h0M419 458.5h0M419.5 458.5h0M421 458.5h0M421.5 458.5h0M424 458.5h0M428.5 458.5h0M431.5 458.5h0M433 458.5h0M436.5 458.5h0M439.5 458.5h0M309 459h0M310 459h0M312.5 459h0M313 459h0M313.5 459h0M314.5 459h0M317.5 459h0M318.5 459h0M319 459h0M320 459h0M323.5 459h0M324 459h0M324.5 459h0M325 459h0M325.5 459h0M326 459h0M326.5 459h0M327 459h0M327.5 459h0M331.5 459h0M332 459h0M332.5 459h0M333.5 459h0M335.5 459h0M336 459h0M336.5 459h0M337 459h0M338 459h0M339.5 459h0M340 459h0M342.5 459h0M345 459h0M345.5 459h0M347.5 459h0M352 459h0M356 459h0M357.5 459h0M365.5 459h0M370.5 459h0M392 459h0M393.5 459h0M395.5 459h0M397 459h0M398 459h0M398.5 459h0M400.5 459h0M402.5 459h0M404 459h0M404.5 459h0M405 459h0M406 459h0M407 459h0M408 459h0M409 459h0M410 459h0M410.5 459h0M411 459h0M412.5 459h0M413 459h0M414 459h0M417 459h0M418 459h0M419 459h0M423 459h0M423.5 459h0M426 459h0M427 459h0M307.5 459.5h0M309.5 459.5h0M310.5 459.5h0M311.5 459.5h0M312.5 459.5h0M313.5 459.5h0M314 459.5h0M314.5 459.5h0M316.5 459.5h0M318 459.5h0M320.5 459.5h0M321.5 459.5h0M322.5 459.5h0M324 459.5h0M324.5 459.5h0M325 459.5h0M325.5 459.5h0M326 459.5h0M326.5 459.5h0M327.5 459.5h0M329 459.5h0M330 459.5h0M330.5 459.5h0M331 459.5h0M332 459.5h0M333 459.5h0M333.5 459.5h0M334 459.5h0M334.5 459.5h0M335.5 459.5h0M336 459.5h0M338 459.5h0M339 459.5h0M341 459.5h0M344.5 459.5h0M346.5 459.5h0M347.5 459.5h0M348.5 459.5h0M349 459.5h0M349.5 459.5h0M350.5 459.5h0M353 459.5h0M355.5 459.5h0M366.5 459.5h0M376.5 459.5h0M378.5 459.5h0M383.5 459.5h0M396.5 459.5h0M401 459.5h0M402 459.5h0M402.5 459.5h0M404 459.5h0M405 459.5h0M405.5 459.5h0M406 459.5h0M407.5 459.5h0M408 459.5h0M409 459.5h0M409.5 459.5h0M410 459.5h0M410.5 459.5h0M411 459.5h0M411.5 459.5h0M412 459.5h0M412.5 459.5h0M413.5 459.5h0M414.5 459.5h0M415 459.5h0M415.5 459.5h0M416.5 459.5h0M417.5 459.5h0M418 459.5h0M418.5 459.5h0M421 459.5h0M421.5 459.5h0M427.5 459.5h0M429.5 459.5h0M430 459.5h0M307.5 460h0M313 460h0M315 460h0M315.5 460h0M316.5 460h0M317 460h0M318 460h0M318.5 460h0M319.5 460h0M320.5 460h0M321 460h0M321.5 460h0M324 460h0M324.5 460h0M325.5 460h0M326 460h0M328.5 460h0M330 460h0M330.5 460h0M331.5 460h0M332.5 460h0M333.5 460h0M335.5 460h0M336 460h0M338 460h0M338.5 460h0M342 460h0M342.5 460h0M343 460h0M347.5 460h0M349 460h0M353.5 460h0M361.5 460h0M369.5 460h0M383 460h0M384.5 460h0M397.5 460h0M398.5 460h0M399 460h0M400 460h0M407 460h0M408.5 460h0M409.5 460h0M410.5 460h0M411 460h0M413 460h0M415 460h0M416 460h0M416.5 460h0M417.5 460h0M419 460h0M419.5 460h0M420 460h0M421.5 460h0M422.5 460h0M424.5 460h0M426 460h0M426.5 460h0M427.5 460h0M432 460h0M307.5 460.5h0M308 460.5h0M310.5 460.5h0M312 460.5h0M312.5 460.5h0M313 460.5h0M314 460.5h0M315.5 460.5h0M318 460.5h0M319 460.5h0M319.5 460.5h0M322 460.5h0M323 460.5h0M325 460.5h0M325.5 460.5h0M329.5 460.5h0M330 460.5h0M330.5 460.5h0M331.5 460.5h0M333 460.5h0M333.5 460.5h0M336 460.5h0M336.5 460.5h0M337.5 460.5h0M338 460.5h0M341 460.5h0M341.5 460.5h0M345.5 460.5h0M346 460.5h0M346.5 460.5h0M348 460.5h0M351 460.5h0M360.5 460.5h0M381.5 460.5h0M385.5 460.5h0M388.5 460.5h0M390 460.5h0M392 460.5h0M395.5 460.5h0M396.5 460.5h0M398 460.5h0M399 460.5h0M401 460.5h0M402.5 460.5h0M403 460.5h0M404 460.5h0M404.5 460.5h0M406 460.5h0M408.5 460.5h0M409.5 460.5h0M410.5 460.5h0M411.5 460.5h0M412 460.5h0M413.5 460.5h0M417.5 460.5h0M418.5 460.5h0M419 460.5h0M419.5 460.5h0M420 460.5h0M420.5 460.5h0M422.5 460.5h0M423.5 460.5h0M425.5 460.5h0M426 460.5h0M426.5 460.5h0M428.5 460.5h0M429.5 460.5h0M430 460.5h0M432 460.5h0M436.5 460.5h0M307 461h0M309.5 461h0M313 461h0M314 461h0M315 461h0M316 461h0M318 461h0M319.5 461h0M320 461h0M320.5 461h0M321 461h0M321.5 461h0M323.5 461h0M324 461h0M325.5 461h0M326 461h0M326.5 461h0M327 461h0M327.5 461h0M328 461h0M329 461h0M329.5 461h0M330.5 461h0M331.5 461h0M332 461h0M333.5 461h0M334 461h0M338.5 461h0M339.5 461h0M341 461h0M342 461h0M342.5 461h0M343.5 461h0M345 461h0M347 461h0M348 461h0M362 461h0M378 461h0M382.5 461h0M389.5 461h0M390 461h0M393 461h0M402 461h0M403.5 461h0M404 461h0M405 461h0M405.5 461h0M407 461h0M407.5 461h0M408.5 461h0M409 461h0M409.5 461h0M410 461h0M410.5 461h0M411.5 461h0M412.5 461h0M414.5 461h0M416 461h0M417 461h0M420.5 461h0M421.5 461h0M422 461h0M424.5 461h0M425 461h0M426.5 461h0M308 461.5h0M309.5 461.5h0M316 461.5h0M319.5 461.5h0M320.5 461.5h0M323 461.5h0M323.5 461.5h0M324.5 461.5h0M325.5 461.5h0M328.5 461.5h0M329.5 461.5h0M330.5 461.5h0M331 461.5h0M331.5 461.5h0M333 461.5h0M334.5 461.5h0M335.5 461.5h0M336 461.5h0M337.5 461.5h0M340 461.5h0M340.5 461.5h0M341 461.5h0M343.5 461.5h0M344.5 461.5h0M346.5 461.5h0M348 461.5h0M349.5 461.5h0M355.5 461.5h0M356.5 461.5h0M361.5 461.5h0M387 461.5h0M387.5 461.5h0M390.5 461.5h0M392 461.5h0M395.5 461.5h0M396.5 461.5h0M398 461.5h0M399.5 461.5h0M400.5 461.5h0M401.5 461.5h0M402 461.5h0M404.5 461.5h0M405.5 461.5h0M406 461.5h0M406.5 461.5h0M407.5 461.5h0M408 461.5h0M410 461.5h0M410.5 461.5h0M412.5 461.5h0M413 461.5h0M414 461.5h0M415 461.5h0M415.5 461.5h0M416 461.5h0M416.5 461.5h0M417 461.5h0M418.5 461.5h0M420.5 461.5h0M421.5 461.5h0M422 461.5h0M425 461.5h0M427 461.5h0M428.5 461.5h0M429 461.5h0M433.5 461.5h0M309 462h0M312 462h0M316 462h0M316.5 462h0M319 462h0M320 462h0M320.5 462h0M321.5 462h0M322.5 462h0M323 462h0M325 462h0M326 462h0M326.5 462h0M330 462h0M332 462h0M332.5 462h0M333.5 462h0M335 462h0M335.5 462h0M337 462h0M338 462h0M339 462h0M339.5 462h0M340 462h0M344 462h0M344.5 462h0M346.5 462h0M349.5 462h0M388 462h0M392 462h0M395 462h0M396 462h0M397 462h0M399 462h0M401 462h0M401.5 462h0M402.5 462h0M404.5 462h0M405 462h0M406.5 462h0M410 462h0M411 462h0M411.5 462h0M412 462h0M413 462h0M414.5 462h0M416 462h0M417.5 462h0M419.5 462h0M421 462h0M421.5 462h0M423.5 462h0M425.5 462h0M428 462h0M428.5 462h0M432 462h0M437.5 462h0M306.5 462.5h0M307.5 462.5h0M308.5 462.5h0M312 462.5h0M313 462.5h0M313.5 462.5h0M314.5 462.5h0M315 462.5h0M316 462.5h0M316.5 462.5h0M317.5 462.5h0M318.5 462.5h0M319.5 462.5h0M320 462.5h0M321 462.5h0M321.5 462.5h0M322.5 462.5h0M323 462.5h0M324 462.5h0M325 462.5h0M325.5 462.5h0M326.5 462.5h0M327 462.5h0M328 462.5h0M328.5 462.5h0M329 462.5h0M330.5 462.5h0M331.5 462.5h0M333.5 462.5h0M336 462.5h0M338.5 462.5h0M340.5 462.5h0M341.5 462.5h0M343 462.5h0M344.5 462.5h0M346 462.5h0M347.5 462.5h0M350 462.5h0M353.5 462.5h0M356 462.5h0M365.5 462.5h0M392 462.5h0M392.5 462.5h0M395 462.5h0M396.5 462.5h0M398.5 462.5h0M400 462.5h0M400.5 462.5h0M401 462.5h0M402.5 462.5h0M403 462.5h0M403.5 462.5h0M405.5 462.5h0M406 462.5h0M407.5 462.5h0M408 462.5h0M408.5 462.5h0M412.5 462.5h0M413.5 462.5h0M415.5 462.5h0M418.5 462.5h0M419.5 462.5h0M420 462.5h0M422 462.5h0M422.5 462.5h0M423 462.5h0M424 462.5h0M425.5 462.5h0M426 462.5h0M426.5 462.5h0M428 462.5h0M436.5 462.5h0M307.5 463h0M310.5 463h0M314 463h0M314.5 463h0M315.5 463h0M317 463h0M317.5 463h0M319 463h0M319.5 463h0M321 463h0M323 463h0M324.5 463h0M326.5 463h0M327.5 463h0M328 463h0M329.5 463h0M332 463h0M334 463h0M335 463h0M336 463h0M336.5 463h0M338.5 463h0M340 463h0M341 463h0M341.5 463h0M342 463h0M345.5 463h0M346 463h0M352 463h0M353 463h0M355.5 463h0M362.5 463h0M384 463h0M391 463h0M395 463h0M400 463h0M402 463h0M402.5 463h0M403.5 463h0M405 463h0M406 463h0M408 463h0M408.5 463h0M409.5 463h0M410.5 463h0M411.5 463h0M412 463h0M414 463h0M419 463h0M420 463h0M423.5 463h0M427.5 463h0M433 463h0M308 463.5h0M313 463.5h0M314 463.5h0M315.5 463.5h0M318 463.5h0M319 463.5h0M320 463.5h0M320.5 463.5h0M321.5 463.5h0M322.5 463.5h0M323 463.5h0M323.5 463.5h0M324.5 463.5h0M325.5 463.5h0M326 463.5h0M328 463.5h0M329.5 463.5h0M330 463.5h0M330.5 463.5h0M331.5 463.5h0M333 463.5h0M333.5 463.5h0M334 463.5h0M335 463.5h0M335.5 463.5h0M336 463.5h0M336.5 463.5h0M339 463.5h0M340.5 463.5h0M342 463.5h0M343 463.5h0M343.5 463.5h0M344.5 463.5h0M346 463.5h0M351.5 463.5h0M354.5 463.5h0M368 463.5h0M386.5 463.5h0M387 463.5h0M390.5 463.5h0M392 463.5h0M394.5 463.5h0M395 463.5h0M397.5 463.5h0M399.5 463.5h0M400 463.5h0M404 463.5h0M405.5 463.5h0M406 463.5h0M406.5 463.5h0M407.5 463.5h0M408.5 463.5h0M409.5 463.5h0M410 463.5h0M411 463.5h0M413 463.5h0M414.5 463.5h0M415.5 463.5h0M416.5 463.5h0M418 463.5h0M419 463.5h0M421.5 463.5h0M422 463.5h0M422.5 463.5h0M423.5 463.5h0M424 463.5h0M425 463.5h0M434.5 463.5h0M436.5 463.5h0M307.5 464h0M308 464h0M310.5 464h0M311.5 464h0M313.5 464h0M315 464h0M317 464h0M317.5 464h0M318 464h0M318.5 464h0M322.5 464h0M323 464h0M324.5 464h0M328 464h0M328.5 464h0M329 464h0M331 464h0M331.5 464h0M332 464h0M332.5 464h0M334.5 464h0M335 464h0M335.5 464h0M337.5 464h0M342 464h0M343 464h0M343.5 464h0M345.5 464h0M347 464h0M347.5 464h0M351 464h0M360 464h0M360.5 464h0M380.5 464h0M382.5 464h0M394.5 464h0M395 464h0M395.5 464h0M396 464h0M398 464h0M402.5 464h0M406 464h0M406.5 464h0M407.5 464h0M408 464h0M409 464h0M411 464h0M411.5 464h0M412 464h0M415 464h0M415.5 464h0M416.5 464h0M417.5 464h0M419.5 464h0M421 464h0M422 464h0M429.5 464h0M437 464h0M306.5 464.5h0M312.5 464.5h0M313.5 464.5h0M314.5 464.5h0M315.5 464.5h0M316.5 464.5h0M317 464.5h0M319 464.5h0M319.5 464.5h0M320.5 464.5h0M321 464.5h0M321.5 464.5h0M322 464.5h0M324.5 464.5h0M327.5 464.5h0M330 464.5h0M330.5 464.5h0M331 464.5h0M332 464.5h0M332.5 464.5h0M333.5 464.5h0M334 464.5h0M335.5 464.5h0M337.5 464.5h0M340 464.5h0M341.5 464.5h0M343.5 464.5h0M345 464.5h0M350.5 464.5h0M353 464.5h0M361.5 464.5h0M368.5 464.5h0M389 464.5h0M389.5 464.5h0M395.5 464.5h0M397 464.5h0M404 464.5h0M404.5 464.5h0M407.5 464.5h0M410.5 464.5h0M412.5 464.5h0M418.5 464.5h0M420 464.5h0M420.5 464.5h0M425 464.5h0M429.5 464.5h0M431.5 464.5h0M307.5 465h0M309.5 465h0M314.5 465h0M315 465h0M318.5 465h0M320.5 465h0M321.5 465h0M322 465h0M323 465h0M324.5 465h0M326.5 465h0M329 465h0M330 465h0M330.5 465h0M331.5 465h0M335.5 465h0M336 465h0M338.5 465h0M340 465h0M341 465h0M348 465h0M348.5 465h0M356.5 465h0M380.5 465h0M387 465h0M388 465h0M395 465h0M398 465h0M404.5 465h0M405.5 465h0M407 465h0M409.5 465h0M410 465h0M411.5 465h0M412 465h0M413 465h0M413.5 465h0M414 465h0M415.5 465h0M420 465h0M420.5 465h0M421 465h0M427.5 465h0M428 465h0M433 465h0M436.5 465h0M438 465h0M318 465.5h0M319.5 465.5h0M320.5 465.5h0M321.5 465.5h0M325 465.5h0M326.5 465.5h0M327.5 465.5h0M328 465.5h0M329.5 465.5h0M330.5 465.5h0M333.5 465.5h0M334 465.5h0M334.5 465.5h0M336 465.5h0M337.5 465.5h0M338.5 465.5h0M339.5 465.5h0M341 465.5h0M343 465.5h0M343.5 465.5h0M344.5 465.5h0M346.5 465.5h0M354 465.5h0M356 465.5h0M359.5 465.5h0M362.5 465.5h0M386.5 465.5h0M387.5 465.5h0M392.5 465.5h0M395 465.5h0M395.5 465.5h0M399.5 465.5h0M400 465.5h0M403.5 465.5h0M405 465.5h0M405.5 465.5h0M406 465.5h0M407 465.5h0M409 465.5h0M411 465.5h0M411.5 465.5h0M413.5 465.5h0M415 465.5h0M415.5 465.5h0M420 465.5h0M423.5 465.5h0M425.5 465.5h0M309 466h0M310.5 466h0M311 466h0M313 466h0M316 466h0M318.5 466h0M320.5 466h0M323 466h0M323.5 466h0M324.5 466h0M327.5 466h0M329 466h0M330 466h0M331 466h0M331.5 466h0M334.5 466h0M338 466h0M338.5 466h0M339.5 466h0M341 466h0M341.5 466h0M347 466h0M349.5 466h0M397.5 466h0M398.5 466h0M402 466h0M405 466h0M407.5 466h0M409 466h0M409.5 466h0M411.5 466h0M413.5 466h0M414 466h0M414.5 466h0M415 466h0M416.5 466h0M422 466h0M423.5 466h0M428 466h0M431.5 466h0M309 466.5h0M315 466.5h0M320 466.5h0M321 466.5h0M322 466.5h0M324 466.5h0M324.5 466.5h0M327.5 466.5h0M328.5 466.5h0M330.5 466.5h0M333 466.5h0M333.5 466.5h0M337 466.5h0M338 466.5h0M338.5 466.5h0M339.5 466.5h0M340 466.5h0M346 466.5h0M348 466.5h0M351.5 466.5h0M389.5 466.5h0M394 466.5h0M399.5 466.5h0M402.5 466.5h0M405 466.5h0M410.5 466.5h0M411 466.5h0M412 466.5h0M415 466.5h0M415.5 466.5h0M416.5 466.5h0M418 466.5h0M419 466.5h0M420 466.5h0M422 466.5h0M423 466.5h0M424.5 466.5h0M426 466.5h0M430 466.5h0M430.5 466.5h0M431 466.5h0M434.5 466.5h0M306.5 467h0M314.5 467h0M315.5 467h0M316.5 467h0M317.5 467h0M320 467h0M325 467h0M325.5 467h0M329 467h0M330.5 467h0M331.5 467h0M332.5 467h0M334 467h0M337.5 467h0M338 467h0M339 467h0M343 467h0M343.5 467h0M346.5 467h0M347.5 467h0M348.5 467h0M396.5 467h0M398.5 467h0M399 467h0M399.5 467h0M400 467h0M406 467h0M411.5 467h0M414 467h0M419.5 467h0M430 467h0M431.5 467h0M435.5 467h0M313.5 467.5h0M314 467.5h0M315 467.5h0M321.5 467.5h0M322 467.5h0M322.5 467.5h0M323.5 467.5h0M324 467.5h0M328 467.5h0M329 467.5h0M330 467.5h0M331 467.5h0M334.5 467.5h0M337 467.5h0M339 467.5h0M346 467.5h0M347 467.5h0M350.5 467.5h0M351.5 467.5h0M354.5 467.5h0M357.5 467.5h0M389 467.5h0M389.5 467.5h0M394 467.5h0M400 467.5h0M404 467.5h0M405.5 467.5h0M407 467.5h0M407.5 467.5h0M409.5 467.5h0M411 467.5h0M412 467.5h0M413 467.5h0M413.5 467.5h0M414 467.5h0M415.5 467.5h0M417 467.5h0M418 467.5h0M420.5 467.5h0M428 467.5h0M429 467.5h0M430 467.5h0M311 468h0M312.5 468h0M320.5 468h0M323 468h0M323.5 468h0M324 468h0M325 468h0M327 468h0M329 468h0M331.5 468h0M332 468h0M333 468h0M334 468h0M337.5 468h0M338.5 468h0M339.5 468h0M344 468h0M346 468h0M348 468h0M350 468h0M350.5 468h0M353 468h0M367 468h0M370.5 468h0M391 468h0M395 468h0M396.5 468h0M400 468h0M405.5 468h0M409.5 468h0M411 468h0M417 468h0M421 468h0M422 468h0M426 468h0M427 468h0M308 468.5h0M310 468.5h0M310.5 468.5h0M312 468.5h0M312.5 468.5h0M314 468.5h0M317.5 468.5h0M319.5 468.5h0M323.5 468.5h0M329.5 468.5h0M339 468.5h0M341 468.5h0M341.5 468.5h0M342.5 468.5h0M344.5 468.5h0M345 468.5h0M349.5 468.5h0M353.5 468.5h0M355 468.5h0M364.5 468.5h0M376.5 468.5h0M386 468.5h0M396 468.5h0M398.5 468.5h0M400 468.5h0M404 468.5h0M404.5 468.5h0M405 468.5h0M408.5 468.5h0M416 468.5h0M417 468.5h0M417.5 468.5h0M421 468.5h0M422.5 468.5h0M423 468.5h0M424.5 468.5h0M426 468.5h0M430.5 468.5h0M434.5 468.5h0M310 469h0M311.5 469h0M317.5 469h0M318 469h0M318.5 469h0M319.5 469h0M321.5 469h0M322.5 469h0M325.5 469h0M326.5 469h0M332 469h0M332.5 469h0M335.5 469h0M336 469h0M341 469h0M344.5 469h0M345 469h0M345.5 469h0M377 469h0M387 469h0M387.5 469h0M390.5 469h0M404 469h0M405.5 469h0M406.5 469h0M407 469h0M408.5 469h0M410 469h0M410.5 469h0M411.5 469h0M417 469h0M418 469h0M419 469h0M422 469h0M424.5 469h0M426.5 469h0M427.5 469h0M430 469h0M431.5 469h0M306.5 469.5h0M308.5 469.5h0M314.5 469.5h0M315 469.5h0M319.5 469.5h0M326 469.5h0M328 469.5h0M329 469.5h0M330 469.5h0M331 469.5h0M332.5 469.5h0M333 469.5h0M334.5 469.5h0M336 469.5h0M337 469.5h0M338.5 469.5h0M339.5 469.5h0M340.5 469.5h0M355.5 469.5h0M359.5 469.5h0M362 469.5h0M368 469.5h0M370 469.5h0M371.5 469.5h0M378 469.5h0M378.5 469.5h0M399 469.5h0M403 469.5h0M406.5 469.5h0M407.5 469.5h0M408 469.5h0M409.5 469.5h0M413 469.5h0M413.5 469.5h0M418 469.5h0M419.5 469.5h0M420.5 469.5h0M424 469.5h0M425.5 469.5h0M307.5 470h0M310 470h0M316.5 470h0M317 470h0M317.5 470h0M318 470h0M318.5 470h0M321 470h0M322 470h0M322.5 470h0M326.5 470h0M328.5 470h0M337 470h0M338 470h0M343 470h0M345 470h0M346 470h0M354 470h0M357.5 470h0M371 470h0M407.5 470h0M409.5 470h0M412 470h0M414.5 470h0M415.5 470h0M416 470h0M418.5 470h0M423.5 470h0M427 470h0M431 470h0M437.5 470h0M314.5 470.5h0M315.5 470.5h0M321.5 470.5h0M322 470.5h0M323.5 470.5h0M324 470.5h0M326 470.5h0M335 470.5h0M336 470.5h0M340.5 470.5h0M342 470.5h0M342.5 470.5h0M343 470.5h0M344.5 470.5h0M368 470.5h0M403 470.5h0M404 470.5h0M404.5 470.5h0M407 470.5h0M409.5 470.5h0M411 470.5h0M411.5 470.5h0M413 470.5h0M419.5 470.5h0M429.5 470.5h0M430.5 470.5h0M309 471h0M313 471h0M315.5 471h0M322.5 471h0M323.5 471h0M326.5 471h0M328 471h0M330 471h0M349 471h0M351 471h0M376 471h0M383.5 471h0M407.5 471h0M410 471h0M415 471h0M415.5 471h0M417.5 471h0M420 471h0M421 471h0M422 471h0M422.5 471h0" stroke="#0a0a0a" stroke-width="1.32" stroke-linecap="round" fill="none"/>
<rect x="305.2" y="279.6" width="206.8" height="192.4" fill="none" stroke="#333" stroke-width="1.2"/>
<path d="M355.5 279.6V472M305.2 425.4H512" stroke="#222" stroke-width="1.3" fill="none"/>
<path d="M320.4 473.6v2.7M329.5 473.6v2.7M336.0 473.6v2.7M341.0 473.6v2.7M345.1 473.6v2.7M348.6 473.6v2.7M351.6 473.6v2.7M354.2 473.6v2.7M356.6 473.6v5.7M372.2 473.6v2.7M381.3 473.6v2.7M387.8 473.6v2.7M392.8 473.6v2.7M396.9 473.6v2.7M400.4 473.6v2.7M403.4 473.6v2.7M406.0 473.6v2.7M408.4 473.6v5.7M424.0 473.6v2.7M433.1 473.6v2.7M439.6 473.6v2.7M444.6 473.6v2.7M448.7 473.6v2.7M452.2 473.6v2.7M455.2 473.6v2.7M457.8 473.6v2.7M460.2 473.6v5.7M475.8 473.6v2.7M484.9 473.6v2.7M491.4 473.6v2.7M496.4 473.6v2.7M500.5 473.6v2.7M504.0 473.6v2.7M507.0 473.6v2.7M509.6 473.6v2.7M512.0 473.6v5.7" stroke="#333" stroke-width="1.1" fill="none"/>
<path d="M356.6 472v2.6" stroke="#333" stroke-width="1.1"/>
<path d="M305.2 459.2h-4.0M305.2 450.6h-4.0M305.2 444.6h-4.0M305.2 439.9h-4.0M305.2 436.0h-4.0M305.2 432.8h-4.0M305.2 430.0h-4.0M305.2 427.5h-4.0M305.2 425.2h-7.7M305.2 410.6h-4.0M305.2 402.1h-4.0M305.2 396.0h-4.0M305.2 391.3h-4.0M305.2 387.5h-4.0M305.2 384.2h-4.0M305.2 381.4h-4.0M305.2 378.9h-4.0M305.2 376.7h-7.7M305.2 362.1h-4.0M305.2 353.5h-4.0M305.2 347.5h-4.0M305.2 342.8h-4.0M305.2 338.9h-4.0M305.2 335.7h-4.0M305.2 332.9h-4.0M305.2 330.4h-4.0M305.2 328.1h-7.7M305.2 313.5h-4.0M305.2 305.0h-4.0M305.2 298.9h-4.0M305.2 294.2h-4.0M305.2 290.4h-4.0M305.2 287.1h-4.0M305.2 284.3h-4.0M305.2 281.8h-4.0M305.2 279.6h-7.7" stroke="#333" stroke-width="1.1" fill="none"/>
<text x="358.2" y="487.6" font-size="7.2" font-weight="bold" text-anchor="middle" fill="#000" stroke="#000" stroke-width="0.1">10<tspan font-size="5.0" dy="-3.0">0</tspan></text>
<text x="410.0" y="487.6" font-size="7.2" font-weight="bold" text-anchor="middle" fill="#000" stroke="#000" stroke-width="0.1">10<tspan font-size="5.0" dy="-3.0">1</tspan></text>
<text x="461.8" y="487.6" font-size="7.2" font-weight="bold" text-anchor="middle" fill="#000" stroke="#000" stroke-width="0.1">10<tspan font-size="5.0" dy="-3.0">2</tspan></text>
<text x="507.3" y="487.6" font-size="7.2" font-weight="bold" text-anchor="middle" fill="#000" stroke="#000" stroke-width="0.1">10<tspan font-size="5.0" dy="-3.0">3</tspan></text>
<text x="296" y="427.6" font-size="7.2" font-weight="bold" text-anchor="end" fill="#000" stroke="#000" stroke-width="0.1">10<tspan font-size="5.0" dy="-3.0">0</tspan></text>
<text x="296" y="379.1" font-size="7.2" font-weight="bold" text-anchor="end" fill="#000" stroke="#000" stroke-width="0.1">10<tspan font-size="5.0" dy="-3.0">1</tspan></text>
<text x="296" y="330.5" font-size="7.2" font-weight="bold" text-anchor="end" fill="#000" stroke="#000" stroke-width="0.1">10<tspan font-size="5.0" dy="-3.0">2</tspan></text>
<text x="296" y="282.0" font-size="7.2" font-weight="bold" text-anchor="end" fill="#000" stroke="#000" stroke-width="0.1">10<tspan font-size="5.0" dy="-3.0">3</tspan></text>
<text x="305.3" y="289.1" font-size="9.5" font-weight="bold" textLength="9.6" lengthAdjust="spacingAndGlyphs" fill="#111" stroke="#111" stroke-width=".4">B1</text>
<text x="310.5" y="300.7" font-size="9.5" font-weight="bold" textLength="20" lengthAdjust="spacingAndGlyphs" fill="#111" stroke="#111" stroke-width=".4">5.4%</text>
<text x="355.7" y="289.1" font-size="9.5" font-weight="bold" textLength="9.6" lengthAdjust="spacingAndGlyphs" fill="#111" stroke="#111" stroke-width=".4">B2</text>
<text x="361" y="300.7" font-size="9.5" font-weight="bold" textLength="20" lengthAdjust="spacingAndGlyphs" fill="#111" stroke="#111" stroke-width=".4">7.2%</text>
<text x="305.3" y="435.5" font-size="9.5" font-weight="bold" textLength="9.6" lengthAdjust="spacingAndGlyphs" fill="#111" stroke="#111" stroke-width=".4">B3</text>
<text x="462.5" y="458.1" font-size="9.5" font-weight="bold" textLength="10.4" lengthAdjust="spacingAndGlyphs" fill="#111" stroke="#111" stroke-width=".4">B4</text>
<text x="464.6" y="468.9" font-size="9.5" font-weight="bold" textLength="25.4" lengthAdjust="spacingAndGlyphs" fill="#111" stroke="#111" stroke-width=".4">45.8%</text>
<text x="457.1" y="303.6" font-size="22.8">7.2%</text>
<line x1="60" y1="494.1" x2="504.7" y2="494.1" stroke="#111" stroke-width="1.45"/>
<polygon points="513.50,494.10 502.50,496.90 504.70,494.10 502.50,491.30" fill="#111"/>
<text x="268.4" y="519" font-size="19.8">CD3</text>
<text x="0.2" y="537.2" font-size="33.3" font-weight="bold">D</text>
<line x1="31" y1="727.5" x2="31.0" y2="544.8" stroke="#111" stroke-width="1.45"/>
<polygon points="31.00,536.00 33.80,547.00 31.00,544.80 28.20,547.00" fill="#111"/>
<text x="20.6" y="632.6" font-size="19.5" text-anchor="middle" transform="rotate(-90 20.6 632.6)">CD25</text>
<path d="M101 554h0M121.5 554.5h0M88.5 556h0M108.5 557.5h0M96.5 560h0M94 560.5h0M113 560.5h0M86.5 563h0M84.5 563.5h0M92 564.5h0M96.5 564.5h0M109.5 565h0M90.5 565.5h0M97 566h0M95.5 566.5h0M79 567.5h0M90.5 568.5h0M99.5 569h0M93.5 569.5h0M96 569.5h0M98 569.5h0M107 569.5h0M89 570h0M99.5 570h0M106.5 570h0M95 570.5h0M101 570.5h0M83 571h0M95.5 571h0M98 571h0M86 571.5h0M100.5 572h0M101 572h0M105 572h0M106.5 572h0M114 572h0M98.5 572.5h0M99.5 572.5h0M110.5 572.5h0M118.5 572.5h0M102 573h0M93.5 573.5h0M96.5 573.5h0M102.5 573.5h0M109 573.5h0M116 573.5h0M92 574h0M96.5 574h0M99.5 574h0M100 574h0M111.5 574h0M112.5 574h0M125.5 574h0M91.5 574.5h0M93.5 575h0M96 575h0M98.5 575h0M109 575h0M114.5 575h0M117.5 575h0M84 575.5h0M97.5 575.5h0M78 576h0M92.5 576h0M93.5 576h0M94 576h0M96 576h0M104.5 576h0M113.5 576h0M83 576.5h0M85.5 576.5h0M87 576.5h0M88.5 576.5h0M96.5 576.5h0M97.5 576.5h0M98 576.5h0M104 576.5h0M107.5 576.5h0M108 576.5h0M75.5 577h0M79.5 577h0M87 577h0M89 577h0M92 577h0M96 577h0M98 577h0M103 577h0M114 577h0M114.5 577h0M61.5 577.5h0M93 577.5h0M95 577.5h0M100 577.5h0M102 577.5h0M107.5 577.5h0M109 577.5h0M109.5 577.5h0M85.5 578h0M89 578h0M91.5 578h0M92.5 578h0M93 578h0M96 578h0M83.5 578.5h0M85.5 578.5h0M89 578.5h0M90.5 578.5h0M92 578.5h0M97.5 578.5h0M99 578.5h0M99.5 578.5h0M101.5 578.5h0M104 578.5h0M111.5 578.5h0M136.5 578.5h0M80 579h0M83.5 579h0M87 579h0M95 579h0M99.5 579h0M103.5 579h0M104 579h0M108.5 579h0M112.5 579h0M80 579.5h0M91.5 579.5h0M92.5 579.5h0M95 579.5h0M99 579.5h0M101.5 579.5h0M102.5 579.5h0M104.5 579.5h0M105 579.5h0M111 579.5h0M112.5 579.5h0M115.5 579.5h0M87 580h0M89 580h0M92.5 580h0M99.5 580h0M102.5 580h0M104 580h0M106 580h0M106.5 580h0M108 580h0M90.5 580.5h0M92.5 580.5h0M93.5 580.5h0M99 580.5h0M105.5 580.5h0M106 580.5h0M110 580.5h0M83.5 581h0M92.5 581h0M95.5 581h0M97.5 581h0M103 581h0M104.5 581h0M105 581h0M80.5 581.5h0M81 581.5h0M88 581.5h0M89.5 581.5h0M95.5 581.5h0M100.5 581.5h0M103.5 581.5h0M104 581.5h0M106.5 581.5h0M110.5 581.5h0M80 582h0M84.5 582h0M85 582h0M85.5 582h0M88.5 582h0M91 582h0M100.5 582h0M101.5 582h0M104 582h0M104.5 582h0M107.5 582h0M74 582.5h0M77 582.5h0M87 582.5h0M88.5 582.5h0M94.5 582.5h0M95.5 582.5h0M102.5 582.5h0M104 582.5h0M112.5 582.5h0M114.5 582.5h0M120.5 582.5h0M78.5 583h0M82 583h0M83 583h0M85 583h0M86.5 583h0M89.5 583h0M94 583h0M98 583h0M102 583h0M108 583h0M114.5 583h0M117 583h0M119 583h0M73.5 583.5h0M82 583.5h0M83 583.5h0M84.5 583.5h0M85 583.5h0M87 583.5h0M89 583.5h0M92.5 583.5h0M100.5 583.5h0M102.5 583.5h0M106 583.5h0M108 583.5h0M115 583.5h0M87.5 584h0M88 584h0M88.5 584h0M95.5 584h0M97 584h0M97.5 584h0M103 584h0M105 584h0M110.5 584h0M67.5 584.5h0M81 584.5h0M85.5 584.5h0M89.5 584.5h0M91.5 584.5h0M93.5 584.5h0M95 584.5h0M102 584.5h0M104.5 584.5h0M107 584.5h0M110 584.5h0M111.5 584.5h0M112 584.5h0M113 584.5h0M65.5 585h0M70 585h0M81 585h0M82.5 585h0M83.5 585h0M84.5 585h0M87 585h0M90 585h0M91.5 585h0M92 585h0M92.5 585h0M94.5 585h0M96 585h0M97 585h0M98 585h0M99 585h0M103 585h0M81 585.5h0M82.5 585.5h0M89.5 585.5h0M90 585.5h0M90.5 585.5h0M94 585.5h0M95 585.5h0M95.5 585.5h0M97.5 585.5h0M98.5 585.5h0M99 585.5h0M102 585.5h0M102.5 585.5h0M104 585.5h0M105.5 585.5h0M110 585.5h0M110.5 585.5h0M114 585.5h0M118.5 585.5h0M76 586h0M79.5 586h0M86 586h0M87 586h0M87.5 586h0M92.5 586h0M93.5 586h0M94 586h0M96 586h0M99 586h0M101 586h0M101.5 586h0M102 586h0M103.5 586h0M110.5 586h0M113 586h0M121.5 586h0M80.5 586.5h0M83 586.5h0M84.5 586.5h0M85 586.5h0M86 586.5h0M86.5 586.5h0M91 586.5h0M92 586.5h0M92.5 586.5h0M94 586.5h0M94.5 586.5h0M95 586.5h0M99 586.5h0M102.5 586.5h0M103 586.5h0M104 586.5h0M105 586.5h0M109 586.5h0M113 586.5h0M67 587h0M82 587h0M85 587h0M86 587h0M88 587h0M89 587h0M94.5 587h0M95 587h0M95.5 587h0M100.5 587h0M101 587h0M102.5 587h0M103.5 587h0M105.5 587h0M108.5 587h0M110 587h0M63 587.5h0M69 587.5h0M78.5 587.5h0M82.5 587.5h0M85 587.5h0M87 587.5h0M88 587.5h0M90 587.5h0M90.5 587.5h0M93 587.5h0M95 587.5h0M98.5 587.5h0M101.5 587.5h0M103.5 587.5h0M104.5 587.5h0M105.5 587.5h0M70.5 588h0M71 588h0M87 588h0M90 588h0M90.5 588h0M92 588h0M96 588h0M96.5 588h0M97.5 588h0M98 588h0M98.5 588h0M99 588h0M102.5 588h0M106 588h0M106.5 588h0M107.5 588h0M66.5 588.5h0M83.5 588.5h0M84 588.5h0M90 588.5h0M92.5 588.5h0M94.5 588.5h0M95 588.5h0M96 588.5h0M96.5 588.5h0M97 588.5h0M99.5 588.5h0M100.5 588.5h0M101 588.5h0M101.5 588.5h0M103 588.5h0M105 588.5h0M108.5 588.5h0M110 588.5h0M110.5 588.5h0M112 588.5h0M63.5 589h0M73.5 589h0M81.5 589h0M82 589h0M82.5 589h0M84.5 589h0M85 589h0M86.5 589h0M91.5 589h0M92 589h0M92.5 589h0M95 589h0M98 589h0M99 589h0M101.5 589h0M102 589h0M103 589h0M110 589h0M114.5 589h0M73 589.5h0M79.5 589.5h0M84 589.5h0M87.5 589.5h0M88.5 589.5h0M89.5 589.5h0M90 589.5h0M93.5 589.5h0M94 589.5h0M94.5 589.5h0M95.5 589.5h0M96 589.5h0M98 589.5h0M98.5 589.5h0M99.5 589.5h0M100 589.5h0M101 589.5h0M103 589.5h0M105 589.5h0M105.5 589.5h0M106 589.5h0M111.5 589.5h0M112.5 589.5h0M116.5 589.5h0M75 590h0M82.5 590h0M85 590h0M89 590h0M90.5 590h0M91.5 590h0M92 590h0M92.5 590h0M94 590h0M94.5 590h0M99 590h0M106 590h0M106.5 590h0M107 590h0M115 590h0M74 590.5h0M77.5 590.5h0M82 590.5h0M84 590.5h0M88 590.5h0M90.5 590.5h0M92 590.5h0M95.5 590.5h0M96 590.5h0M98.5 590.5h0M99 590.5h0M103.5 590.5h0M106 590.5h0M107 590.5h0M109.5 590.5h0M110 590.5h0M113.5 590.5h0M115.5 590.5h0M127.5 590.5h0M73.5 591h0M75 591h0M78.5 591h0M81.5 591h0M82 591h0M87 591h0M87.5 591h0M89 591h0M90 591h0M92 591h0M95.5 591h0M97.5 591h0M98.5 591h0M100.5 591h0M102 591h0M108 591h0M109 591h0M111 591h0M67 591.5h0M69 591.5h0M71.5 591.5h0M82 591.5h0M84.5 591.5h0M85 591.5h0M87.5 591.5h0M88.5 591.5h0M89 591.5h0M91 591.5h0M92.5 591.5h0M94.5 591.5h0M95 591.5h0M95.5 591.5h0M96 591.5h0M97 591.5h0M97.5 591.5h0M98 591.5h0M99 591.5h0M99.5 591.5h0M101 591.5h0M102.5 591.5h0M108.5 591.5h0M112.5 591.5h0M114.5 591.5h0M121.5 591.5h0M65 592h0M75 592h0M84 592h0M85.5 592h0M86.5 592h0M87 592h0M93 592h0M94 592h0M96 592h0M96.5 592h0M98 592h0M98.5 592h0M101.5 592h0M105.5 592h0M107.5 592h0M74.5 592.5h0M77 592.5h0M79 592.5h0M79.5 592.5h0M83 592.5h0M83.5 592.5h0M86.5 592.5h0M87 592.5h0M88.5 592.5h0M89 592.5h0M90.5 592.5h0M91 592.5h0M93 592.5h0M94.5 592.5h0M95 592.5h0M96 592.5h0M97 592.5h0M97.5 592.5h0M98 592.5h0M99 592.5h0M101.5 592.5h0M104.5 592.5h0M106.5 592.5h0M107 592.5h0M70 593h0M77.5 593h0M85.5 593h0M86.5 593h0M87.5 593h0M88 593h0M89 593h0M90.5 593h0M91.5 593h0M93.5 593h0M94 593h0M99 593h0M99.5 593h0M100.5 593h0M112.5 593h0M61.5 593.5h0M64.5 593.5h0M67 593.5h0M74.5 593.5h0M78.5 593.5h0M80.5 593.5h0M83.5 593.5h0M85 593.5h0M86 593.5h0M86.5 593.5h0M87 593.5h0M87.5 593.5h0M88 593.5h0M89 593.5h0M90.5 593.5h0M91.5 593.5h0M92 593.5h0M93 593.5h0M96 593.5h0M97 593.5h0M99.5 593.5h0M102.5 593.5h0M103 593.5h0M105 593.5h0M105.5 593.5h0M82 594h0M83 594h0M85.5 594h0M88.5 594h0M89 594h0M90 594h0M93 594h0M93.5 594h0M95 594h0M96.5 594h0M98.5 594h0M100 594h0M102.5 594h0M103 594h0M105 594h0M112.5 594h0M113.5 594h0M73 594.5h0M78.5 594.5h0M79.5 594.5h0M80 594.5h0M80.5 594.5h0M83 594.5h0M84 594.5h0M85 594.5h0M85.5 594.5h0M86 594.5h0M88.5 594.5h0M89.5 594.5h0M90 594.5h0M90.5 594.5h0M91 594.5h0M92.5 594.5h0M93.5 594.5h0M94.5 594.5h0M98 594.5h0M98.5 594.5h0M102.5 594.5h0M103.5 594.5h0M105 594.5h0M109 594.5h0M119 594.5h0M68.5 595h0M72 595h0M80 595h0M80.5 595h0M81.5 595h0M86.5 595h0M87 595h0M87.5 595h0M88.5 595h0M89 595h0M92 595h0M93 595h0M94.5 595h0M97 595h0M97.5 595h0M99 595h0M100 595h0M101.5 595h0M102 595h0M105.5 595h0M106 595h0M108.5 595h0M109.5 595h0M77 595.5h0M79.5 595.5h0M80.5 595.5h0M81 595.5h0M82 595.5h0M83 595.5h0M83.5 595.5h0M85.5 595.5h0M86 595.5h0M87 595.5h0M88 595.5h0M89.5 595.5h0M90 595.5h0M93 595.5h0M93.5 595.5h0M94 595.5h0M95.5 595.5h0M96 595.5h0M97 595.5h0M98 595.5h0M99.5 595.5h0M101.5 595.5h0M102.5 595.5h0M105 595.5h0M106 595.5h0M111 595.5h0M123.5 595.5h0M71 596h0M73 596h0M76.5 596h0M79.5 596h0M80.5 596h0M83 596h0M85 596h0M85.5 596h0M86 596h0M87.5 596h0M88 596h0M89.5 596h0M90 596h0M91.5 596h0M92 596h0M93.5 596h0M94 596h0M94.5 596h0M95 596h0M95.5 596h0M96.5 596h0M97 596h0M97.5 596h0M98.5 596h0M99 596h0M101 596h0M104 596h0M105 596h0M106 596h0M108 596h0M109.5 596h0M111.5 596h0M115.5 596h0M72 596.5h0M74.5 596.5h0M75 596.5h0M75.5 596.5h0M79 596.5h0M79.5 596.5h0M81.5 596.5h0M87.5 596.5h0M88.5 596.5h0M89 596.5h0M90 596.5h0M92 596.5h0M92.5 596.5h0M93 596.5h0M94.5 596.5h0M95 596.5h0M96 596.5h0M97 596.5h0M98 596.5h0M99 596.5h0M99.5 596.5h0M100.5 596.5h0M104 596.5h0M104.5 596.5h0M105.5 596.5h0M107.5 596.5h0M108 596.5h0M114.5 596.5h0M122.5 596.5h0M65.5 597h0M71 597h0M77.5 597h0M78.5 597h0M80.5 597h0M81 597h0M83 597h0M84.5 597h0M85.5 597h0M86.5 597h0M87.5 597h0M88 597h0M88.5 597h0M89 597h0M90 597h0M90.5 597h0M91 597h0M93.5 597h0M96.5 597h0M97 597h0M98 597h0M99 597h0M100 597h0M100.5 597h0M101.5 597h0M102 597h0M118 597h0M76.5 597.5h0M78.5 597.5h0M79 597.5h0M82 597.5h0M83 597.5h0M83.5 597.5h0M84 597.5h0M85.5 597.5h0M86 597.5h0M87 597.5h0M87.5 597.5h0M89 597.5h0M90 597.5h0M91 597.5h0M91.5 597.5h0M92 597.5h0M92.5 597.5h0M93 597.5h0M93.5 597.5h0M94.5 597.5h0M95 597.5h0M95.5 597.5h0M96 597.5h0M96.5 597.5h0M97 597.5h0M97.5 597.5h0M99 597.5h0M99.5 597.5h0M101 597.5h0M103.5 597.5h0M107.5 597.5h0M112.5 597.5h0M119.5 597.5h0M67 598h0M72.5 598h0M73 598h0M73.5 598h0M74.5 598h0M77 598h0M77.5 598h0M78.5 598h0M80 598h0M82 598h0M82.5 598h0M83 598h0M83.5 598h0M85 598h0M88.5 598h0M89 598h0M89.5 598h0M92 598h0M92.5 598h0M93.5 598h0M94.5 598h0M95 598h0M95.5 598h0M96 598h0M96.5 598h0M97 598h0M97.5 598h0M99.5 598h0M100.5 598h0M102.5 598h0M66.5 598.5h0M69 598.5h0M70 598.5h0M73 598.5h0M77.5 598.5h0M79.5 598.5h0M81 598.5h0M83 598.5h0M84 598.5h0M84.5 598.5h0M85.5 598.5h0M86.5 598.5h0M87.5 598.5h0M88 598.5h0M88.5 598.5h0M91 598.5h0M92.5 598.5h0M93.5 598.5h0M94 598.5h0M95 598.5h0M99 598.5h0M101.5 598.5h0M102 598.5h0M106 598.5h0M107.5 598.5h0M113 598.5h0M118 598.5h0M121 598.5h0M61.5 599h0M71.5 599h0M76 599h0M78 599h0M79.5 599h0M81.5 599h0M83 599h0M83.5 599h0M85.5 599h0M86.5 599h0M87 599h0M87.5 599h0M90 599h0M92.5 599h0M93.5 599h0M95 599h0M95.5 599h0M97.5 599h0M98 599h0M101.5 599h0M103.5 599h0M112.5 599h0M132 599h0M69.5 599.5h0M70.5 599.5h0M71 599.5h0M76.5 599.5h0M78.5 599.5h0M80 599.5h0M81 599.5h0M82.5 599.5h0M83 599.5h0M85 599.5h0M85.5 599.5h0M86 599.5h0M86.5 599.5h0M87.5 599.5h0M93 599.5h0M93.5 599.5h0M95 599.5h0M95.5 599.5h0M96.5 599.5h0M97 599.5h0M97.5 599.5h0M99 599.5h0M99.5 599.5h0M102 599.5h0M103 599.5h0M114 599.5h0M67.5 600h0M70.5 600h0M73.5 600h0M75 600h0M76 600h0M76.5 600h0M78 600h0M79.5 600h0M80 600h0M81.5 600h0M83.5 600h0M88.5 600h0M89 600h0M90 600h0M90.5 600h0M91.5 600h0M92 600h0M96 600h0M97.5 600h0M98.5 600h0M99 600h0M100 600h0M101 600h0M101.5 600h0M102 600h0M103.5 600h0M111 600h0M69.5 600.5h0M70 600.5h0M71 600.5h0M76.5 600.5h0M77.5 600.5h0M78.5 600.5h0M79.5 600.5h0M81 600.5h0M81.5 600.5h0M82.5 600.5h0M83.5 600.5h0M84 600.5h0M86 600.5h0M86.5 600.5h0M87.5 600.5h0M88.5 600.5h0M90.5 600.5h0M92 600.5h0M93 600.5h0M94.5 600.5h0M95 600.5h0M98 600.5h0M99.5 600.5h0M100 600.5h0M101 600.5h0M104.5 600.5h0M107 600.5h0M108 600.5h0M67.5 601h0M68 601h0M73.5 601h0M76.5 601h0M78 601h0M78.5 601h0M79 601h0M79.5 601h0M82 601h0M82.5 601h0M85 601h0M86 601h0M86.5 601h0M88.5 601h0M90 601h0M92 601h0M93 601h0M94 601h0M95 601h0M95.5 601h0M97 601h0M97.5 601h0M98 601h0M99 601h0M100.5 601h0M101 601h0M102 601h0M104 601h0M71.5 601.5h0M72 601.5h0M74 601.5h0M75 601.5h0M76 601.5h0M79 601.5h0M80.5 601.5h0M81 601.5h0M81.5 601.5h0M82 601.5h0M86 601.5h0M87.5 601.5h0M88 601.5h0M88.5 601.5h0M89 601.5h0M89.5 601.5h0M90.5 601.5h0M91.5 601.5h0M92 601.5h0M92.5 601.5h0M93 601.5h0M94.5 601.5h0M99 601.5h0M100.5 601.5h0M101 601.5h0M103 601.5h0M104.5 601.5h0M112.5 601.5h0M69 602h0M69.5 602h0M71 602h0M72 602h0M75 602h0M78 602h0M78.5 602h0M79.5 602h0M81.5 602h0M83 602h0M85 602h0M88 602h0M88.5 602h0M89.5 602h0M90.5 602h0M92 602h0M93.5 602h0M94 602h0M94.5 602h0M95 602h0M95.5 602h0M96.5 602h0M99.5 602h0M100.5 602h0M103.5 602h0M105.5 602h0M107.5 602h0M109 602h0M110 602h0M117.5 602h0M66 602.5h0M68 602.5h0M70 602.5h0M71 602.5h0M71.5 602.5h0M74 602.5h0M75 602.5h0M75.5 602.5h0M76.5 602.5h0M77 602.5h0M82 602.5h0M82.5 602.5h0M83 602.5h0M83.5 602.5h0M84 602.5h0M85.5 602.5h0M86 602.5h0M86.5 602.5h0M87 602.5h0M87.5 602.5h0M88 602.5h0M88.5 602.5h0M91 602.5h0M92 602.5h0M92.5 602.5h0M93 602.5h0M94 602.5h0M94.5 602.5h0M96 602.5h0M96.5 602.5h0M98.5 602.5h0M101 602.5h0M101.5 602.5h0M102 602.5h0M103 602.5h0M116.5 602.5h0M70.5 603h0M74.5 603h0M75 603h0M76.5 603h0M77.5 603h0M79 603h0M81 603h0M81.5 603h0M83 603h0M84.5 603h0M85 603h0M85.5 603h0M86.5 603h0M87 603h0M88 603h0M89.5 603h0M90.5 603h0M91.5 603h0M93 603h0M95.5 603h0M96 603h0M97.5 603h0M98.5 603h0M99 603h0M100.5 603h0M103 603h0M104 603h0M69.5 603.5h0M71.5 603.5h0M74 603.5h0M75 603.5h0M75.5 603.5h0M76 603.5h0M76.5 603.5h0M77.5 603.5h0M78 603.5h0M78.5 603.5h0M79 603.5h0M79.5 603.5h0M81.5 603.5h0M82 603.5h0M82.5 603.5h0M83 603.5h0M83.5 603.5h0M84 603.5h0M86 603.5h0M86.5 603.5h0M87 603.5h0M87.5 603.5h0M89 603.5h0M89.5 603.5h0M92.5 603.5h0M93.5 603.5h0M94 603.5h0M96 603.5h0M97 603.5h0M98 603.5h0M98.5 603.5h0M102 603.5h0M102.5 603.5h0M103.5 603.5h0M104.5 603.5h0M105.5 603.5h0M108.5 603.5h0M70 604h0M72 604h0M74.5 604h0M75 604h0M76.5 604h0M77 604h0M77.5 604h0M79 604h0M79.5 604h0M80.5 604h0M81 604h0M82.5 604h0M83.5 604h0M84.5 604h0M85 604h0M85.5 604h0M86 604h0M88 604h0M89.5 604h0M91.5 604h0M92 604h0M92.5 604h0M93.5 604h0M96 604h0M96.5 604h0M97 604h0M99 604h0M102.5 604h0M104.5 604h0M71.5 604.5h0M72 604.5h0M74.5 604.5h0M76 604.5h0M77.5 604.5h0M78 604.5h0M79.5 604.5h0M80.5 604.5h0M81.5 604.5h0M82.5 604.5h0M83 604.5h0M84 604.5h0M85.5 604.5h0M86 604.5h0M88.5 604.5h0M89 604.5h0M90.5 604.5h0M91.5 604.5h0M93.5 604.5h0M94 604.5h0M94.5 604.5h0M96 604.5h0M100 604.5h0M103.5 604.5h0M104.5 604.5h0M109.5 604.5h0M110 604.5h0M110.5 604.5h0M121 604.5h0M72.5 605h0M73 605h0M73.5 605h0M74.5 605h0M76.5 605h0M77 605h0M77.5 605h0M78.5 605h0M79 605h0M79.5 605h0M80 605h0M80.5 605h0M81.5 605h0M82.5 605h0M84.5 605h0M86.5 605h0M87.5 605h0M88.5 605h0M89.5 605h0M91 605h0M91.5 605h0M93 605h0M94 605h0M95.5 605h0M96.5 605h0M97 605h0M99 605h0M99.5 605h0M101.5 605h0M108 605h0M68 605.5h0M71 605.5h0M75.5 605.5h0M76 605.5h0M78.5 605.5h0M80.5 605.5h0M81 605.5h0M83.5 605.5h0M84.5 605.5h0M85 605.5h0M85.5 605.5h0M87 605.5h0M88 605.5h0M89.5 605.5h0M90.5 605.5h0M91 605.5h0M91.5 605.5h0M93 605.5h0M93.5 605.5h0M94 605.5h0M94.5 605.5h0M96 605.5h0M97 605.5h0M98 605.5h0M99 605.5h0M99.5 605.5h0M100 605.5h0M101 605.5h0M101.5 605.5h0M103 605.5h0M106 605.5h0M106.5 605.5h0M107 605.5h0M110 605.5h0M67.5 606h0M70.5 606h0M72 606h0M72.5 606h0M76.5 606h0M80.5 606h0M81.5 606h0M83 606h0M83.5 606h0M84 606h0M84.5 606h0M87 606h0M88 606h0M89 606h0M89.5 606h0M90 606h0M90.5 606h0M91 606h0M91.5 606h0M92.5 606h0M94 606h0M94.5 606h0M95 606h0M96.5 606h0M99 606h0M99.5 606h0M102 606h0M103.5 606h0M104 606h0M106.5 606h0M113 606h0M65 606.5h0M68 606.5h0M69.5 606.5h0M74.5 606.5h0M75 606.5h0M76 606.5h0M77 606.5h0M77.5 606.5h0M81 606.5h0M82 606.5h0M83 606.5h0M83.5 606.5h0M84.5 606.5h0M85 606.5h0M86 606.5h0M86.5 606.5h0M88 606.5h0M88.5 606.5h0M89 606.5h0M89.5 606.5h0M91 606.5h0M92 606.5h0M92.5 606.5h0M93 606.5h0M93.5 606.5h0M95.5 606.5h0M97.5 606.5h0M100 606.5h0M103 606.5h0M105 606.5h0M105.5 606.5h0M112.5 606.5h0M115 606.5h0M123 606.5h0M74.5 607h0M78.5 607h0M82 607h0M82.5 607h0M84 607h0M84.5 607h0M85 607h0M86.5 607h0M88 607h0M88.5 607h0M89 607h0M90.5 607h0M93.5 607h0M96.5 607h0M97 607h0M98 607h0M103 607h0M106 607h0M107 607h0M108 607h0M128.5 607h0M67.5 607.5h0M69.5 607.5h0M70.5 607.5h0M71 607.5h0M76 607.5h0M79 607.5h0M81.5 607.5h0M82.5 607.5h0M83.5 607.5h0M84 607.5h0M84.5 607.5h0M85 607.5h0M86.5 607.5h0M87.5 607.5h0M88 607.5h0M89 607.5h0M90.5 607.5h0M92.5 607.5h0M95 607.5h0M96 607.5h0M96.5 607.5h0M97.5 607.5h0M98.5 607.5h0M100 607.5h0M102.5 607.5h0M103 607.5h0M104 607.5h0M105 607.5h0M109 607.5h0M113 607.5h0M63 608h0M63.5 608h0M70.5 608h0M71.5 608h0M75.5 608h0M77 608h0M80.5 608h0M83 608h0M84.5 608h0M85 608h0M86 608h0M86.5 608h0M87 608h0M89 608h0M92 608h0M93 608h0M94 608h0M94.5 608h0M95 608h0M95.5 608h0M96.5 608h0M98 608h0M101.5 608h0M103 608h0M71 608.5h0M72.5 608.5h0M73 608.5h0M74.5 608.5h0M76.5 608.5h0M78 608.5h0M78.5 608.5h0M80 608.5h0M80.5 608.5h0M86 608.5h0M86.5 608.5h0M87.5 608.5h0M91 608.5h0M92 608.5h0M92.5 608.5h0M93.5 608.5h0M94 608.5h0M95 608.5h0M97 608.5h0M97.5 608.5h0M98 608.5h0M99.5 608.5h0M100 608.5h0M100.5 608.5h0M101 608.5h0M102 608.5h0M109.5 608.5h0M110.5 608.5h0M64.5 609h0M74 609h0M75 609h0M75.5 609h0M76 609h0M79 609h0M79.5 609h0M81.5 609h0M82 609h0M83 609h0M83.5 609h0M84.5 609h0M85 609h0M86 609h0M90 609h0M91 609h0M91.5 609h0M93 609h0M94 609h0M95 609h0M98 609h0M103.5 609h0M118 609h0M62.5 609.5h0M66.5 609.5h0M67.5 609.5h0M69 609.5h0M71 609.5h0M72.5 609.5h0M75 609.5h0M75.5 609.5h0M76 609.5h0M78 609.5h0M79 609.5h0M81 609.5h0M82.5 609.5h0M83 609.5h0M83.5 609.5h0M84 609.5h0M85 609.5h0M86 609.5h0M86.5 609.5h0M89.5 609.5h0M90.5 609.5h0M91 609.5h0M92 609.5h0M93 609.5h0M94.5 609.5h0M98 609.5h0M99 609.5h0M101.5 609.5h0M102.5 609.5h0M103 609.5h0M103.5 609.5h0M104 609.5h0M110 609.5h0M125 609.5h0M62 610h0M62.5 610h0M63.5 610h0M68 610h0M69 610h0M70 610h0M70.5 610h0M74 610h0M76.5 610h0M77 610h0M77.5 610h0M79.5 610h0M81.5 610h0M82.5 610h0M85 610h0M86 610h0M87 610h0M88 610h0M88.5 610h0M89 610h0M90 610h0M91 610h0M91.5 610h0M92 610h0M94 610h0M95.5 610h0M96 610h0M99.5 610h0M105.5 610h0M116.5 610h0M68.5 610.5h0M69.5 610.5h0M75 610.5h0M75.5 610.5h0M76.5 610.5h0M78 610.5h0M79 610.5h0M80 610.5h0M80.5 610.5h0M82 610.5h0M82.5 610.5h0M84.5 610.5h0M85.5 610.5h0M86 610.5h0M86.5 610.5h0M88 610.5h0M89 610.5h0M89.5 610.5h0M90 610.5h0M91 610.5h0M93 610.5h0M94 610.5h0M98 610.5h0M98.5 610.5h0M100.5 610.5h0M108.5 610.5h0M119 610.5h0M66.5 611h0M68 611h0M70 611h0M71 611h0M71.5 611h0M73.5 611h0M74 611h0M75.5 611h0M76.5 611h0M77 611h0M78 611h0M80.5 611h0M82 611h0M83 611h0M84 611h0M85.5 611h0M86.5 611h0M87.5 611h0M88.5 611h0M89.5 611h0M90 611h0M90.5 611h0M91.5 611h0M92 611h0M92.5 611h0M93 611h0M94 611h0M95 611h0M100.5 611h0M108.5 611h0M70.5 611.5h0M71.5 611.5h0M73.5 611.5h0M75.5 611.5h0M76 611.5h0M78 611.5h0M78.5 611.5h0M79.5 611.5h0M80.5 611.5h0M81 611.5h0M81.5 611.5h0M82 611.5h0M82.5 611.5h0M83 611.5h0M85 611.5h0M85.5 611.5h0M87.5 611.5h0M89.5 611.5h0M90.5 611.5h0M91 611.5h0M92.5 611.5h0M93 611.5h0M96.5 611.5h0M99 611.5h0M103.5 611.5h0M110 611.5h0M66 612h0M71 612h0M72 612h0M74.5 612h0M77.5 612h0M78.5 612h0M79.5 612h0M82.5 612h0M83.5 612h0M85 612h0M85.5 612h0M86 612h0M86.5 612h0M87.5 612h0M88 612h0M88.5 612h0M90 612h0M95.5 612h0M97.5 612h0M102 612h0M103 612h0M66 612.5h0M70 612.5h0M71 612.5h0M74.5 612.5h0M75 612.5h0M77.5 612.5h0M78.5 612.5h0M79 612.5h0M79.5 612.5h0M80.5 612.5h0M81 612.5h0M81.5 612.5h0M83 612.5h0M84.5 612.5h0M85 612.5h0M85.5 612.5h0M87.5 612.5h0M88 612.5h0M89.5 612.5h0M91 612.5h0M93 612.5h0M98 612.5h0M99 612.5h0M99.5 612.5h0M100.5 612.5h0M101.5 612.5h0M102 612.5h0M104.5 612.5h0M106 612.5h0M109.5 612.5h0M70 613h0M70.5 613h0M71.5 613h0M72 613h0M75.5 613h0M76 613h0M77 613h0M77.5 613h0M80.5 613h0M81.5 613h0M85 613h0M85.5 613h0M86.5 613h0M87 613h0M87.5 613h0M88 613h0M92.5 613h0M93 613h0M94.5 613h0M99 613h0M103.5 613h0M106 613h0M64.5 613.5h0M66.5 613.5h0M70 613.5h0M73.5 613.5h0M76.5 613.5h0M77.5 613.5h0M79.5 613.5h0M82.5 613.5h0M83 613.5h0M84.5 613.5h0M85 613.5h0M85.5 613.5h0M86 613.5h0M86.5 613.5h0M87 613.5h0M88 613.5h0M88.5 613.5h0M89 613.5h0M89.5 613.5h0M90.5 613.5h0M91.5 613.5h0M93.5 613.5h0M94.5 613.5h0M95 613.5h0M96 613.5h0M96.5 613.5h0M97.5 613.5h0M98 613.5h0M101 613.5h0M102 613.5h0M105.5 613.5h0M110 613.5h0M111 613.5h0M65 614h0M67.5 614h0M74.5 614h0M77 614h0M77.5 614h0M80 614h0M80.5 614h0M81 614h0M83.5 614h0M87 614h0M87.5 614h0M90.5 614h0M91 614h0M93.5 614h0M94.5 614h0M96 614h0M97 614h0M98.5 614h0M102.5 614h0M105 614h0M109.5 614h0M111 614h0M69 614.5h0M72.5 614.5h0M73.5 614.5h0M75 614.5h0M78 614.5h0M78.5 614.5h0M80 614.5h0M80.5 614.5h0M81.5 614.5h0M82.5 614.5h0M83 614.5h0M83.5 614.5h0M87 614.5h0M87.5 614.5h0M91.5 614.5h0M92 614.5h0M92.5 614.5h0M93.5 614.5h0M96 614.5h0M98 614.5h0M101 614.5h0M101.5 614.5h0M67 615h0M70.5 615h0M71.5 615h0M73 615h0M73.5 615h0M74.5 615h0M75 615h0M76.5 615h0M80 615h0M81 615h0M81.5 615h0M83.5 615h0M85.5 615h0M86.5 615h0M87.5 615h0M88.5 615h0M89.5 615h0M90 615h0M90.5 615h0M93 615h0M94 615h0M94.5 615h0M96 615h0M98.5 615h0M99 615h0M104.5 615h0M64 615.5h0M65.5 615.5h0M66 615.5h0M73 615.5h0M75 615.5h0M75.5 615.5h0M76 615.5h0M78 615.5h0M80 615.5h0M80.5 615.5h0M82 615.5h0M83 615.5h0M84 615.5h0M84.5 615.5h0M85 615.5h0M86 615.5h0M86.5 615.5h0M87 615.5h0M87.5 615.5h0M88 615.5h0M89.5 615.5h0M90 615.5h0M90.5 615.5h0M91 615.5h0M94.5 615.5h0M95 615.5h0M95.5 615.5h0M97 615.5h0M100 615.5h0M103 615.5h0M62.5 616h0M66 616h0M68 616h0M69.5 616h0M70 616h0M78 616h0M78.5 616h0M79 616h0M79.5 616h0M82 616h0M82.5 616h0M83 616h0M84 616h0M84.5 616h0M85.5 616h0M86 616h0M86.5 616h0M88 616h0M90 616h0M91 616h0M92 616h0M93.5 616h0M97 616h0M99.5 616h0M100.5 616h0M101 616h0M102 616h0M63 616.5h0M64 616.5h0M69 616.5h0M70 616.5h0M72 616.5h0M72.5 616.5h0M73 616.5h0M74.5 616.5h0M75 616.5h0M76 616.5h0M76.5 616.5h0M82 616.5h0M84.5 616.5h0M85 616.5h0M86 616.5h0M87 616.5h0M89 616.5h0M90 616.5h0M92 616.5h0M93 616.5h0M93.5 616.5h0M97 616.5h0M98 616.5h0M105.5 616.5h0M115 616.5h0M63.5 617h0M71.5 617h0M75 617h0M77 617h0M77.5 617h0M78.5 617h0M79 617h0M82.5 617h0M84.5 617h0M87.5 617h0M88 617h0M91 617h0M92 617h0M93.5 617h0M94 617h0M94.5 617h0M95.5 617h0M102.5 617h0M110.5 617h0M71.5 617.5h0M74 617.5h0M75.5 617.5h0M77 617.5h0M80 617.5h0M82.5 617.5h0M83.5 617.5h0M84 617.5h0M85 617.5h0M86 617.5h0M86.5 617.5h0M89 617.5h0M89.5 617.5h0M90 617.5h0M92 617.5h0M92.5 617.5h0M93 617.5h0M94.5 617.5h0M95 617.5h0M95.5 617.5h0M104 617.5h0M63.5 618h0M66 618h0M70 618h0M72 618h0M72.5 618h0M79 618h0M80.5 618h0M81 618h0M82 618h0M82.5 618h0M83.5 618h0M85.5 618h0M86 618h0M93.5 618h0M95.5 618h0M96.5 618h0M98 618h0M105 618h0M118 618h0M65 618.5h0M66 618.5h0M69 618.5h0M70.5 618.5h0M71.5 618.5h0M73 618.5h0M76.5 618.5h0M77 618.5h0M78 618.5h0M80.5 618.5h0M81 618.5h0M82.5 618.5h0M83 618.5h0M83.5 618.5h0M84 618.5h0M87 618.5h0M87.5 618.5h0M88 618.5h0M88.5 618.5h0M91 618.5h0M91.5 618.5h0M92 618.5h0M93 618.5h0M97.5 618.5h0M104.5 618.5h0M107.5 618.5h0M65 619h0M71.5 619h0M74.5 619h0M75.5 619h0M76 619h0M76.5 619h0M77.5 619h0M78.5 619h0M79 619h0M79.5 619h0M80.5 619h0M81.5 619h0M82.5 619h0M84 619h0M84.5 619h0M88.5 619h0M94.5 619h0M97.5 619h0M101 619h0M103 619h0M63 619.5h0M67 619.5h0M73.5 619.5h0M74 619.5h0M75.5 619.5h0M76 619.5h0M77 619.5h0M77.5 619.5h0M78.5 619.5h0M80 619.5h0M80.5 619.5h0M81 619.5h0M81.5 619.5h0M83 619.5h0M84 619.5h0M85 619.5h0M89 619.5h0M92.5 619.5h0M97.5 619.5h0M62 620h0M66.5 620h0M71 620h0M71.5 620h0M72.5 620h0M74 620h0M76.5 620h0M79.5 620h0M81.5 620h0M82.5 620h0M83 620h0M83.5 620h0M85 620h0M85.5 620h0M87.5 620h0M89 620h0M89.5 620h0M90 620h0M91.5 620h0M94.5 620h0M97.5 620h0M102 620h0M66 620.5h0M73 620.5h0M74 620.5h0M77.5 620.5h0M78.5 620.5h0M82 620.5h0M85 620.5h0M86.5 620.5h0M87.5 620.5h0M89 620.5h0M91 620.5h0M91.5 620.5h0M95 620.5h0M97 620.5h0M99.5 620.5h0M102 620.5h0M103 620.5h0M113 620.5h0M61.5 621h0M67 621h0M68 621h0M68.5 621h0M69 621h0M72 621h0M72.5 621h0M74.5 621h0M75.5 621h0M76 621h0M79 621h0M81 621h0M81.5 621h0M84 621h0M87.5 621h0M90.5 621h0M91 621h0M91.5 621h0M92 621h0M92.5 621h0M93.5 621h0M96.5 621h0M109.5 621h0M116.5 621h0M63 621.5h0M68 621.5h0M75.5 621.5h0M79.5 621.5h0M81 621.5h0M82 621.5h0M84.5 621.5h0M85 621.5h0M85.5 621.5h0M87.5 621.5h0M90.5 621.5h0M91.5 621.5h0M93 621.5h0M97.5 621.5h0M98 621.5h0M101.5 621.5h0M103.5 621.5h0M104 621.5h0M61.5 622h0M65 622h0M69.5 622h0M72.5 622h0M74.5 622h0M76 622h0M77 622h0M77.5 622h0M87.5 622h0M89.5 622h0M90 622h0M93.5 622h0M95.5 622h0M103.5 622h0M104.5 622h0M108.5 622h0M61.5 622.5h0M64.5 622.5h0M66.5 622.5h0M70.5 622.5h0M74.5 622.5h0M75.5 622.5h0M76 622.5h0M78.5 622.5h0M81 622.5h0M82 622.5h0M83 622.5h0M84.5 622.5h0M86.5 622.5h0M87.5 622.5h0M88.5 622.5h0M89 622.5h0M94.5 622.5h0M95 622.5h0M98 622.5h0M99.5 622.5h0M114 622.5h0M115.5 622.5h0M68.5 623h0M69 623h0M71.5 623h0M72 623h0M73 623h0M76.5 623h0M77.5 623h0M78 623h0M80.5 623h0M83 623h0M86 623h0M86.5 623h0M89 623h0M90.5 623h0M92.5 623h0M94.5 623h0M96.5 623h0M97 623h0M98 623h0M67.5 623.5h0M68 623.5h0M70 623.5h0M71 623.5h0M72 623.5h0M76 623.5h0M76.5 623.5h0M77 623.5h0M78.5 623.5h0M79.5 623.5h0M80.5 623.5h0M84.5 623.5h0M86.5 623.5h0M87 623.5h0M87.5 623.5h0M90 623.5h0M105.5 623.5h0M110.5 623.5h0M67 624h0M74.5 624h0M75.5 624h0M78 624h0M82.5 624h0M84.5 624h0M85.5 624h0M87.5 624h0M88 624h0M91 624h0M94 624h0M95 624h0M103.5 624h0M61.5 624.5h0M62 624.5h0M64.5 624.5h0M70 624.5h0M71 624.5h0M74 624.5h0M80.5 624.5h0M81.5 624.5h0M82.5 624.5h0M84.5 624.5h0M88 624.5h0M89 624.5h0M92 624.5h0M68.5 625h0M69 625h0M69.5 625h0M70.5 625h0M72.5 625h0M73.5 625h0M75 625h0M77.5 625h0M78 625h0M79 625h0M81.5 625h0M82.5 625h0M83 625h0M88 625h0M91.5 625h0M92 625h0M101 625h0M102.5 625h0M107 625h0M65.5 625.5h0M67.5 625.5h0M71 625.5h0M73 625.5h0M79.5 625.5h0M80.5 625.5h0M81 625.5h0M82 625.5h0M88.5 625.5h0M89.5 625.5h0M92.5 625.5h0M93 625.5h0M95.5 625.5h0M99 625.5h0M100 625.5h0M106 625.5h0M64 626h0M65.5 626h0M75 626h0M76.5 626h0M78 626h0M80 626h0M82.5 626h0M86 626h0M87.5 626h0M89 626h0M92.5 626h0M95 626h0M97.5 626h0M104 626h0M65.5 626.5h0M68.5 626.5h0M69 626.5h0M70 626.5h0M70.5 626.5h0M71 626.5h0M75.5 626.5h0M76 626.5h0M76.5 626.5h0M80 626.5h0M83.5 626.5h0M88 626.5h0M90 626.5h0M92.5 626.5h0M96 626.5h0M105 626.5h0M61.5 627h0M68.5 627h0M70.5 627h0M72.5 627h0M73 627h0M74 627h0M74.5 627h0M75.5 627h0M76.5 627h0M79 627h0M80 627h0M82 627h0M86.5 627h0M95.5 627h0M118 627h0M65 627.5h0M69.5 627.5h0M71.5 627.5h0M73.5 627.5h0M75 627.5h0M84 627.5h0M87 627.5h0M88 627.5h0M98.5 627.5h0M62 628h0M70 628h0M77 628h0M82.5 628h0M93 628h0M95 628h0M96.5 628h0M97.5 628h0M69 628.5h0M69.5 628.5h0M73.5 628.5h0M78 628.5h0M83 628.5h0M86.5 628.5h0M92.5 628.5h0M100 628.5h0M107 628.5h0M61.5 629h0M76 629h0M80.5 629h0M82.5 629h0M90.5 629h0M111.5 629h0M62.5 629.5h0M67 629.5h0M72.5 629.5h0M76.5 629.5h0M80 629.5h0M81 629.5h0M83.5 629.5h0M88 629.5h0M91.5 629.5h0M94 629.5h0M94.5 629.5h0M104.5 629.5h0M106 629.5h0M65.5 630h0M68.5 630h0M74 630h0M75 630h0M76.5 630h0M78 630h0M79.5 630h0M80 630h0M81 630h0M85.5 630h0M86 630h0M86.5 630h0M88.5 630h0M89.5 630h0M91.5 630h0M66.5 630.5h0M70.5 630.5h0M71 630.5h0M72 630.5h0M72.5 630.5h0M74.5 630.5h0M83 630.5h0M84 630.5h0M84.5 630.5h0M87 630.5h0M89.5 630.5h0M90 630.5h0M91 630.5h0M113.5 630.5h0M61.5 631h0M64 631h0M67.5 631h0M72 631h0M76 631h0M77.5 631h0M79.5 631h0M82.5 631h0M85 631h0M109 631h0M115.5 631h0M65 631.5h0M68.5 631.5h0M70 631.5h0M72 631.5h0M74 631.5h0M82.5 631.5h0M84 631.5h0M87.5 631.5h0M89.5 631.5h0M91 631.5h0M97.5 631.5h0M100 631.5h0M111 631.5h0M78.5 632h0M81 632h0M83 632h0M85.5 632h0M88 632h0M90.5 632h0M93 632h0M93.5 632h0M94.5 632h0M96 632h0M98.5 632h0M100.5 632h0M111 632h0M61.5 632.5h0M71.5 632.5h0M76 632.5h0M79 632.5h0M81 632.5h0M85 632.5h0M85.5 632.5h0M86.5 632.5h0M89 632.5h0M98.5 632.5h0M65 633h0M69 633h0M81.5 633h0M84 633h0M92 633h0M132 633h0M63 633.5h0M74.5 633.5h0M75 633.5h0M80.5 633.5h0M83 633.5h0M86 633.5h0M95 633.5h0M96 633.5h0M110.5 633.5h0M65 634h0M68.5 634h0M74 634h0M75 634h0M78.5 634h0M90.5 634h0M95 634h0M99.5 634h0M113.5 634h0M68 634.5h0M73 634.5h0M78.5 634.5h0M87.5 634.5h0M89.5 634.5h0M70 635h0M71 635h0M71.5 635h0M81.5 635h0M83.5 635h0M89.5 635h0M90.5 635h0M95 635h0M103.5 635h0M77 635.5h0M81.5 635.5h0M90.5 635.5h0M96 635.5h0M70 636h0M74 636h0M75.5 636h0M103 636h0M108 636h0M65.5 636.5h0M68.5 636.5h0M70.5 636.5h0M76 636.5h0M86 636.5h0M100.5 636.5h0M102.5 636.5h0M82 637h0M82.5 637h0M86 637h0M88.5 637h0M67.5 637.5h0M68.5 637.5h0M76 637.5h0M82 637.5h0M93.5 637.5h0M61.5 638h0M62 638h0M77.5 638h0M90.5 638h0M94.5 638h0M100 638h0M69.5 638.5h0M71.5 638.5h0M76.5 638.5h0M82 638.5h0M67.5 639h0M78 639h0M81.5 639h0M116.5 639h0M118 639h0M71 639.5h0M79 639.5h0M88.5 639.5h0M89 639.5h0M67 640h0M68.5 640h0M69 640h0M75.5 640h0M79.5 640h0M81 640h0M82.5 640h0M89 640h0M89.5 640h0M96.5 640h0M126 640h0M63 640.5h0M70.5 640.5h0M71.5 640.5h0M75.5 640.5h0M79 640.5h0M79.5 640.5h0M82.5 640.5h0M90 640.5h0M78 641h0M78.5 641h0M83 641h0M94.5 641h0M81.5 641.5h0M71.5 642h0M77 642h0M85 642h0M99 642h0M76 642.5h0M82.5 642.5h0M83.5 642.5h0M85 642.5h0M74 643h0M79 643h0M89.5 643h0M71 643.5h0M84 643.5h0M87 643.5h0M88.5 643.5h0M92.5 643.5h0M116.5 643.5h0M87.5 644h0M97.5 644h0M62 644.5h0M86 644.5h0M106.5 644.5h0M90 645h0M96 645h0M103 645h0M104 645h0M150 645h0M62 645.5h0M74 645.5h0M77.5 645.5h0M81.5 645.5h0M90 645.5h0M101.5 645.5h0M87.5 646h0M64.5 646.5h0M75.5 646.5h0M106 646.5h0M76 647h0M86 647h0M94.5 647h0M101 647h0M67 647.5h0M92.5 647.5h0M87 648h0M91.5 648h0M99.5 648h0M113 648h0M73.5 648.5h0M86.5 648.5h0M102.5 648.5h0M78 649h0M85 649h0M92 649h0M114 649h0M125 649h0M74.5 649.5h0M76 649.5h0M84 649.5h0M79 650h0M86 650h0M88 650h0M93.5 650h0M123 650h0M81 650.5h0M86.5 650.5h0M95 650.5h0M101.5 650.5h0M96 651h0M115.5 651h0M83.5 651.5h0M88.5 651.5h0M93.5 651.5h0M108 651.5h0M125 651.5h0M66.5 652h0M77.5 652h0M87.5 652h0M90 652h0M91 652h0M85 652.5h0M95 652.5h0M80 653h0M86 653h0M105.5 653h0M86 653.5h0M118.5 653.5h0M92.5 654h0M100.5 654h0M107 654h0M110 654h0M125.5 654h0M84.5 654.5h0M102 654.5h0M88 655h0M90 655h0M92.5 655h0M87.5 655.5h0M64 656h0M82.5 656h0M83.5 656h0M108 656h0M64.5 656.5h0M90 656.5h0M92 656.5h0M97.5 656.5h0M104 656.5h0M67.5 657h0M103 657h0M77 657.5h0M83 657.5h0M94 657.5h0M72 658h0M74.5 658h0M80.5 658h0M99.5 658h0M101.5 658h0M112 658h0M116 658h0M81.5 658.5h0M89 658.5h0M89.5 658.5h0M104 658.5h0M89 659h0M91 659h0M80 659.5h0M90.5 659.5h0M92 659.5h0M67 660h0M89.5 660h0M94 660h0M98 660.5h0M103 660.5h0M111 660.5h0M97.5 661h0M106.5 661h0M107 661h0M111 661h0M121 661h0M85.5 661.5h0M109.5 661.5h0M110.5 661.5h0M103 662h0M117 662h0M90 662.5h0M96 662.5h0M107 662.5h0M108.5 662.5h0M82 663h0M91.5 663h0M101 663h0M78 663.5h0M78.5 663.5h0M83.5 663.5h0M103 663.5h0M110 663.5h0M80 664h0M89 664h0M100 664h0M109 664h0M113.5 664h0M92 664.5h0M96.5 664.5h0M82 665h0M91.5 665h0M98 665h0M101 665h0M70 666h0M91.5 666h0M104 666h0M105.5 666h0M111.5 666h0M74.5 666.5h0M88.5 666.5h0M101.5 666.5h0M103 666.5h0M109.5 666.5h0M122 666.5h0M89.5 667h0M90 667h0M90.5 667h0M101.5 667h0M108.5 667h0M114 667h0M116 667h0M94 667.5h0M67 668h0M74 668h0M72 668.5h0M90 668.5h0M92 668.5h0M95.5 668.5h0M107.5 668.5h0M109 668.5h0M86.5 669h0M87 669h0M98 669h0M88 669.5h0M107 669.5h0M110.5 669.5h0M85.5 670h0M102.5 670h0M79.5 670.5h0M107 670.5h0M77.5 671h0M103 671h0M80 671.5h0M76 672h0M115 672h0M75.5 672.5h0M76 672.5h0M95 672.5h0M96 672.5h0M97.5 672.5h0M67.5 673h0M77.5 673h0M103.5 673h0M109.5 673h0M62.5 673.5h0M80 673.5h0M92 673.5h0M112.5 673.5h0M117.5 673.5h0M99.5 674h0M102 674h0M113.5 674.5h0M75 675h0M113 675h0M96 675.5h0M100.5 675.5h0M101.5 675.5h0M111 675.5h0M88 676h0M91 676h0M94 676h0M119.5 676h0M71 676.5h0M88.5 676.5h0M101 676.5h0M101.5 676.5h0M102 676.5h0M78.5 677h0M101.5 677h0M103.5 677h0M73 677.5h0M77.5 677.5h0M92 677.5h0M78 678h0M80.5 678h0M107 678h0M83 678.5h0M87.5 678.5h0M93 678.5h0M65.5 679h0M84 679h0M98 679h0M105 679h0M107.5 679h0M104 679.5h0M107.5 679.5h0M108.5 679.5h0M75 680h0M76.5 680h0M90 680h0M93.5 680h0M113.5 680h0M132.5 680h0M85 680.5h0M98 680.5h0M101 680.5h0M109 680.5h0M78 681h0M94 681h0M106.5 681h0M71.5 681.5h0M87 681.5h0M92.5 681.5h0M110.5 681.5h0M69.5 682.5h0M71 682.5h0M89 682.5h0M94.5 682.5h0M97 682.5h0M106 682.5h0M123 682.5h0M69.5 683h0M88.5 683h0M92 683h0M88 683.5h0M108 683.5h0M75 684h0M98 684h0M107.5 684h0M79 684.5h0M86 684.5h0M91.5 684.5h0M84 685h0M94.5 685h0M97.5 685h0M80 685.5h0M83.5 685.5h0M90.5 685.5h0M95 685.5h0M90.5 686h0M86 686.5h0M102.5 686.5h0M65.5 687h0M94.5 687h0M99 687h0M108 687h0M93 687.5h0M93.5 687.5h0M128.5 687.5h0M133 687.5h0M78.5 688h0M109 688h0M83.5 688.5h0M113 688.5h0M114 688.5h0M67.5 689h0M79 689h0M86 689h0M87.5 689h0M82.5 689.5h0M126.5 689.5h0M76.5 690h0M92.5 690h0M130 690h0M96 690.5h0M107.5 691h0M67 691.5h0M113.5 691.5h0M95.5 692h0M69.5 692.5h0M83.5 692.5h0M93.5 692.5h0M78 693h0M90 693h0M62 693.5h0M102 693.5h0M103.5 693.5h0M81 694h0M112.5 694h0M72.5 694.5h0M88.5 695h0M94 695h0M102 695h0M108 695h0M67 695.5h0M80 695.5h0M100 695.5h0M103.5 695.5h0M81.5 696h0M101 696h0M114 696h0M87 696.5h0M95.5 696.5h0M96 696.5h0M95 697h0M109.5 697h0M69.5 697.5h0M93 697.5h0M96 697.5h0M99 697.5h0M79.5 698h0M86 698h0M92 698h0M92.5 698h0M93 698h0M103 698h0M105.5 698h0M73 698.5h0M91.5 698.5h0M97 698.5h0M104 698.5h0M82 699h0M82.5 699h0M86 699h0M88 699h0M89.5 699h0M97 699h0M110.5 699h0M87.5 699.5h0M92.5 699.5h0M104 699.5h0M99.5 700h0M100 700h0M95.5 700.5h0M104.5 700.5h0M78 701h0M104.5 701h0M72 701.5h0M80.5 701.5h0M91.5 702h0M84 702.5h0M86 702.5h0M91.5 702.5h0M81 703h0M86.5 703h0M93.5 703h0M75.5 703.5h0M99 703.5h0M105.5 703.5h0M104.5 704h0M69 704.5h0M77 705h0M88.5 705h0M103.5 705h0M76.5 705.5h0M74 706h0M81.5 706h0M92 706h0M67.5 706.5h0M78.5 706.5h0M90 706.5h0M95.5 706.5h0M99 706.5h0M103.5 707h0M88 707.5h0M86.5 708h0M88 708.5h0M91.5 708.5h0M106 708.5h0M85.5 709h0M91.5 709h0M94 709h0M97 709h0M97.5 709h0M100 709h0M101 709h0M107 709h0M115 709h0M82 709.5h0M100 709.5h0M106.5 709.5h0M86 710.5h0M106.5 710.5h0M62.5 711h0M90 711h0M107.5 711.5h0M98 712.5h0M101.5 712.5h0M109.5 712.5h0M77 713h0M87.5 713h0M80 714h0M88 714h0M84.5 715h0M85.5 715h0M72 715.5h0M94 715.5h0M106 715.5h0M81.5 716h0M101 716.5h0M99 717h0M95.5 718h0M103 719.5h0M103.5 719.5h0M97.5 721h0M98 721h0M77 722h0M95.5 723h0M118 723h0M106.5 723.5h0M107.5 725h0" stroke="#141414" stroke-width="1.32" stroke-linecap="round" fill="none"/>
<path d="M210 564h0M182 566.5h0M213 569h0M153.5 572h0M248 575.5h0M216.5 577.5h0M173 580.5h0M157.5 581h0M172 581.5h0M180 581.5h0M236 581.5h0M169 582.5h0M172 582.5h0M231.5 582.5h0M170.5 583.5h0M188 585h0M240.5 585h0M247 585.5h0M183 586h0M154 588h0M217 588h0M174.5 588.5h0M140.5 589h0M168.5 589.5h0M167 590h0M201.5 590h0M158.5 591h0M165 591h0M208 592h0M159.5 592.5h0M163.5 592.5h0M197 593h0M227 593h0M162.5 593.5h0M172.5 594h0M143.5 594.5h0M185 594.5h0M198.5 594.5h0M126 595h0M175 595h0M213.5 595h0M175 596h0M146 596.5h0M138.5 597h0M163.5 597h0M156.5 598h0M170.5 598.5h0M123.5 599h0M131 599h0M199.5 599h0M160 599.5h0M183 599.5h0M197 599.5h0M152 600h0M181.5 600h0M170.5 600.5h0M159 601h0M189 601h0M205.5 601h0M172.5 602h0M175.5 602h0M180 602.5h0M191 602.5h0M132 603h0M149.5 603h0M162.5 603h0M144.5 604h0M150.5 604h0M162.5 604h0M167.5 604h0M180.5 604h0M188.5 604h0M145.5 604.5h0M148 604.5h0M151.5 604.5h0M179 604.5h0M188 604.5h0M157 605h0M185.5 605h0M166 605.5h0M168.5 605.5h0M185 605.5h0M182 606.5h0M192 606.5h0M155.5 607h0M196.5 607h0M130.5 607.5h0M151.5 608h0M175 608h0M153.5 608.5h0M164.5 609h0M178 609h0M120.5 609.5h0M149 609.5h0M124 610h0M126.5 610h0M139.5 610h0M149.5 610h0M157 610h0M187.5 610h0M211 610h0M127.5 611.5h0M185 611.5h0M159.5 612h0M183.5 612.5h0M147 613h0M159 613h0M203 613h0M130.5 613.5h0M144.5 613.5h0M179.5 613.5h0M193.5 613.5h0M155 614h0M171.5 614h0M126.5 614.5h0M153.5 614.5h0M164.5 614.5h0M173.5 614.5h0M155.5 615h0M171.5 615h0M179.5 615h0M143.5 616h0M153 616h0M167 616h0M178.5 616h0M188 616h0M199 616h0M137 616.5h0M141.5 616.5h0M143 616.5h0M145.5 616.5h0M157 616.5h0M157.5 616.5h0M129 617h0M139.5 617h0M161 617h0M165 617h0M156 617.5h0M157.5 617.5h0M164 617.5h0M176.5 617.5h0M134.5 618h0M174 618h0M117 618.5h0M149 618.5h0M161 618.5h0M168.5 618.5h0M122.5 619h0M128.5 619h0M152.5 619h0M163.5 619h0M164 619h0M183 619h0M195.5 619h0M147.5 619.5h0M151.5 619.5h0M171 620h0M135.5 620.5h0M138.5 620.5h0M140 620.5h0M142.5 620.5h0M145.5 620.5h0M147.5 620.5h0M152 620.5h0M169 620.5h0M119.5 621h0M146.5 621h0M169.5 621h0M202.5 621h0M122 621.5h0M152 621.5h0M155.5 621.5h0M160.5 621.5h0M163.5 621.5h0M175 621.5h0M176 621.5h0M126 622h0M157 622h0M158.5 622h0M159 622h0M161 622.5h0M146.5 623h0M120 623.5h0M128.5 623.5h0M143 623.5h0M148.5 623.5h0M173 623.5h0M202.5 623.5h0M123.5 624h0M132 624h0M139 624h0M171 624h0M160 624.5h0M194.5 624.5h0M151.5 625h0M183.5 625h0M198.5 625h0M158.5 625.5h0M133 626h0M134 626h0M137.5 626h0M139 626h0M152.5 626h0M176 626h0M137 626.5h0M143.5 626.5h0M144.5 626.5h0M152.5 626.5h0M133.5 627h0M134.5 627h0M143.5 627h0M166 627h0M171.5 627h0M183.5 627h0M142.5 627.5h0M161 627.5h0M169 627.5h0M135 628h0M144.5 628h0M147.5 628h0M182.5 628h0M115 628.5h0M121 628.5h0M134.5 628.5h0M179 628.5h0M137 629h0M139.5 629h0M147.5 629h0M161.5 629h0M183.5 629h0M124 629.5h0M124.5 629.5h0M141.5 629.5h0M165 629.5h0M124.5 630h0M162.5 630h0M175.5 630h0M179.5 630.5h0M137 631h0M156.5 631h0M122.5 631.5h0M157.5 631.5h0M122.5 632h0M123.5 632h0M128 632h0M151 632h0M157.5 632h0M162 632h0M170.5 632h0M128.5 632.5h0M161 632.5h0M165 632.5h0M141 633h0M145.5 633h0M158.5 633h0M176.5 633h0M194.5 633h0M195 633h0M122.5 633.5h0M130.5 633.5h0M139.5 633.5h0M147 633.5h0M148 633.5h0M156.5 633.5h0M199.5 633.5h0M141 634h0M146 634h0M147 634h0M154.5 634.5h0M132 635h0M133.5 635h0M153.5 635h0M159 635h0M185.5 635h0M135 635.5h0M146 635.5h0M124.5 636h0M130.5 636h0M148 636h0M156 636h0M123 636.5h0M123.5 636.5h0M128.5 636.5h0M146.5 636.5h0M150 636.5h0M169.5 636.5h0M180 636.5h0M186 636.5h0M116 637h0M119.5 637h0M128.5 637h0M133.5 637h0M136.5 637h0M138.5 637h0M159 637h0M174.5 637h0M125 637.5h0M150.5 637.5h0M132 638.5h0M137.5 638.5h0M143 638.5h0M143.5 638.5h0M147.5 638.5h0M122 639h0M140 639h0M149.5 639h0M185.5 639h0M186.5 639h0M125 639.5h0M149.5 639.5h0M154.5 639.5h0M175.5 639.5h0M128.5 640h0M134.5 640h0M150 640h0M161 640h0M162 640h0M165 640h0M177 640h0M129 640.5h0M131 640.5h0M134 640.5h0M138 640.5h0M118 641h0M128.5 641h0M148 641h0M155 641h0M159.5 641.5h0M161 641.5h0M164 641.5h0M132 642h0M136 642h0M142 642h0M143 642h0M154.5 642h0M172 642h0M175 642h0M125 642.5h0M143.5 642.5h0M149 642.5h0M130.5 643h0M137 643h0M146.5 643h0M148 643h0M138.5 643.5h0M140 643.5h0M146.5 643.5h0M156 643.5h0M162 643.5h0M167 643.5h0M175.5 643.5h0M138 644h0M138.5 644h0M149 644h0M152 644h0M153 644h0M191.5 644h0M119 644.5h0M123 644.5h0M136 644.5h0M111 645h0M144.5 645h0M150.5 645h0M127 645.5h0M145 645.5h0M148.5 645.5h0M150.5 645.5h0M154.5 645.5h0M158 645.5h0M164 645.5h0M165 645.5h0M117 646h0M129 646h0M152 646h0M127.5 646.5h0M142.5 646.5h0M151.5 646.5h0M184.5 646.5h0M114 647h0M139 647h0M142 647.5h0M116 648h0M140.5 648h0M146.5 648h0M177 648h0M116 648.5h0M126.5 648.5h0M136 648.5h0M153 648.5h0M162.5 648.5h0M176 648.5h0M136 649h0M137 649h0M141.5 649h0M119.5 649.5h0M139.5 649.5h0M113.5 650h0M123.5 650h0M127.5 650h0M130 650h0M149.5 650.5h0M132.5 651h0M136.5 651h0M141 651h0M150.5 651h0M167.5 651h0M130.5 651.5h0M148.5 651.5h0M128 652h0M130 652h0M132 652h0M133 652h0M161.5 652h0M119.5 652.5h0M130 652.5h0M134.5 652.5h0M135.5 652.5h0M150.5 652.5h0M153 652.5h0M124 653h0M125 653h0M132 653h0M138 653h0M154 653h0M198.5 653h0M125.5 653.5h0M127 653.5h0M128 653.5h0M133.5 653.5h0M136.5 653.5h0M160.5 653.5h0M113.5 654h0M133.5 654h0M143 654h0M146.5 654h0M124.5 654.5h0M127.5 654.5h0M128 654.5h0M135 654.5h0M140.5 654.5h0M148 654.5h0M179 655h0M119 655.5h0M129 655.5h0M132.5 655.5h0M135.5 655.5h0M140 655.5h0M117.5 656h0M125 656h0M130 656h0M137 656h0M128.5 656.5h0M133 656.5h0M137.5 657h0M145.5 657h0M149.5 657h0M151 657h0M122.5 657.5h0M128.5 657.5h0M136 657.5h0M122.5 658h0M132 658h0M135.5 658h0M140 658h0M111 658.5h0M138.5 658.5h0M140.5 658.5h0M111.5 659h0M113.5 659h0M114 659h0M117.5 659h0M122 659h0M126.5 659h0M130.5 659h0M136.5 659h0M137 659h0M130 659.5h0M149.5 659.5h0M176.5 659.5h0M121.5 660h0M132 660h0M143 660h0M145.5 660h0M121 660.5h0M121.5 660.5h0M129 660.5h0M128.5 661h0M130.5 661h0M131 661h0M132.5 661h0M133 661h0M133.5 661h0M120.5 661.5h0M132 661.5h0M135.5 661.5h0M145 661.5h0M150.5 661.5h0M121 662h0M128 662h0M135 662h0M117.5 662.5h0M118.5 662.5h0M133.5 662.5h0M148.5 662.5h0M111.5 663h0M120 663h0M125 663h0M126 663h0M143.5 663h0M126.5 663.5h0M131.5 663.5h0M135 663.5h0M121 664h0M141 664h0M158.5 664h0M124 664.5h0M130.5 664.5h0M149 664.5h0M117 665h0M129 665h0M130.5 665h0M157 665h0M112 665.5h0M116.5 665.5h0M128 665.5h0M133 665.5h0M134 665.5h0M147.5 665.5h0M116.5 666h0M122 666h0M158 666h0M117.5 666.5h0M118 667h0M157.5 667.5h0M114.5 668h0M131.5 668h0M158 668h0M121.5 668.5h0M113.5 669h0M129.5 669h0M131.5 669h0M111.5 669.5h0M129 669.5h0M130.5 669.5h0M141.5 669.5h0M121.5 670h0M124 670h0M133.5 670h0M111.5 670.5h0M124 670.5h0M132 670.5h0M144 670.5h0M146.5 670.5h0M131 671h0M116.5 671.5h0M122.5 671.5h0M124.5 671.5h0M128.5 671.5h0M137 671.5h0M148 671.5h0M156 671.5h0M124.5 672h0M115 672.5h0M121.5 672.5h0M125 672.5h0M126 672.5h0M120 673.5h0M117 674h0M138 675h0M125.5 675.5h0M115.5 676h0M122.5 676h0M122.5 676.5h0M133 676.5h0M135 676.5h0M141 676.5h0M111.5 677.5h0M114 677.5h0M117.5 678h0M130.5 678h0M138.5 678h0M123 679h0M130 679h0M129.5 680h0M136.5 680h0M156 680h0M118 680.5h0M112.5 681h0M116 681h0M124.5 681h0M130.5 681.5h0M116 682h0M123.5 682h0M125 682h0M127.5 682h0M129 682.5h0M167.5 682.5h0M121 683h0M139 683h0M122 683.5h0M127.5 683.5h0M134 683.5h0M160 683.5h0M145 684h0M123 685h0M146 685h0M117 685.5h0M192.5 686.5h0M123.5 687h0M128 687.5h0M118 689.5h0M198 689.5h0M113 690h0M139 690h0M190.5 690h0M121 690.5h0M116 692.5h0M132 692.5h0M131 694.5h0M125.5 698h0M121 699h0M125.5 701.5h0M159 701.5h0M128.5 704h0M143.5 712h0M187 713h0M125.5 715.5h0M158 718h0M112.5 721h0M181 722.5h0M153 725h0" stroke="#262626" stroke-width="1.26" stroke-linecap="round" fill="none"/>
<rect x="60.4" y="535.5" width="208.1" height="190.9" fill="none" stroke="#333" stroke-width="1.1"/>
<path d="M110.5 535.5V726.4M60.4 679.4H268.5" stroke="#2a2a2a" stroke-width="1.1" fill="none"/>
<path d="M75.4 726.4v3.2M84.6 726.4v3.2M91.1 726.4v3.2M96.2 726.4v3.2M100.3 726.4v3.2M103.8 726.4v3.2M106.8 726.4v3.2M109.5 726.4v3.2M111.9 726.4v7M127.6 726.4v3.2M136.8 726.4v3.2M143.3 726.4v3.2M148.4 726.4v3.2M152.5 726.4v3.2M156.0 726.4v3.2M159.0 726.4v3.2M161.7 726.4v3.2M164.1 726.4v7M179.8 726.4v3.2M189.0 726.4v3.2M195.5 726.4v3.2M200.6 726.4v3.2M204.7 726.4v3.2M208.2 726.4v3.2M211.2 726.4v3.2M213.9 726.4v3.2M216.3 726.4v7M232.0 726.4v3.2M241.2 726.4v3.2M247.7 726.4v3.2M252.8 726.4v3.2M256.9 726.4v3.2M260.4 726.4v3.2M263.4 726.4v3.2M266.1 726.4v3.2M268.5 726.4v7" stroke="#222" stroke-width="1.2" fill="none"/>
<path d="M60.4 712.9h-3.8M60.4 704.4h-3.8M60.4 698.4h-3.8M60.4 693.8h-3.8M60.4 690.0h-3.8M60.4 686.8h-3.8M60.4 684.0h-3.8M60.4 681.5h-3.8M60.4 679.4h-7.7M60.4 664.9h-3.8M60.4 656.5h-3.8M60.4 650.5h-3.8M60.4 645.8h-3.8M60.4 642.0h-3.8M60.4 638.8h-3.8M60.4 636.0h-3.8M60.4 633.6h-3.8M60.4 631.4h-7.7M60.4 617.0h-3.8M60.4 608.5h-3.8M60.4 602.5h-3.8M60.4 597.9h-3.8M60.4 594.1h-3.8M60.4 590.9h-3.8M60.4 588.1h-3.8M60.4 585.6h-3.8M60.4 583.5h-7.7M60.4 569.0h-3.8M60.4 560.6h-3.8M60.4 554.6h-3.8M60.4 549.9h-3.8M60.4 546.1h-3.8M60.4 542.9h-3.8M60.4 540.1h-3.8M60.4 537.7h-3.8M60.4 535.5h-7.7" stroke="#222" stroke-width="1.2" fill="none"/>
<text x="113.5" y="741.3" font-size="8.8" font-weight="bold" text-anchor="middle" fill="#000" stroke="#000" stroke-width="0.3">10<tspan font-size="6.2" dy="-3.7">0</tspan></text>
<text x="165.7" y="741.3" font-size="8.8" font-weight="bold" text-anchor="middle" fill="#000" stroke="#000" stroke-width="0.3">10<tspan font-size="6.2" dy="-3.7">1</tspan></text>
<text x="217.9" y="741.3" font-size="8.8" font-weight="bold" text-anchor="middle" fill="#000" stroke="#000" stroke-width="0.3">10<tspan font-size="6.2" dy="-3.7">2</tspan></text>
<text x="262.7" y="741.3" font-size="8.8" font-weight="bold" text-anchor="middle" fill="#000" stroke="#000" stroke-width="0.3">10<tspan font-size="6.2" dy="-3.7">3</tspan></text>
<text x="49.6" y="683.0" font-size="8.8" font-weight="bold" text-anchor="end" fill="#000" stroke="#000" stroke-width="0.3">10<tspan font-size="6.2" dy="-3.7">0</tspan></text>
<text x="49.6" y="635.0" font-size="8.8" font-weight="bold" text-anchor="end" fill="#000" stroke="#000" stroke-width="0.3">10<tspan font-size="6.2" dy="-3.7">1</tspan></text>
<text x="49.6" y="587.1" font-size="8.8" font-weight="bold" text-anchor="end" fill="#000" stroke="#000" stroke-width="0.3">10<tspan font-size="6.2" dy="-3.7">2</tspan></text>
<text x="49.6" y="539.1" font-size="8.8" font-weight="bold" text-anchor="end" fill="#000" stroke="#000" stroke-width="0.3">10<tspan font-size="6.2" dy="-3.7">3</tspan></text>
<text x="60.5" y="549.8" font-size="10.3" font-weight="bold" fill="#111" stroke="#111" stroke-width=".25">B1</text>
<text x="61.2" y="562.8" font-size="10.3" font-weight="bold" fill="#111" stroke="#111" stroke-width=".25">73.8%</text>
<text x="111.6" y="549.8" font-size="10.3" font-weight="bold" fill="#111" stroke="#111" stroke-width=".25">B2</text>
<text x="113.6" y="562.8" font-size="10.3" font-weight="bold" fill="#111" stroke="#111" stroke-width=".25">17.0%</text>
<text x="60.5" y="693.2" font-size="10.3" font-weight="bold" fill="#111" stroke="#111" stroke-width=".25">B3</text>
<text x="64.2" y="707.6" font-size="10.3" font-weight="bold" fill="#111" stroke="#111" stroke-width=".25">8.2%</text>
<text x="111.6" y="693.2" font-size="10.3" font-weight="bold" fill="#111" stroke="#111" stroke-width=".25">B4</text>
<text x="117.2" y="707.6" font-size="10.3" font-weight="bold" fill="#111" stroke="#111" stroke-width=".25">1.2%</text>
<text x="200.4" y="560.3" font-size="22.9">17.0%</text>
<line x1="62.5" y1="750.7" x2="259.7" y2="750.7" stroke="#111" stroke-width="1.45"/>
<polygon points="268.50,750.70 257.50,753.50 259.70,750.70 257.50,747.90" fill="#111"/>
<text x="140.2" y="773.3" font-size="18.5">Tag7</text>
<path d="M315 554h0M318.5 557.5h0M323.5 560.5h0M327 561.5h0M321.5 562h0M310.5 562.5h0M328 565.5h0M335 566h0M340 566h0M323 567.5h0M327.5 567.5h0M358.5 568h0M323.5 568.5h0M316 569h0M312 569.5h0M315.5 569.5h0M333 570.5h0M322 571h0M323.5 571h0M338 571h0M339.5 571h0M349 571h0M351.5 571h0M328 571.5h0M331 571.5h0M334.5 571.5h0M308.5 572h0M345 572h0M346.5 572h0M313.5 572.5h0M316.5 572.5h0M317.5 572.5h0M336 572.5h0M356 572.5h0M357.5 572.5h0M311 573h0M339 573h0M322 573.5h0M337.5 573.5h0M349.5 573.5h0M318 574h0M328.5 574h0M333 574h0M342 574h0M321.5 574.5h0M340 574.5h0M341 574.5h0M348 574.5h0M314 575.5h0M324 575.5h0M317.5 576h0M320 576h0M321.5 576h0M340 576.5h0M321 577h0M322.5 577h0M339 577h0M350 577h0M324 577.5h0M334.5 577.5h0M323 578h0M335.5 578h0M338 578h0M339 578h0M323 578.5h0M326 578.5h0M330.5 578.5h0M315 579h0M317.5 579h0M319 579h0M330.5 579h0M347 579h0M321.5 579.5h0M322 579.5h0M328 579.5h0M330 579.5h0M335 579.5h0M337 579.5h0M339.5 579.5h0M307.5 580h0M316.5 580h0M332.5 580h0M339 580h0M344 580h0M344.5 580h0M354 580h0M307.5 580.5h0M326 580.5h0M327 580.5h0M334 580.5h0M335.5 580.5h0M356 580.5h0M317.5 581h0M319 581h0M322 581h0M322.5 581h0M323.5 581h0M335.5 581h0M336 581h0M338.5 581h0M340 581h0M341 581h0M322.5 581.5h0M325.5 581.5h0M328.5 581.5h0M339 581.5h0M343.5 581.5h0M353.5 581.5h0M312.5 582h0M316 582h0M316.5 582h0M317.5 582h0M321 582h0M324 582h0M326 582h0M326.5 582h0M330.5 582h0M336.5 582h0M338.5 582h0M344.5 582h0M316 582.5h0M319 582.5h0M326.5 582.5h0M330.5 582.5h0M333 582.5h0M336.5 582.5h0M337.5 582.5h0M309.5 583h0M316.5 583h0M318 583h0M319.5 583h0M320.5 583h0M321 583h0M327 583h0M327.5 583h0M328.5 583h0M329.5 583h0M330 583h0M350.5 583h0M318.5 583.5h0M324.5 583.5h0M327.5 583.5h0M330 583.5h0M332 583.5h0M344.5 583.5h0M350 583.5h0M318.5 584h0M335 584h0M339 584h0M355.5 584h0M308 584.5h0M316 584.5h0M323.5 584.5h0M324.5 584.5h0M325.5 584.5h0M326 584.5h0M328 584.5h0M330.5 584.5h0M333.5 584.5h0M341.5 584.5h0M342.5 584.5h0M320.5 585h0M321 585h0M326 585h0M330.5 585h0M331 585h0M332.5 585h0M334.5 585h0M335 585h0M341 585h0M307.5 585.5h0M310 585.5h0M317.5 585.5h0M318.5 585.5h0M321 585.5h0M328 585.5h0M329 585.5h0M330 585.5h0M330.5 585.5h0M332.5 585.5h0M335.5 585.5h0M337.5 585.5h0M355 585.5h0M312 586h0M315.5 586h0M317.5 586h0M320.5 586h0M322 586h0M324.5 586h0M325.5 586h0M326 586h0M327 586h0M328.5 586h0M331.5 586h0M335.5 586h0M336 586h0M340 586h0M342.5 586h0M308 586.5h0M319.5 586.5h0M320 586.5h0M322.5 586.5h0M326.5 586.5h0M330 586.5h0M331 586.5h0M335.5 586.5h0M337 586.5h0M343.5 586.5h0M348 586.5h0M307.5 587h0M318.5 587h0M322 587h0M325.5 587h0M326.5 587h0M327.5 587h0M330 587h0M331.5 587h0M332.5 587h0M333 587h0M333.5 587h0M335 587h0M313.5 587.5h0M321 587.5h0M330 587.5h0M310 588h0M322 588h0M324 588h0M325 588h0M326 588h0M327 588h0M332.5 588h0M333 588h0M338.5 588h0M339.5 588h0M341 588h0M345.5 588h0M372.5 588h0M323.5 588.5h0M325 588.5h0M325.5 588.5h0M327 588.5h0M328 588.5h0M330.5 588.5h0M333 588.5h0M333.5 588.5h0M334 588.5h0M335 588.5h0M336 588.5h0M339 588.5h0M340 588.5h0M341.5 588.5h0M353.5 588.5h0M321 589h0M323.5 589h0M327 589h0M327.5 589h0M328 589h0M335 589h0M335.5 589h0M343 589h0M348.5 589h0M349.5 589h0M308.5 589.5h0M310 589.5h0M313 589.5h0M315 589.5h0M316 589.5h0M316.5 589.5h0M318 589.5h0M320.5 589.5h0M321 589.5h0M322.5 589.5h0M330 589.5h0M330.5 589.5h0M331.5 589.5h0M344 589.5h0M311 590h0M317 590h0M318.5 590h0M320.5 590h0M322 590h0M322.5 590h0M328 590h0M328.5 590h0M329.5 590h0M336.5 590h0M341.5 590h0M344 590h0M344.5 590h0M346.5 590h0M353 590h0M359 590h0M313 590.5h0M314 590.5h0M318 590.5h0M319.5 590.5h0M320.5 590.5h0M323 590.5h0M324.5 590.5h0M325.5 590.5h0M326.5 590.5h0M327 590.5h0M329 590.5h0M331 590.5h0M333 590.5h0M335.5 590.5h0M337.5 590.5h0M338 590.5h0M339.5 590.5h0M340.5 590.5h0M350 590.5h0M314.5 591h0M315 591h0M317.5 591h0M318 591h0M319 591h0M321 591h0M321.5 591h0M322.5 591h0M324 591h0M325.5 591h0M326 591h0M328 591h0M329 591h0M330.5 591h0M332 591h0M333 591h0M335 591h0M336.5 591h0M337 591h0M340 591h0M341 591h0M342 591h0M342.5 591h0M347 591h0M308 591.5h0M308.5 591.5h0M312 591.5h0M318 591.5h0M323.5 591.5h0M324.5 591.5h0M325 591.5h0M325.5 591.5h0M326.5 591.5h0M328 591.5h0M328.5 591.5h0M329 591.5h0M329.5 591.5h0M330.5 591.5h0M334.5 591.5h0M335.5 591.5h0M340 591.5h0M346 591.5h0M347.5 591.5h0M309 592h0M311 592h0M315.5 592h0M316.5 592h0M322.5 592h0M324 592h0M324.5 592h0M327 592h0M327.5 592h0M328 592h0M330.5 592h0M334 592h0M335 592h0M335.5 592h0M337 592h0M339.5 592h0M340 592h0M340.5 592h0M345 592h0M345.5 592h0M350 592h0M312.5 592.5h0M314.5 592.5h0M318.5 592.5h0M319.5 592.5h0M323 592.5h0M323.5 592.5h0M324.5 592.5h0M326.5 592.5h0M327.5 592.5h0M331 592.5h0M331.5 592.5h0M332 592.5h0M333.5 592.5h0M337 592.5h0M341.5 592.5h0M342.5 592.5h0M346.5 592.5h0M348.5 592.5h0M322 593h0M322.5 593h0M324 593h0M330.5 593h0M331 593h0M332.5 593h0M334 593h0M334.5 593h0M337.5 593h0M306.5 593.5h0M311.5 593.5h0M313 593.5h0M316.5 593.5h0M319 593.5h0M321 593.5h0M324 593.5h0M325.5 593.5h0M326 593.5h0M328 593.5h0M331 593.5h0M334.5 593.5h0M337 593.5h0M338.5 593.5h0M339.5 593.5h0M341.5 593.5h0M344.5 593.5h0M345.5 593.5h0M349.5 593.5h0M308.5 594h0M313 594h0M315 594h0M317.5 594h0M319.5 594h0M320 594h0M322 594h0M323.5 594h0M326 594h0M327 594h0M327.5 594h0M329.5 594h0M330 594h0M331 594h0M333 594h0M333.5 594h0M335.5 594h0M337 594h0M337.5 594h0M341.5 594h0M344 594h0M344.5 594h0M350 594h0M307 594.5h0M310.5 594.5h0M313.5 594.5h0M314 594.5h0M318.5 594.5h0M322.5 594.5h0M324.5 594.5h0M326.5 594.5h0M328 594.5h0M332 594.5h0M334.5 594.5h0M335 594.5h0M336 594.5h0M338.5 594.5h0M339 594.5h0M341 594.5h0M344 594.5h0M348.5 594.5h0M355.5 594.5h0M309.5 595h0M311 595h0M315.5 595h0M317.5 595h0M318.5 595h0M320 595h0M323 595h0M324.5 595h0M325 595h0M326 595h0M327.5 595h0M328 595h0M330 595h0M330.5 595h0M333.5 595h0M336 595h0M337.5 595h0M338.5 595h0M340.5 595h0M343 595h0M344.5 595h0M346.5 595h0M347 595h0M357 595h0M357.5 595h0M359.5 595h0M308 595.5h0M309.5 595.5h0M310 595.5h0M313 595.5h0M314 595.5h0M316 595.5h0M317 595.5h0M318 595.5h0M318.5 595.5h0M319 595.5h0M322 595.5h0M325.5 595.5h0M326 595.5h0M328.5 595.5h0M330 595.5h0M332 595.5h0M333 595.5h0M333.5 595.5h0M335 595.5h0M335.5 595.5h0M336 595.5h0M342.5 595.5h0M343.5 595.5h0M346 595.5h0M350 595.5h0M361 595.5h0M314 596h0M315 596h0M319 596h0M320.5 596h0M321.5 596h0M322 596h0M325 596h0M325.5 596h0M326 596h0M327.5 596h0M330 596h0M331 596h0M333.5 596h0M334.5 596h0M335.5 596h0M337 596h0M340 596h0M343.5 596h0M344 596h0M344.5 596h0M345 596h0M363 596h0M308.5 596.5h0M312.5 596.5h0M315 596.5h0M317 596.5h0M318.5 596.5h0M319 596.5h0M320.5 596.5h0M321 596.5h0M324 596.5h0M325 596.5h0M325.5 596.5h0M326 596.5h0M327.5 596.5h0M331 596.5h0M331.5 596.5h0M332 596.5h0M332.5 596.5h0M333.5 596.5h0M334.5 596.5h0M336.5 596.5h0M339.5 596.5h0M340 596.5h0M345 596.5h0M360 596.5h0M308 597h0M308.5 597h0M313.5 597h0M314.5 597h0M315.5 597h0M319.5 597h0M320.5 597h0M321 597h0M323 597h0M326 597h0M326.5 597h0M328 597h0M329 597h0M329.5 597h0M330.5 597h0M331 597h0M331.5 597h0M332.5 597h0M334.5 597h0M337 597h0M340.5 597h0M341.5 597h0M343.5 597h0M344 597h0M348.5 597h0M308 597.5h0M310.5 597.5h0M315.5 597.5h0M316 597.5h0M317.5 597.5h0M319 597.5h0M319.5 597.5h0M320 597.5h0M323.5 597.5h0M324.5 597.5h0M326 597.5h0M329.5 597.5h0M333 597.5h0M335.5 597.5h0M337 597.5h0M341 597.5h0M341.5 597.5h0M343.5 597.5h0M349 597.5h0M350.5 597.5h0M354 597.5h0M357.5 597.5h0M310 598h0M316 598h0M317.5 598h0M320 598h0M326 598h0M326.5 598h0M330 598h0M331.5 598h0M332 598h0M333 598h0M333.5 598h0M337 598h0M339 598h0M339.5 598h0M340 598h0M343.5 598h0M348.5 598h0M307.5 598.5h0M313 598.5h0M318.5 598.5h0M320.5 598.5h0M322 598.5h0M322.5 598.5h0M323 598.5h0M324 598.5h0M325.5 598.5h0M328 598.5h0M328.5 598.5h0M329 598.5h0M331.5 598.5h0M337 598.5h0M338.5 598.5h0M340 598.5h0M342 598.5h0M344.5 598.5h0M347 598.5h0M348 598.5h0M306.5 599h0M308.5 599h0M310.5 599h0M316 599h0M316.5 599h0M318 599h0M318.5 599h0M321 599h0M322 599h0M322.5 599h0M324 599h0M325.5 599h0M326 599h0M326.5 599h0M327 599h0M327.5 599h0M328.5 599h0M329 599h0M329.5 599h0M330 599h0M331.5 599h0M332 599h0M333.5 599h0M334.5 599h0M335 599h0M337 599h0M339.5 599h0M340 599h0M340.5 599h0M347.5 599h0M348.5 599h0M307 599.5h0M311 599.5h0M312.5 599.5h0M313 599.5h0M315 599.5h0M315.5 599.5h0M316 599.5h0M317 599.5h0M318 599.5h0M318.5 599.5h0M319.5 599.5h0M320 599.5h0M321 599.5h0M322.5 599.5h0M323.5 599.5h0M328 599.5h0M329.5 599.5h0M330 599.5h0M331 599.5h0M332 599.5h0M336.5 599.5h0M337.5 599.5h0M341 599.5h0M342.5 599.5h0M345 599.5h0M345.5 599.5h0M346 599.5h0M354.5 599.5h0M306.5 600h0M310 600h0M310.5 600h0M311.5 600h0M316.5 600h0M317.5 600h0M319.5 600h0M323 600h0M325.5 600h0M326 600h0M326.5 600h0M328 600h0M329 600h0M332 600h0M332.5 600h0M333 600h0M333.5 600h0M335 600h0M336.5 600h0M339.5 600h0M340 600h0M348.5 600h0M361.5 600h0M312 600.5h0M313 600.5h0M315.5 600.5h0M317 600.5h0M318.5 600.5h0M319 600.5h0M320 600.5h0M320.5 600.5h0M321 600.5h0M321.5 600.5h0M322 600.5h0M324.5 600.5h0M325 600.5h0M325.5 600.5h0M326 600.5h0M326.5 600.5h0M327 600.5h0M331.5 600.5h0M332 600.5h0M334 600.5h0M336 600.5h0M336.5 600.5h0M341 600.5h0M341.5 600.5h0M342.5 600.5h0M344 600.5h0M352.5 600.5h0M306.5 601h0M308 601h0M313.5 601h0M314 601h0M316 601h0M317 601h0M317.5 601h0M318.5 601h0M321 601h0M324 601h0M327 601h0M327.5 601h0M330 601h0M330.5 601h0M332.5 601h0M334 601h0M336 601h0M336.5 601h0M337 601h0M340.5 601h0M345.5 601h0M348.5 601h0M350.5 601h0M354 601h0M306.5 601.5h0M307 601.5h0M310.5 601.5h0M311.5 601.5h0M315 601.5h0M317 601.5h0M317.5 601.5h0M319.5 601.5h0M320 601.5h0M321 601.5h0M323.5 601.5h0M324 601.5h0M325 601.5h0M327 601.5h0M327.5 601.5h0M328 601.5h0M328.5 601.5h0M329 601.5h0M329.5 601.5h0M331 601.5h0M332 601.5h0M333.5 601.5h0M334 601.5h0M334.5 601.5h0M336.5 601.5h0M342.5 601.5h0M344 601.5h0M309.5 602h0M312 602h0M312.5 602h0M318 602h0M319 602h0M321 602h0M321.5 602h0M324 602h0M325 602h0M325.5 602h0M327 602h0M327.5 602h0M328 602h0M333 602h0M333.5 602h0M337 602h0M339.5 602h0M342.5 602h0M343 602h0M343.5 602h0M346.5 602h0M348 602h0M348.5 602h0M350.5 602h0M308.5 602.5h0M309 602.5h0M309.5 602.5h0M312.5 602.5h0M313 602.5h0M316.5 602.5h0M317.5 602.5h0M318.5 602.5h0M319.5 602.5h0M320 602.5h0M323 602.5h0M324.5 602.5h0M325 602.5h0M326.5 602.5h0M327 602.5h0M327.5 602.5h0M328 602.5h0M329 602.5h0M330.5 602.5h0M333.5 602.5h0M335 602.5h0M340.5 602.5h0M345 602.5h0M349 602.5h0M314.5 603h0M317.5 603h0M319 603h0M321 603h0M322 603h0M322.5 603h0M323.5 603h0M324 603h0M324.5 603h0M326.5 603h0M327 603h0M329 603h0M330 603h0M330.5 603h0M332 603h0M333.5 603h0M334 603h0M334.5 603h0M342.5 603h0M343 603h0M347.5 603h0M351.5 603h0M311.5 603.5h0M312 603.5h0M314.5 603.5h0M315 603.5h0M315.5 603.5h0M316 603.5h0M317.5 603.5h0M319.5 603.5h0M322 603.5h0M323 603.5h0M325 603.5h0M325.5 603.5h0M327.5 603.5h0M328 603.5h0M329 603.5h0M329.5 603.5h0M330.5 603.5h0M332 603.5h0M334 603.5h0M334.5 603.5h0M336 603.5h0M336.5 603.5h0M338 603.5h0M339 603.5h0M341 603.5h0M343 603.5h0M343.5 603.5h0M344 603.5h0M347 603.5h0M349.5 603.5h0M309 604h0M310 604h0M311 604h0M313 604h0M314.5 604h0M316 604h0M316.5 604h0M319.5 604h0M320.5 604h0M321 604h0M321.5 604h0M322 604h0M322.5 604h0M323 604h0M323.5 604h0M324 604h0M324.5 604h0M325 604h0M326.5 604h0M327 604h0M328 604h0M328.5 604h0M329 604h0M330 604h0M331.5 604h0M332.5 604h0M334.5 604h0M335 604h0M337.5 604h0M343 604h0M344 604h0M346 604h0M346.5 604h0M309 604.5h0M312 604.5h0M312.5 604.5h0M314.5 604.5h0M316 604.5h0M317.5 604.5h0M318.5 604.5h0M321 604.5h0M322 604.5h0M322.5 604.5h0M324.5 604.5h0M329 604.5h0M330 604.5h0M331 604.5h0M332 604.5h0M332.5 604.5h0M333.5 604.5h0M334.5 604.5h0M335.5 604.5h0M336 604.5h0M337.5 604.5h0M338.5 604.5h0M340 604.5h0M340.5 604.5h0M344 604.5h0M344.5 604.5h0M346.5 604.5h0M348.5 604.5h0M309 605h0M313 605h0M316 605h0M318.5 605h0M321 605h0M323.5 605h0M324 605h0M324.5 605h0M325 605h0M326 605h0M327 605h0M328 605h0M328.5 605h0M330.5 605h0M331 605h0M332 605h0M333 605h0M335.5 605h0M340 605h0M343.5 605h0M344.5 605h0M348.5 605h0M352 605h0M362 605h0M366 605h0M314 605.5h0M315 605.5h0M316.5 605.5h0M317 605.5h0M317.5 605.5h0M319 605.5h0M321 605.5h0M321.5 605.5h0M324 605.5h0M324.5 605.5h0M325 605.5h0M326.5 605.5h0M327.5 605.5h0M328 605.5h0M328.5 605.5h0M330 605.5h0M331.5 605.5h0M332 605.5h0M333.5 605.5h0M335 605.5h0M336 605.5h0M337.5 605.5h0M341.5 605.5h0M342 605.5h0M345.5 605.5h0M348.5 605.5h0M352 605.5h0M357 605.5h0M361.5 605.5h0M314.5 606h0M318 606h0M320 606h0M321 606h0M321.5 606h0M323.5 606h0M324.5 606h0M327 606h0M330.5 606h0M331 606h0M331.5 606h0M332 606h0M334.5 606h0M335.5 606h0M336 606h0M336.5 606h0M337 606h0M339 606h0M339.5 606h0M344 606h0M350.5 606h0M309.5 606.5h0M311.5 606.5h0M312.5 606.5h0M313 606.5h0M314.5 606.5h0M315 606.5h0M317 606.5h0M317.5 606.5h0M318.5 606.5h0M320 606.5h0M321 606.5h0M322.5 606.5h0M324.5 606.5h0M325 606.5h0M325.5 606.5h0M327 606.5h0M327.5 606.5h0M328.5 606.5h0M333 606.5h0M333.5 606.5h0M334.5 606.5h0M337 606.5h0M339.5 606.5h0M340 606.5h0M341.5 606.5h0M345 606.5h0M350.5 606.5h0M352 606.5h0M309.5 607h0M313 607h0M313.5 607h0M314.5 607h0M316 607h0M321 607h0M323 607h0M325 607h0M326.5 607h0M327 607h0M327.5 607h0M328 607h0M328.5 607h0M329.5 607h0M330 607h0M330.5 607h0M331 607h0M331.5 607h0M333.5 607h0M336.5 607h0M337 607h0M340.5 607h0M341.5 607h0M343 607h0M346.5 607h0M347 607h0M347.5 607h0M349 607h0M350 607h0M351.5 607h0M354.5 607h0M358.5 607h0M362.5 607h0M373.5 607h0M309 607.5h0M313.5 607.5h0M314 607.5h0M315 607.5h0M316 607.5h0M319 607.5h0M319.5 607.5h0M320.5 607.5h0M321.5 607.5h0M322 607.5h0M324 607.5h0M325 607.5h0M326.5 607.5h0M327 607.5h0M328.5 607.5h0M330 607.5h0M330.5 607.5h0M331 607.5h0M331.5 607.5h0M332 607.5h0M332.5 607.5h0M334.5 607.5h0M337.5 607.5h0M338 607.5h0M342 607.5h0M342.5 607.5h0M346 607.5h0M347 607.5h0M362 607.5h0M309 608h0M310.5 608h0M312 608h0M313 608h0M316 608h0M317 608h0M318.5 608h0M319.5 608h0M321.5 608h0M322 608h0M322.5 608h0M324.5 608h0M325 608h0M326 608h0M327 608h0M330 608h0M333 608h0M333.5 608h0M335 608h0M337 608h0M337.5 608h0M338 608h0M339.5 608h0M340 608h0M341.5 608h0M344 608h0M344.5 608h0M345 608h0M351.5 608h0M352.5 608h0M353.5 608h0M307 608.5h0M308.5 608.5h0M310.5 608.5h0M315.5 608.5h0M317.5 608.5h0M318 608.5h0M318.5 608.5h0M319.5 608.5h0M321 608.5h0M321.5 608.5h0M323 608.5h0M323.5 608.5h0M325 608.5h0M325.5 608.5h0M327 608.5h0M331.5 608.5h0M332.5 608.5h0M333.5 608.5h0M335 608.5h0M340 608.5h0M340.5 608.5h0M343 608.5h0M343.5 608.5h0M345 608.5h0M346 608.5h0M348.5 608.5h0M306.5 609h0M307 609h0M309.5 609h0M310 609h0M312.5 609h0M316.5 609h0M320.5 609h0M321 609h0M321.5 609h0M322 609h0M322.5 609h0M323 609h0M324 609h0M324.5 609h0M325 609h0M327 609h0M328 609h0M328.5 609h0M329 609h0M329.5 609h0M332.5 609h0M334 609h0M335 609h0M337 609h0M337.5 609h0M339 609h0M340 609h0M341 609h0M342 609h0M342.5 609h0M343 609h0M347 609h0M347.5 609h0M348 609h0M348.5 609h0M357.5 609h0M311 609.5h0M312.5 609.5h0M315 609.5h0M316.5 609.5h0M321 609.5h0M324 609.5h0M324.5 609.5h0M326 609.5h0M327.5 609.5h0M330.5 609.5h0M332 609.5h0M332.5 609.5h0M333 609.5h0M336.5 609.5h0M338 609.5h0M339 609.5h0M340 609.5h0M341.5 609.5h0M342.5 609.5h0M345.5 609.5h0M349 609.5h0M353 609.5h0M370 609.5h0M311.5 610h0M312 610h0M314 610h0M315 610h0M318 610h0M319 610h0M321 610h0M323 610h0M323.5 610h0M324 610h0M324.5 610h0M325.5 610h0M326 610h0M327.5 610h0M328.5 610h0M330 610h0M331.5 610h0M333.5 610h0M334 610h0M336 610h0M336.5 610h0M338 610h0M340 610h0M342.5 610h0M345.5 610h0M346 610h0M349.5 610h0M353 610h0M309.5 610.5h0M311 610.5h0M312.5 610.5h0M313.5 610.5h0M314 610.5h0M317.5 610.5h0M318 610.5h0M320.5 610.5h0M321.5 610.5h0M324 610.5h0M325.5 610.5h0M327.5 610.5h0M328 610.5h0M328.5 610.5h0M330 610.5h0M331 610.5h0M331.5 610.5h0M333 610.5h0M333.5 610.5h0M334.5 610.5h0M335.5 610.5h0M337 610.5h0M337.5 610.5h0M340.5 610.5h0M342 610.5h0M360 610.5h0M361.5 610.5h0M306.5 611h0M311 611h0M311.5 611h0M312.5 611h0M314.5 611h0M315 611h0M320.5 611h0M321 611h0M324 611h0M324.5 611h0M325.5 611h0M326.5 611h0M327 611h0M328.5 611h0M330.5 611h0M332 611h0M334 611h0M334.5 611h0M336 611h0M339 611h0M341.5 611h0M342 611h0M345.5 611h0M347 611h0M349.5 611h0M354.5 611h0M358.5 611h0M307 611.5h0M311 611.5h0M314.5 611.5h0M317.5 611.5h0M319.5 611.5h0M320 611.5h0M320.5 611.5h0M325.5 611.5h0M326 611.5h0M327 611.5h0M328.5 611.5h0M329.5 611.5h0M331 611.5h0M331.5 611.5h0M334 611.5h0M334.5 611.5h0M335 611.5h0M335.5 611.5h0M336 611.5h0M337 611.5h0M338 611.5h0M338.5 611.5h0M339.5 611.5h0M342 611.5h0M343 611.5h0M347.5 611.5h0M310 612h0M311 612h0M314 612h0M315 612h0M316.5 612h0M317 612h0M318 612h0M318.5 612h0M320 612h0M320.5 612h0M323.5 612h0M324 612h0M325 612h0M325.5 612h0M327 612h0M328 612h0M330 612h0M332 612h0M332.5 612h0M333.5 612h0M336 612h0M339 612h0M342 612h0M342.5 612h0M347 612h0M348.5 612h0M349 612h0M354 612h0M309 612.5h0M312 612.5h0M313 612.5h0M314 612.5h0M314.5 612.5h0M316 612.5h0M317 612.5h0M318 612.5h0M320 612.5h0M320.5 612.5h0M321.5 612.5h0M324 612.5h0M325 612.5h0M326 612.5h0M326.5 612.5h0M327 612.5h0M328.5 612.5h0M329.5 612.5h0M330.5 612.5h0M331 612.5h0M331.5 612.5h0M333 612.5h0M333.5 612.5h0M334 612.5h0M336.5 612.5h0M341.5 612.5h0M342 612.5h0M346.5 612.5h0M348.5 612.5h0M349 612.5h0M350 612.5h0M353.5 612.5h0M358.5 612.5h0M309 613h0M311 613h0M312 613h0M313.5 613h0M314.5 613h0M316.5 613h0M318 613h0M318.5 613h0M320.5 613h0M321 613h0M321.5 613h0M322 613h0M322.5 613h0M323.5 613h0M324 613h0M324.5 613h0M325 613h0M326 613h0M326.5 613h0M329.5 613h0M330.5 613h0M331 613h0M332.5 613h0M333.5 613h0M334 613h0M334.5 613h0M335 613h0M336 613h0M339 613h0M339.5 613h0M344.5 613h0M346.5 613h0M347.5 613h0M349 613h0M349.5 613h0M352 613h0M357.5 613h0M314.5 613.5h0M315 613.5h0M319 613.5h0M319.5 613.5h0M320.5 613.5h0M321 613.5h0M323 613.5h0M325 613.5h0M327.5 613.5h0M328.5 613.5h0M329.5 613.5h0M331.5 613.5h0M332.5 613.5h0M333.5 613.5h0M336.5 613.5h0M340.5 613.5h0M346.5 613.5h0M350.5 613.5h0M351 613.5h0M356.5 613.5h0M310.5 614h0M313 614h0M313.5 614h0M318 614h0M319 614h0M320.5 614h0M323 614h0M324 614h0M324.5 614h0M326 614h0M327.5 614h0M328 614h0M328.5 614h0M329 614h0M330 614h0M333 614h0M333.5 614h0M335 614h0M335.5 614h0M336.5 614h0M337.5 614h0M339 614h0M343 614h0M344.5 614h0M348.5 614h0M350 614h0M351 614h0M356 614h0M312 614.5h0M312.5 614.5h0M313 614.5h0M315 614.5h0M316 614.5h0M321 614.5h0M321.5 614.5h0M322 614.5h0M323 614.5h0M325 614.5h0M326 614.5h0M328 614.5h0M330 614.5h0M330.5 614.5h0M331.5 614.5h0M332 614.5h0M334 614.5h0M334.5 614.5h0M335.5 614.5h0M338 614.5h0M340 614.5h0M342 614.5h0M343 614.5h0M344 614.5h0M362.5 614.5h0M307 615h0M309 615h0M312.5 615h0M315 615h0M316 615h0M317 615h0M317.5 615h0M318.5 615h0M319.5 615h0M320 615h0M320.5 615h0M322 615h0M323 615h0M324 615h0M324.5 615h0M325 615h0M325.5 615h0M326 615h0M327 615h0M327.5 615h0M328 615h0M331.5 615h0M332 615h0M332.5 615h0M333 615h0M333.5 615h0M334 615h0M335.5 615h0M336.5 615h0M337 615h0M338 615h0M341 615h0M341.5 615h0M307 615.5h0M313.5 615.5h0M315 615.5h0M315.5 615.5h0M316.5 615.5h0M317.5 615.5h0M318 615.5h0M319.5 615.5h0M322.5 615.5h0M323 615.5h0M325.5 615.5h0M326.5 615.5h0M327.5 615.5h0M328.5 615.5h0M330 615.5h0M330.5 615.5h0M334 615.5h0M336 615.5h0M336.5 615.5h0M337.5 615.5h0M338 615.5h0M340.5 615.5h0M341.5 615.5h0M310 616h0M311 616h0M312 616h0M312.5 616h0M313 616h0M314.5 616h0M315 616h0M318 616h0M319.5 616h0M320 616h0M321 616h0M322 616h0M324.5 616h0M325.5 616h0M326.5 616h0M327 616h0M327.5 616h0M330 616h0M331.5 616h0M332.5 616h0M334 616h0M334.5 616h0M336 616h0M337 616h0M338 616h0M341 616h0M342.5 616h0M343 616h0M344 616h0M345.5 616h0M346 616h0M346.5 616h0M350 616h0M368 616h0M310 616.5h0M310.5 616.5h0M312.5 616.5h0M313.5 616.5h0M314 616.5h0M315 616.5h0M316.5 616.5h0M319 616.5h0M319.5 616.5h0M320.5 616.5h0M323.5 616.5h0M324 616.5h0M327 616.5h0M328 616.5h0M328.5 616.5h0M329 616.5h0M329.5 616.5h0M330.5 616.5h0M331 616.5h0M333.5 616.5h0M334.5 616.5h0M337 616.5h0M338 616.5h0M338.5 616.5h0M344.5 616.5h0M345 616.5h0M347 616.5h0M354.5 616.5h0M311 617h0M314 617h0M314.5 617h0M315.5 617h0M316 617h0M317.5 617h0M318.5 617h0M321.5 617h0M322 617h0M323.5 617h0M328.5 617h0M329 617h0M331 617h0M333 617h0M335 617h0M335.5 617h0M350 617h0M306.5 617.5h0M310.5 617.5h0M312.5 617.5h0M317 617.5h0M318 617.5h0M318.5 617.5h0M319.5 617.5h0M320.5 617.5h0M323.5 617.5h0M325 617.5h0M326 617.5h0M327.5 617.5h0M329 617.5h0M333.5 617.5h0M334 617.5h0M334.5 617.5h0M335 617.5h0M336 617.5h0M338.5 617.5h0M339.5 617.5h0M343 617.5h0M344.5 617.5h0M347.5 617.5h0M348.5 617.5h0M352.5 617.5h0M316 618h0M317 618h0M318.5 618h0M319.5 618h0M320.5 618h0M321.5 618h0M325 618h0M326 618h0M327 618h0M328 618h0M328.5 618h0M332 618h0M332.5 618h0M333 618h0M333.5 618h0M334 618h0M334.5 618h0M335.5 618h0M336 618h0M337.5 618h0M338 618h0M341.5 618h0M342 618h0M346.5 618h0M348.5 618h0M349 618h0M352.5 618h0M311 618.5h0M315 618.5h0M316 618.5h0M318 618.5h0M319.5 618.5h0M320.5 618.5h0M323.5 618.5h0M325 618.5h0M329 618.5h0M329.5 618.5h0M330 618.5h0M330.5 618.5h0M332 618.5h0M332.5 618.5h0M334 618.5h0M335 618.5h0M335.5 618.5h0M341 618.5h0M342.5 618.5h0M344.5 618.5h0M345 618.5h0M346 618.5h0M315 619h0M315.5 619h0M316 619h0M319.5 619h0M322 619h0M324.5 619h0M326 619h0M331 619h0M335 619h0M336 619h0M336.5 619h0M339.5 619h0M340 619h0M340.5 619h0M342.5 619h0M343 619h0M346 619h0M355 619h0M306.5 619.5h0M311.5 619.5h0M316 619.5h0M316.5 619.5h0M318.5 619.5h0M319 619.5h0M320 619.5h0M320.5 619.5h0M321.5 619.5h0M324 619.5h0M326 619.5h0M326.5 619.5h0M329 619.5h0M332 619.5h0M332.5 619.5h0M334.5 619.5h0M335.5 619.5h0M336 619.5h0M336.5 619.5h0M337.5 619.5h0M338 619.5h0M344 619.5h0M345 619.5h0M345.5 619.5h0M347.5 619.5h0M351.5 619.5h0M355 619.5h0M356 619.5h0M361 619.5h0M309.5 620h0M315 620h0M316.5 620h0M318 620h0M318.5 620h0M319 620h0M320 620h0M321 620h0M321.5 620h0M322 620h0M322.5 620h0M325 620h0M325.5 620h0M327 620h0M329 620h0M329.5 620h0M330 620h0M331 620h0M331.5 620h0M332 620h0M332.5 620h0M334 620h0M335 620h0M336 620h0M336.5 620h0M338 620h0M338.5 620h0M341.5 620h0M344.5 620h0M356.5 620h0M309.5 620.5h0M311.5 620.5h0M314 620.5h0M316.5 620.5h0M317 620.5h0M319.5 620.5h0M323 620.5h0M326.5 620.5h0M327.5 620.5h0M328.5 620.5h0M329 620.5h0M330.5 620.5h0M332 620.5h0M333 620.5h0M333.5 620.5h0M334.5 620.5h0M335.5 620.5h0M337 620.5h0M337.5 620.5h0M338.5 620.5h0M344 620.5h0M346 620.5h0M348.5 620.5h0M349.5 620.5h0M354.5 620.5h0M357 620.5h0M312.5 621h0M314.5 621h0M319 621h0M319.5 621h0M320.5 621h0M321.5 621h0M322 621h0M324 621h0M324.5 621h0M325.5 621h0M326 621h0M326.5 621h0M327 621h0M328 621h0M329 621h0M333 621h0M334.5 621h0M335 621h0M339 621h0M340.5 621h0M344.5 621h0M346 621h0M348 621h0M349 621h0M306.5 621.5h0M308.5 621.5h0M312 621.5h0M312.5 621.5h0M316 621.5h0M318 621.5h0M319 621.5h0M320.5 621.5h0M321 621.5h0M322 621.5h0M322.5 621.5h0M323 621.5h0M324 621.5h0M325 621.5h0M330 621.5h0M331.5 621.5h0M332.5 621.5h0M335.5 621.5h0M336 621.5h0M338 621.5h0M342.5 621.5h0M347.5 621.5h0M354.5 621.5h0M309.5 622h0M310 622h0M311 622h0M313 622h0M314.5 622h0M315.5 622h0M316.5 622h0M318.5 622h0M322 622h0M326.5 622h0M328.5 622h0M330.5 622h0M332.5 622h0M333 622h0M335 622h0M335.5 622h0M337 622h0M337.5 622h0M339 622h0M347.5 622h0M351 622h0M315.5 622.5h0M316.5 622.5h0M317 622.5h0M317.5 622.5h0M321 622.5h0M321.5 622.5h0M325.5 622.5h0M326.5 622.5h0M328 622.5h0M328.5 622.5h0M331 622.5h0M335 622.5h0M336 622.5h0M337 622.5h0M337.5 622.5h0M339.5 622.5h0M343.5 622.5h0M348.5 622.5h0M352 622.5h0M355.5 622.5h0M306.5 623h0M310 623h0M312.5 623h0M313 623h0M313.5 623h0M318 623h0M323 623h0M323.5 623h0M324.5 623h0M325.5 623h0M328 623h0M330 623h0M331 623h0M333 623h0M333.5 623h0M335.5 623h0M338 623h0M338.5 623h0M339 623h0M340 623h0M347.5 623h0M350.5 623h0M354 623h0M360 623h0M311 623.5h0M317 623.5h0M317.5 623.5h0M318 623.5h0M318.5 623.5h0M320.5 623.5h0M323.5 623.5h0M329 623.5h0M329.5 623.5h0M330 623.5h0M331 623.5h0M336 623.5h0M336.5 623.5h0M337 623.5h0M338.5 623.5h0M339.5 623.5h0M341 623.5h0M343 623.5h0M312.5 624h0M315 624h0M316 624h0M319.5 624h0M321 624h0M326 624h0M327 624h0M330 624h0M332.5 624h0M334 624h0M334.5 624h0M338 624h0M339.5 624h0M344.5 624h0M348 624h0M306.5 624.5h0M314.5 624.5h0M315 624.5h0M315.5 624.5h0M316 624.5h0M318 624.5h0M320 624.5h0M321 624.5h0M322 624.5h0M323.5 624.5h0M324.5 624.5h0M325 624.5h0M327 624.5h0M330.5 624.5h0M331.5 624.5h0M334.5 624.5h0M335 624.5h0M341 624.5h0M343 624.5h0M345 624.5h0M353 624.5h0M309 625h0M309.5 625h0M313 625h0M318.5 625h0M319 625h0M320 625h0M321 625h0M324 625h0M324.5 625h0M330 625h0M332 625h0M333 625h0M334 625h0M340 625h0M343.5 625h0M309.5 625.5h0M313 625.5h0M314.5 625.5h0M320.5 625.5h0M321 625.5h0M324 625.5h0M324.5 625.5h0M325.5 625.5h0M330.5 625.5h0M331 625.5h0M332 625.5h0M332.5 625.5h0M335 625.5h0M338.5 625.5h0M341 625.5h0M342 625.5h0M345.5 625.5h0M350 625.5h0M317 626h0M319 626h0M321 626h0M322 626h0M325 626h0M325.5 626h0M326.5 626h0M328 626h0M331 626h0M332.5 626h0M333 626h0M333.5 626h0M334 626h0M336.5 626h0M337 626h0M340 626h0M350.5 626h0M353.5 626h0M312.5 626.5h0M316.5 626.5h0M318.5 626.5h0M319 626.5h0M320.5 626.5h0M327.5 626.5h0M328.5 626.5h0M331 626.5h0M332 626.5h0M335.5 626.5h0M336 626.5h0M336.5 626.5h0M338 626.5h0M354 626.5h0M367 626.5h0M308 627h0M308.5 627h0M309.5 627h0M312.5 627h0M313.5 627h0M314 627h0M317.5 627h0M318 627h0M321 627h0M323 627h0M324 627h0M326.5 627h0M327 627h0M332 627h0M332.5 627h0M333.5 627h0M342.5 627h0M345.5 627h0M354.5 627h0M358.5 627h0M318.5 627.5h0M319 627.5h0M319.5 627.5h0M321 627.5h0M323.5 627.5h0M324 627.5h0M324.5 627.5h0M325 627.5h0M327.5 627.5h0M328 627.5h0M328.5 627.5h0M331 627.5h0M332 627.5h0M336 627.5h0M338.5 627.5h0M349 627.5h0M354.5 627.5h0M313.5 628h0M319.5 628h0M320 628h0M323.5 628h0M325 628h0M327 628h0M328 628h0M328.5 628h0M329.5 628h0M332 628h0M333 628h0M334.5 628h0M337 628h0M338 628h0M338.5 628h0M341.5 628h0M346 628h0M358 628h0M311 628.5h0M319.5 628.5h0M321.5 628.5h0M322.5 628.5h0M325.5 628.5h0M328 628.5h0M330.5 628.5h0M332.5 628.5h0M333.5 628.5h0M338.5 628.5h0M340 628.5h0M346.5 628.5h0M309 629h0M310.5 629h0M313 629h0M313.5 629h0M318 629h0M320 629h0M321 629h0M323 629h0M325 629h0M327.5 629h0M329 629h0M330.5 629h0M331.5 629h0M342.5 629h0M345.5 629h0M354.5 629h0M315.5 629.5h0M318 629.5h0M319 629.5h0M320.5 629.5h0M321.5 629.5h0M322.5 629.5h0M325.5 629.5h0M330.5 629.5h0M331.5 629.5h0M336 629.5h0M336.5 629.5h0M340 629.5h0M341 629.5h0M343 629.5h0M323.5 630h0M325 630h0M326.5 630h0M327 630h0M342.5 630h0M344.5 630h0M353.5 630h0M315 630.5h0M316.5 630.5h0M322 630.5h0M322.5 630.5h0M325 630.5h0M326.5 630.5h0M329 630.5h0M333 630.5h0M333.5 630.5h0M343 630.5h0M343.5 630.5h0M360 630.5h0M306.5 631h0M309.5 631h0M310.5 631h0M315 631h0M316 631h0M325 631h0M331.5 631h0M332 631h0M333.5 631h0M335.5 631h0M339.5 631h0M340.5 631h0M344.5 631h0M315 631.5h0M321.5 631.5h0M322 631.5h0M323 631.5h0M324 631.5h0M330 631.5h0M332.5 631.5h0M334 631.5h0M336.5 631.5h0M340.5 631.5h0M362.5 631.5h0M310 632h0M311.5 632h0M318.5 632h0M320.5 632h0M328 632h0M332 632h0M334 632h0M336 632h0M341 632h0M345.5 632h0M348.5 632h0M353 632h0M306.5 632.5h0M315.5 632.5h0M324.5 632.5h0M327 632.5h0M331.5 632.5h0M333 632.5h0M340.5 632.5h0M341 632.5h0M347 632.5h0M326 633h0M331 633h0M348 633h0M359.5 633h0M318 633.5h0M322 633.5h0M322.5 633.5h0M323.5 633.5h0M330 633.5h0M376.5 633.5h0M308 634h0M315 634h0M315.5 634h0M318.5 634h0M323 634h0M326 634h0M337.5 634h0M343 634h0M345 634h0M346 634h0M350 634h0M350.5 634h0M317 634.5h0M320.5 634.5h0M321 634.5h0M322 634.5h0M328.5 634.5h0M330.5 634.5h0M334 634.5h0M335 634.5h0M345.5 634.5h0M317 635h0M320.5 635h0M328 635h0M328.5 635h0M336.5 635h0M343.5 635h0M319 635.5h0M321.5 635.5h0M323 635.5h0M326.5 635.5h0M327.5 635.5h0M335.5 635.5h0M342 635.5h0M343.5 635.5h0M312 636h0M316.5 636h0M318.5 636h0M328 636h0M347.5 636h0M355.5 636h0M323 636.5h0M334 636.5h0M337 636.5h0M344.5 636.5h0M352 636.5h0M306.5 637h0M310 637h0M313.5 637h0M315 637h0M318.5 637h0M319 637h0M321.5 637h0M324 637h0M330.5 637h0M333.5 637h0M353.5 637h0M313 637.5h0M313.5 637.5h0M329 637.5h0M329.5 637.5h0M335.5 637.5h0M336 637.5h0M340 637.5h0M341.5 637.5h0M343.5 637.5h0M318 638h0M323 638h0M328 638h0M342 638h0M342.5 638h0M351 638h0M358.5 638h0M313 638.5h0M315 638.5h0M334 638.5h0M357 638.5h0M359 638.5h0M326.5 639h0M327 639h0M331 639h0M334 639h0M338.5 639h0M314.5 639.5h0M335.5 639.5h0M338.5 639.5h0M345.5 639.5h0M354.5 639.5h0M324.5 640h0M335 640h0M339.5 640h0M346.5 640h0M316 640.5h0M336 640.5h0M344.5 640.5h0M313 641h0M322 641h0M324.5 641h0M325.5 641h0M328.5 641h0M334 641h0M347 641h0M308.5 641.5h0M309.5 641.5h0M337 641.5h0M345.5 641.5h0M355 641.5h0M307 642h0M318.5 642h0M325 642h0M327 642h0M331 642h0M313 642.5h0M329 642.5h0M334 642.5h0M308 643h0M326 643h0M328.5 643h0M353.5 643h0M334 643.5h0M335 643.5h0M342 643.5h0M322 644h0M351 644h0M327 644.5h0M330.5 644.5h0M342 644.5h0M320 645.5h0M328.5 645.5h0M333 645.5h0M341 645.5h0M332 646h0M347.5 646h0M348.5 646h0M352.5 646h0M317.5 646.5h0M321.5 646.5h0M329.5 646.5h0M331.5 646.5h0M342 646.5h0M317.5 647h0M324.5 647h0M335.5 647h0M336 647h0M340.5 647h0M313 647.5h0M319 647.5h0M324 647.5h0M326 647.5h0M346 647.5h0M371.5 647.5h0M318.5 648h0M324.5 648.5h0M322 649h0M329 649h0M342.5 649h0M311.5 649.5h0M324 649.5h0M327 649.5h0M327.5 649.5h0M315 650h0M357.5 650h0M336.5 650.5h0M351.5 650.5h0M324 651h0M325 651h0M330.5 651h0M344.5 651h0M349 651h0M322 651.5h0M342.5 651.5h0M347 651.5h0M355 651.5h0M322.5 652h0M323 652h0M329.5 652h0M335.5 652h0M340.5 652h0M343 652h0M318 653h0M319 653h0M321 653h0M322 653h0M341.5 653h0M315.5 653.5h0M328 653.5h0M334.5 654h0M343.5 654h0M344.5 654h0M346.5 654h0M351.5 654h0M311.5 654.5h0M322.5 654.5h0M328 654.5h0M333.5 654.5h0M336 654.5h0M338.5 654.5h0M311.5 655h0M316 655h0M320 655h0M337.5 655h0M344 655h0M349 655.5h0M326.5 656h0M328.5 656h0M332.5 656h0M334 656h0M337.5 656h0M338.5 656.5h0M343 656.5h0M348 656.5h0M349.5 656.5h0M364.5 656.5h0M330.5 657h0M339 657h0M310 657.5h0M315.5 657.5h0M331 657.5h0M338.5 657.5h0M353.5 657.5h0M317 658h0M325 658h0M330 658h0M327 658.5h0M331 658.5h0M333 658.5h0M341 658.5h0M348 658.5h0M324.5 659h0M331.5 659h0M340.5 659h0M335 659.5h0M341 659.5h0M332.5 660h0M345.5 660h0M349.5 660h0M319.5 660.5h0M320.5 660.5h0M334.5 660.5h0M361.5 660.5h0M351 661h0M316 661.5h0M337.5 661.5h0M339.5 661.5h0M348.5 661.5h0M335 662h0M338 662h0M308.5 662.5h0M341 663.5h0M355.5 663.5h0M310 664h0M311 664h0M331 664h0M333.5 664h0M342.5 664h0M343 664h0M348.5 664h0M372.5 664h0M313 664.5h0M333 664.5h0M312.5 665h0M331 665h0M327.5 666h0M336.5 666h0M337 666h0M339 666h0M336.5 666.5h0M343.5 666.5h0M350.5 666.5h0M333 667h0M334.5 667h0M353.5 667h0M358.5 667h0M322.5 667.5h0M328 667.5h0M337.5 667.5h0M342.5 667.5h0M345 667.5h0M353.5 667.5h0M307.5 668h0M328 668h0M345 668h0M325 668.5h0M326 668.5h0M333 668.5h0M355.5 668.5h0M329.5 669h0M332 669h0M339.5 669h0M342 669h0M320.5 669.5h0M326 669.5h0M317.5 670h0M327 670h0M328.5 670h0M337 670h0M354.5 670h0M330.5 670.5h0M338.5 670.5h0M355 670.5h0M315.5 671h0M318.5 671h0M320.5 671h0M330 671h0M331 671h0M310.5 671.5h0M316.5 671.5h0M351.5 671.5h0M315 672h0M332.5 672h0M337 672h0M343 672h0M351.5 672h0M316 672.5h0M318.5 672.5h0M320 672.5h0M328.5 672.5h0M359 672.5h0M362.5 672.5h0M319 673h0M344 673h0M348.5 673h0M326 673.5h0M344 673.5h0M353.5 673.5h0M347 674h0M358 674h0M312.5 674.5h0M336.5 674.5h0M319 675h0M325.5 675h0M346 675h0M350 675h0M314.5 675.5h0M322.5 675.5h0M336.5 675.5h0M345.5 675.5h0M335 676h0M339 676h0M343 676h0M348.5 676h0M360.5 676h0M308 676.5h0M323 676.5h0M329 676.5h0M335 676.5h0M339 676.5h0M352 676.5h0M324.5 677h0M317 677.5h0M342 677.5h0M346 677.5h0M331 678h0M340.5 678h0M334 678.5h0M327 679h0M319 679.5h0M341 679.5h0M306.5 680h0M323.5 680h0M336.5 680h0M324.5 680.5h0M326.5 680.5h0M345 680.5h0M354.5 680.5h0M336.5 681h0M328.5 681.5h0M333 681.5h0M320 682h0M330.5 682h0M332.5 682h0M335.5 682h0M348.5 682h0M330.5 682.5h0M337 682.5h0M344.5 682.5h0M346 682.5h0M356.5 682.5h0M324 683h0M329 683h0M330 683h0M347.5 683h0M328.5 683.5h0M337 683.5h0M344.5 683.5h0M325 684h0M329.5 684h0M339.5 684h0M341 684h0M326.5 684.5h0M340 684.5h0M342.5 684.5h0M344 684.5h0M333 685h0M334 685h0M339.5 685h0M347 685h0M339 685.5h0M325 686h0M326 686h0M328.5 686h0M335.5 686h0M343.5 686h0M327.5 686.5h0M334.5 686.5h0M338.5 686.5h0M340 686.5h0M344 686.5h0M332 687h0M338.5 687h0M335.5 687.5h0M338.5 687.5h0M340.5 687.5h0M329 688h0M331.5 688.5h0M339 688.5h0M350 688.5h0M328.5 689h0M329.5 689h0M331 689h0M331.5 689h0M336.5 689h0M337 689h0M361.5 689h0M330 689.5h0M339.5 689.5h0M375.5 690h0M323.5 690.5h0M332.5 690.5h0M336.5 690.5h0M352.5 690.5h0M353.5 690.5h0M319 691h0M341 691h0M352 691h0M312 691.5h0M315 691.5h0M316.5 691.5h0M328 691.5h0M340 691.5h0M341.5 691.5h0M342 691.5h0M327.5 692h0M329.5 692h0M330 692h0M330 692.5h0M345 692.5h0M353 692.5h0M342.5 693h0M347.5 693.5h0M330.5 694h0M342.5 694h0M352 694h0M335 694.5h0M331 695h0M332 695h0M361 695h0M332 695.5h0M334.5 695.5h0M323.5 696h0M355.5 696h0M363 696h0M325.5 696.5h0M319.5 697h0M329.5 697h0M340.5 697h0M308 697.5h0M348 697.5h0M341.5 698h0M325.5 698.5h0M334 699h0M341.5 699.5h0M346.5 699.5h0M348.5 699.5h0M352 699.5h0M335.5 700h0M338.5 700h0M344 700h0M328 700.5h0M329 701h0M323 701.5h0M328 701.5h0M328.5 701.5h0M363.5 701.5h0M326 702h0M332.5 702.5h0M319.5 703h0M338.5 703h0M356.5 703h0M324 703.5h0M324.5 704h0M336 704h0M332 704.5h0M344 704.5h0M330.5 705h0M331.5 705h0M337.5 705h0M327 705.5h0M327.5 705.5h0M338 705.5h0M366.5 705.5h0M319 706h0M328 706h0M336.5 706h0M330.5 706.5h0M333.5 706.5h0M336.5 706.5h0M341.5 706.5h0M347.5 706.5h0M323 707h0M329 707h0M318 707.5h0M334 707.5h0M339.5 707.5h0M341 707.5h0M343.5 707.5h0M314.5 708h0M317 708h0M329.5 708h0M333 708h0M321.5 708.5h0M324.5 708.5h0M334.5 708.5h0M336.5 708.5h0M350 708.5h0M328 709h0M350.5 709h0M320.5 709.5h0M333.5 709.5h0M331.5 710h0M322 710.5h0M331.5 711h0M313 711.5h0M331 712h0M337 712h0M345.5 712h0M317 712.5h0M358.5 712.5h0M308 713h0M340.5 713h0M342.5 713h0M343.5 713h0M347.5 713h0M325 714h0M333 714h0M336 714h0M328 714.5h0M328.5 714.5h0M370.5 714.5h0M324 715h0M326 716h0M327.5 716h0M331 716h0M333.5 716.5h0M327.5 717.5h0M329 718h0M306.5 718.5h0M314.5 720h0M321.5 720h0M344 720h0M330 722h0M344 722h0M347.5 722h0M328 723h0" stroke="#141414" stroke-width="1.32" stroke-linecap="round" fill="none"/>
<path d="M399 572.5h0M435.5 573h0M424.5 574h0M403.5 574.5h0M391 578.5h0M455 578.5h0M404.5 579h0M466.5 583h0M391 583.5h0M450 586h0M440 586.5h0M428 588h0M394.5 588.5h0M391.5 589h0M447.5 591.5h0M439.5 592h0M456 592h0M367.5 592.5h0M389.5 595h0M423.5 597h0M408.5 597.5h0M414 598.5h0M424 598.5h0M386.5 599.5h0M381.5 600h0M362.5 600.5h0M422 601h0M400.5 601.5h0M412.5 601.5h0M380 602h0M411 602h0M422 602.5h0M425.5 602.5h0M408.5 604h0M406.5 604.5h0M374 605h0M357.5 606h0M435 606h0M402 607h0M385 608h0M361.5 608.5h0M364.5 608.5h0M448.5 608.5h0M411.5 609h0M419.5 609h0M426 609.5h0M391.5 610h0M426 610h0M433 610h0M437 610h0M369 610.5h0M427 610.5h0M429 610.5h0M426 611h0M413.5 611.5h0M417.5 611.5h0M432 611.5h0M437.5 611.5h0M435.5 612h0M436.5 612h0M364.5 612.5h0M434 612.5h0M391.5 613h0M360 613.5h0M418 614.5h0M393 615h0M406.5 615h0M415 615h0M421.5 615h0M410.5 615.5h0M419 615.5h0M428.5 615.5h0M435 615.5h0M451.5 615.5h0M426.5 616h0M438.5 616h0M440 616h0M367 616.5h0M405.5 616.5h0M426 616.5h0M427.5 616.5h0M445.5 616.5h0M406.5 617.5h0M425.5 617.5h0M379.5 618h0M408 618h0M378 618.5h0M388.5 618.5h0M392 618.5h0M381.5 619h0M400 619h0M405 619.5h0M422.5 619.5h0M430 619.5h0M411 620h0M390 620.5h0M398.5 620.5h0M401.5 620.5h0M426.5 620.5h0M397.5 621h0M403.5 621h0M408.5 621h0M465.5 621h0M413.5 621.5h0M417 621.5h0M429.5 621.5h0M432 621.5h0M444 621.5h0M397 622h0M418 622h0M422.5 622h0M423.5 622h0M436 622h0M394.5 622.5h0M435 622.5h0M382.5 623h0M410 623h0M393.5 623.5h0M377.5 624h0M395 624h0M385 624.5h0M394.5 624.5h0M413 625h0M422.5 625h0M424 625h0M418.5 625.5h0M391 626h0M425.5 626.5h0M376 627h0M402.5 627h0M404 627h0M409 627h0M386.5 627.5h0M394 627.5h0M399 627.5h0M409 627.5h0M429.5 627.5h0M385 628h0M398.5 628h0M407.5 628h0M416.5 628h0M379 628.5h0M399.5 628.5h0M400.5 628.5h0M419.5 628.5h0M411 629h0M422.5 629h0M389.5 629.5h0M393 629.5h0M412 629.5h0M437.5 629.5h0M368 630h0M428 630h0M366.5 631h0M384 631h0M404 631h0M416 631h0M420 631h0M381 632h0M391.5 632h0M404 632h0M405.5 632h0M358.5 632.5h0M373.5 632.5h0M390 632.5h0M400.5 632.5h0M401 632.5h0M410 632.5h0M411 632.5h0M362 633h0M409.5 633h0M414.5 633h0M378 633.5h0M404.5 633.5h0M376.5 634h0M403.5 634h0M409.5 634h0M414 634h0M417 634h0M385.5 634.5h0M399 634.5h0M405 634.5h0M406 634.5h0M407 634.5h0M414 634.5h0M431 634.5h0M432 634.5h0M367.5 635h0M402 635h0M392 635.5h0M394.5 635.5h0M434.5 635.5h0M397.5 636h0M410 636h0M384.5 636.5h0M388 636.5h0M389.5 636.5h0M398.5 636.5h0M406 636.5h0M383 637h0M392.5 637h0M399.5 637h0M403.5 637h0M391 637.5h0M402.5 637.5h0M404.5 637.5h0M414.5 637.5h0M380.5 638h0M398 638h0M404 638h0M404.5 638h0M431.5 638h0M378.5 638.5h0M381 638.5h0M385.5 638.5h0M397 638.5h0M408 638.5h0M425.5 638.5h0M431.5 638.5h0M367.5 639h0M388 639h0M404 639h0M411 639h0M368 639.5h0M374 639.5h0M402 639.5h0M432.5 639.5h0M401 640h0M423 640h0M383 640.5h0M399 640.5h0M400.5 640.5h0M401.5 640.5h0M412 640.5h0M363 641h0M391.5 641h0M371.5 641.5h0M375.5 641.5h0M379.5 641.5h0M398 641.5h0M373.5 642h0M378.5 642h0M396.5 642h0M399.5 642h0M400.5 642h0M368 642.5h0M376.5 642.5h0M392.5 642.5h0M396.5 642.5h0M418 642.5h0M434.5 642.5h0M375.5 643h0M403.5 643h0M410 643h0M413.5 643h0M391 643.5h0M413 643.5h0M395.5 644h0M423 644h0M366.5 644.5h0M393 644.5h0M397.5 644.5h0M433 644.5h0M385.5 645h0M395.5 645h0M411 645h0M360 645.5h0M362 645.5h0M363.5 645.5h0M368 645.5h0M390.5 645.5h0M404.5 645.5h0M360.5 646h0M380 646h0M382.5 646h0M392 646h0M412 646h0M358.5 646.5h0M369 647h0M372 647h0M373 647h0M380.5 647h0M388 647h0M410 647h0M383.5 647.5h0M385 647.5h0M386.5 647.5h0M424.5 647.5h0M366 648h0M367.5 648h0M386 648h0M389.5 648h0M395 648h0M405.5 648h0M407 648h0M373.5 648.5h0M396 648.5h0M407 648.5h0M410 648.5h0M366 649h0M381.5 649.5h0M385.5 649.5h0M413 649.5h0M368.5 650h0M396 650h0M402 650h0M412.5 650h0M368.5 650.5h0M374.5 650.5h0M391.5 650.5h0M401.5 650.5h0M387.5 651h0M372 651.5h0M379 651.5h0M379.5 651.5h0M381.5 651.5h0M390.5 651.5h0M392 651.5h0M369.5 652h0M373.5 652h0M377 652h0M392 652.5h0M374 653h0M377.5 653h0M378 653h0M381.5 653h0M382.5 653h0M395.5 653h0M402.5 653h0M362 653.5h0M371.5 653.5h0M373.5 653.5h0M388 653.5h0M409.5 653.5h0M420.5 653.5h0M422 653.5h0M372.5 654h0M378 654h0M409 654h0M366.5 654.5h0M368.5 654.5h0M371.5 654.5h0M379 654.5h0M390 654.5h0M396.5 654.5h0M366.5 655h0M381 655h0M392.5 655h0M362 655.5h0M364 655.5h0M372.5 655.5h0M377.5 655.5h0M384.5 655.5h0M375.5 656h0M363.5 656.5h0M436 656.5h0M362 657h0M364.5 657h0M374.5 657h0M377.5 657h0M380 657h0M385.5 657h0M387.5 657h0M358.5 657.5h0M368 657.5h0M369.5 657.5h0M375.5 657.5h0M374 658h0M379 658h0M366 658.5h0M378 658.5h0M398 658.5h0M400.5 658.5h0M409.5 658.5h0M367 659h0M382.5 659h0M387.5 659h0M391.5 659h0M392 659h0M414.5 659h0M357.5 659.5h0M364 659.5h0M376.5 659.5h0M380 659.5h0M396 659.5h0M364.5 660h0M371.5 660h0M372 660h0M383 660h0M357.5 660.5h0M362 660.5h0M372.5 660.5h0M381 660.5h0M381.5 660.5h0M430 660.5h0M368.5 661h0M374.5 661h0M381.5 661h0M393 661h0M395.5 661h0M366.5 661.5h0M374 661.5h0M383 661.5h0M396 661.5h0M398 661.5h0M433 661.5h0M357.5 662h0M369.5 662h0M370 662h0M361 662.5h0M380 662.5h0M390.5 662.5h0M365 663h0M368 663h0M370 663h0M376.5 663h0M405.5 663h0M372 663.5h0M382 663.5h0M384 663.5h0M402.5 663.5h0M406.5 663.5h0M363.5 664h0M358 664.5h0M373 664.5h0M374.5 664.5h0M425 664.5h0M359 665h0M373 665h0M375 665h0M380.5 665h0M361.5 665.5h0M367.5 665.5h0M374 665.5h0M384 665.5h0M396.5 665.5h0M400.5 665.5h0M360 666h0M363 666h0M365 666h0M360 666.5h0M440 666.5h0M362 667h0M367.5 667h0M368 667h0M365 667.5h0M365.5 667.5h0M366 667.5h0M359 668h0M367 668h0M368.5 668h0M375 668h0M358 668.5h0M362 668.5h0M363.5 668.5h0M367 668.5h0M370 668.5h0M358.5 669h0M360.5 669h0M362.5 669h0M369.5 669h0M380 669h0M391.5 669h0M362 669.5h0M367 669.5h0M368.5 669.5h0M376 669.5h0M384.5 669.5h0M364.5 670h0M376.5 670.5h0M386 670.5h0M363 671h0M376 671h0M357.5 671.5h0M359.5 671.5h0M368 671.5h0M363.5 672h0M369 672h0M371 672h0M367 672.5h0M363 673h0M363.5 673h0M357 673.5h0M358.5 673.5h0M370 673.5h0M373 673.5h0M381.5 673.5h0M360 674h0M366 674h0M362.5 674.5h0M366 674.5h0M371 674.5h0M372.5 674.5h0M358.5 675h0M361 675h0M363 675h0M359 675.5h0M361.5 675.5h0M377.5 675.5h0M380.5 675.5h0M363.5 676h0M366.5 676h0M374.5 676h0M362 676.5h0M372 676.5h0M375 676.5h0M360.5 677h0M364 677h0M368 677h0M373.5 677h0M366.5 677.5h0M372 677.5h0M368 678h0M369.5 678h0M361 678.5h0M366 678.5h0M374 678.5h0M364.5 679h0M373 680h0M415.5 680.5h0M379 681h0M386.5 681h0M362.5 681.5h0M359.5 682h0M366 683h0M366.5 683h0M373 683h0M366 683.5h0M367.5 683.5h0M357.5 684h0M361 684h0M360 684.5h0M370.5 684.5h0M378 685h0M359.5 685.5h0M364 685.5h0M373.5 685.5h0M358.5 686h0M378.5 686.5h0M363.5 687h0M357 687.5h0M358.5 688h0M362 688.5h0M419 691h0M369.5 693h0M357.5 693.5h0M379 694.5h0M358 703h0M358 707h0M373.5 707.5h0M380 714h0M361.5 715.5h0M372 719h0M368 721h0M357.5 723.5h0M389.5 724h0M412 724h0" stroke="#262626" stroke-width="1.26" stroke-linecap="round" fill="none"/>
<rect x="305" y="535.6" width="209" height="190.8" fill="none" stroke="#333" stroke-width="1.1"/>
<path d="M356.4 535.6V726.4M305 679.4H514" stroke="#2a2a2a" stroke-width="1.1" fill="none"/>
<path d="M320.9 726.4v3.2M330.1 726.4v3.2M336.6 726.4v3.2M341.7 726.4v3.2M345.8 726.4v3.2M349.3 726.4v3.2M352.3 726.4v3.2M355.0 726.4v3.2M357.4 726.4v7M373.1 726.4v3.2M382.3 726.4v3.2M388.8 726.4v3.2M393.9 726.4v3.2M398.0 726.4v3.2M401.5 726.4v3.2M404.5 726.4v3.2M407.2 726.4v3.2M409.6 726.4v7M425.3 726.4v3.2M434.5 726.4v3.2M441.0 726.4v3.2M446.1 726.4v3.2M450.2 726.4v3.2M453.7 726.4v3.2M456.7 726.4v3.2M459.4 726.4v3.2M461.8 726.4v7M477.5 726.4v3.2M486.7 726.4v3.2M493.2 726.4v3.2M498.3 726.4v3.2M502.4 726.4v3.2M505.9 726.4v3.2M508.9 726.4v3.2M511.6 726.4v3.2M514.0 726.4v7" stroke="#222" stroke-width="1.2" fill="none"/>
<path d="M305 713.0h-3.8M305 704.5h-3.8M305 698.5h-3.8M305 693.9h-3.8M305 690.1h-3.8M305 686.9h-3.8M305 684.1h-3.8M305 681.6h-3.8M305 679.5h-7.7M305 665.0h-3.8M305 656.6h-3.8M305 650.6h-3.8M305 645.9h-3.8M305 642.1h-3.8M305 638.9h-3.8M305 636.1h-3.8M305 633.7h-3.8M305 631.5h-7.7M305 617.1h-3.8M305 608.6h-3.8M305 602.6h-3.8M305 598.0h-3.8M305 594.2h-3.8M305 591.0h-3.8M305 588.2h-3.8M305 585.7h-3.8M305 583.6h-7.7M305 569.1h-3.8M305 560.7h-3.8M305 554.7h-3.8M305 550.0h-3.8M305 546.2h-3.8M305 543.0h-3.8M305 540.2h-3.8M305 537.8h-3.8M305 535.6h-7.7" stroke="#222" stroke-width="1.2" fill="none"/>
<text x="359.0" y="741.3" font-size="8.8" font-weight="bold" text-anchor="middle" fill="#000" stroke="#000" stroke-width="0.3">10<tspan font-size="6.2" dy="-3.7">0</tspan></text>
<text x="411.2" y="741.3" font-size="8.8" font-weight="bold" text-anchor="middle" fill="#000" stroke="#000" stroke-width="0.3">10<tspan font-size="6.2" dy="-3.7">1</tspan></text>
<text x="463.4" y="741.3" font-size="8.8" font-weight="bold" text-anchor="middle" fill="#000" stroke="#000" stroke-width="0.3">10<tspan font-size="6.2" dy="-3.7">2</tspan></text>
<text x="506.2" y="741.3" font-size="8.8" font-weight="bold" text-anchor="middle" fill="#000" stroke="#000" stroke-width="0.3">10<tspan font-size="6.2" dy="-3.7">3</tspan></text>
<text x="296.3" y="683.1" font-size="8.8" font-weight="bold" text-anchor="end" fill="#000" stroke="#000" stroke-width="0.3">10<tspan font-size="6.2" dy="-3.7">0</tspan></text>
<text x="296.3" y="635.1" font-size="8.8" font-weight="bold" text-anchor="end" fill="#000" stroke="#000" stroke-width="0.3">10<tspan font-size="6.2" dy="-3.7">1</tspan></text>
<text x="296.3" y="587.2" font-size="8.8" font-weight="bold" text-anchor="end" fill="#000" stroke="#000" stroke-width="0.3">10<tspan font-size="6.2" dy="-3.7">2</tspan></text>
<text x="296.3" y="539.2" font-size="8.8" font-weight="bold" text-anchor="end" fill="#000" stroke="#000" stroke-width="0.3">10<tspan font-size="6.2" dy="-3.7">3</tspan></text>
<text x="305.4" y="549.8" font-size="10.3" font-weight="bold" fill="#111" stroke="#111" stroke-width=".25">B1</text>
<text x="306.8" y="562.8" font-size="10.3" font-weight="bold" fill="#111" stroke="#111" stroke-width=".25">71.8%</text>
<text x="356.8" y="549.8" font-size="10.3" font-weight="bold" fill="#111" stroke="#111" stroke-width=".25">B2</text>
<text x="359.8" y="562.8" font-size="10.3" font-weight="bold" fill="#111" stroke="#111" stroke-width=".25">14.9%</text>
<text x="305.4" y="693.2" font-size="10.3" font-weight="bold" fill="#111" stroke="#111" stroke-width=".25">B3</text>
<text x="308.6" y="707.6" font-size="10.3" font-weight="bold" fill="#111" stroke="#111" stroke-width=".25">10.3%</text>
<text x="356.8" y="693.2" font-size="10.3" font-weight="bold" fill="#111" stroke="#111" stroke-width=".25">B4</text>
<text x="362" y="707.6" font-size="10.3" font-weight="bold" fill="#111" stroke="#111" stroke-width=".25">3.0%</text>
<text x="445" y="561" font-size="22.8">14.9%</text>
<line x1="306" y1="751.3" x2="504.5" y2="751.3" stroke="#111" stroke-width="1.45"/>
<polygon points="513.30,751.30 502.30,754.10 504.50,751.30 502.30,748.50" fill="#111"/>
<text x="402" y="772.6" font-size="18.9">FasL</text>
</svg>
</body></html>
